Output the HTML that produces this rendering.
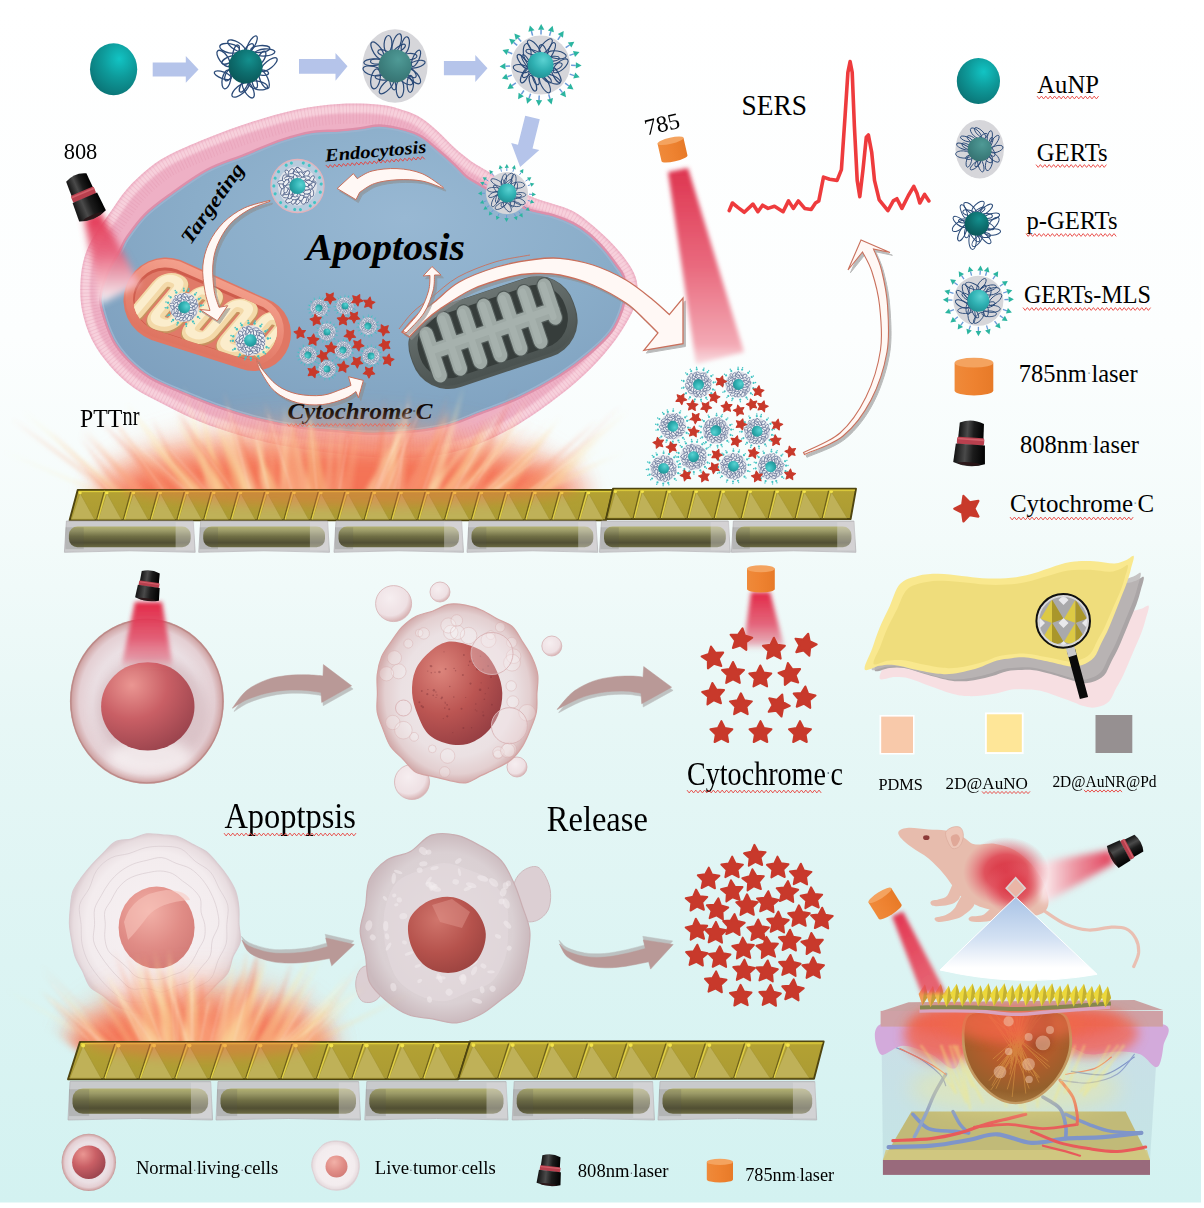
<!DOCTYPE html>
<html><head><meta charset="utf-8"><title>Scheme</title>
<style>html,body{margin:0;padding:0;background:#fff}svg{display:block}text{font-family:"Liberation Serif",serif}</style>
</head><body>
<svg width="1204" height="1208" viewBox="0 0 1204 1208">
<defs><path id="st" d="M0,-9.2 L2.7,-3.7 L8.7,-2.8 L4.4,1.4 L5.4,7.4 L0,4.6 L-5.4,7.4 L-4.4,1.4 L-8.7,-2.8 L-2.7,-3.7Z" fill="#c8392b" stroke="#c8392b" stroke-width="1.6" stroke-linejoin="round"/>

<radialGradient id="gTeal" cx="0.62" cy="0.3" r="0.8"><stop offset="0" stop-color="#12c4c4"/><stop offset="0.45" stop-color="#0e9a9a"/><stop offset="1" stop-color="#0a6e70"/></radialGradient>
<radialGradient id="gTealD" cx="0.6" cy="0.3" r="0.8"><stop offset="0" stop-color="#14908e"/><stop offset="0.5" stop-color="#0d6e6e"/><stop offset="1" stop-color="#0a5254"/></radialGradient>
<radialGradient id="gTealM" cx="0.6" cy="0.3" r="0.8"><stop offset="0" stop-color="#4f9a96"/><stop offset="0.6" stop-color="#3d807e"/><stop offset="1" stop-color="#356e6e"/></radialGradient>
<radialGradient id="gTealL" cx="0.6" cy="0.3" r="0.8"><stop offset="0" stop-color="#5ad2d2"/><stop offset="0.5" stop-color="#2fb0b2"/><stop offset="1" stop-color="#1e8a8e"/></radialGradient>

<g id="mpc"><circle r="14" fill="#dfe2ea"/><g fill="#eef0f4" stroke="#3a4e7a" stroke-width="0.5"><ellipse cx="11" cy="0.8" rx="2.6" ry="1.4" transform="rotate(49.3 11 0.8)"/><ellipse cx="10.8" cy="3.3" rx="2.8" ry="1.6" transform="rotate(36.2 10.8 3.3)"/><ellipse cx="10.4" cy="5" rx="2.8" ry="1.6" transform="rotate(71.6 10.4 5)"/><ellipse cx="7.5" cy="7.9" rx="2.8" ry="1.3" transform="rotate(86 7.5 7.9)"/><ellipse cx="4.7" cy="9.8" rx="2.8" ry="1.5" transform="rotate(72.7 4.7 9.8)"/><ellipse cx="2.1" cy="11.6" rx="2.9" ry="1.6" transform="rotate(113.3 2.1 11.6)"/><ellipse cx="-1.4" cy="10.6" rx="2.8" ry="1.3" transform="rotate(136.6 -1.4 10.6)"/><ellipse cx="-5.6" cy="9.8" rx="3" ry="1.3" transform="rotate(66.2 -5.6 9.8)"/><ellipse cx="-9.2" cy="7.1" rx="2.8" ry="1.3" transform="rotate(204.4 -9.2 7.1)"/><ellipse cx="-10.3" cy="5.1" rx="3.1" ry="1.3" transform="rotate(137.7 -10.3 5.1)"/><ellipse cx="-10.6" cy="1.7" rx="2.6" ry="1.6" transform="rotate(239.9 -10.6 1.7)"/><ellipse cx="-11.1" cy="-2.6" rx="2.9" ry="1.3" transform="rotate(190.3 -11.1 -2.6)"/><ellipse cx="-9.9" cy="-4.5" rx="3" ry="1.5" transform="rotate(261 -9.9 -4.5)"/><ellipse cx="-7.7" cy="-7.8" rx="2.9" ry="1.3" transform="rotate(260.4 -7.7 -7.8)"/><ellipse cx="-6.4" cy="-9.3" rx="2.7" ry="1.4" transform="rotate(179 -6.4 -9.3)"/><ellipse cx="-1.4" cy="-10.8" rx="2.6" ry="1.3" transform="rotate(300.6 -1.4 -10.8)"/><ellipse cx="-0.5" cy="-10.9" rx="2.7" ry="1.6" transform="rotate(267.8 -0.5 -10.9)"/><ellipse cx="4.7" cy="-10.2" rx="3" ry="1.3" transform="rotate(261.9 4.7 -10.2)"/><ellipse cx="7.1" cy="-8.4" rx="2.6" ry="1.5" transform="rotate(303.8 7.1 -8.4)"/><ellipse cx="8.1" cy="-7" rx="3" ry="1.4" transform="rotate(262.3 8.1 -7)"/><ellipse cx="11.1" cy="-2.7" rx="2.7" ry="1.4" transform="rotate(408.5 11.1 -2.7)"/><ellipse cx="8.4" cy="1.6" rx="2.8" ry="1.3" transform="rotate(-32 8.4 1.6)"/><ellipse cx="7.4" cy="4.6" rx="2.6" ry="1.5" transform="rotate(81.6 7.4 4.6)"/><ellipse cx="4" cy="7.7" rx="2.6" ry="1.4" transform="rotate(132.8 4 7.7)"/><ellipse cx="0.4" cy="8.4" rx="2.9" ry="1.3" transform="rotate(73 0.4 8.4)"/><ellipse cx="-3" cy="8" rx="2.4" ry="1.4" transform="rotate(83.7 -3 8)"/><ellipse cx="-4.9" cy="7" rx="2.9" ry="1.4" transform="rotate(62.9 -4.9 7)"/><ellipse cx="-7.8" cy="3.3" rx="2.8" ry="1.4" transform="rotate(89 -7.8 3.3)"/><ellipse cx="-8.7" cy="-0.1" rx="2.9" ry="1.2" transform="rotate(133.5 -8.7 -0.1)"/><ellipse cx="-7.8" cy="-3.5" rx="2.8" ry="1.2" transform="rotate(145.3 -7.8 -3.5)"/><ellipse cx="-5.9" cy="-6.3" rx="2.8" ry="1.2" transform="rotate(163 -5.9 -6.3)"/><ellipse cx="-3.1" cy="-8.2" rx="2.4" ry="1.2" transform="rotate(190.4 -3.1 -8.2)"/><ellipse cx="1.2" cy="-8.5" rx="2.8" ry="1.5" transform="rotate(322 1.2 -8.5)"/><ellipse cx="4.4" cy="-7.2" rx="2.4" ry="1.4" transform="rotate(324.4 4.4 -7.2)"/><ellipse cx="7.2" cy="-4.3" rx="2.7" ry="1.4" transform="rotate(284.8 7.2 -4.3)"/><ellipse cx="8.1" cy="-1.3" rx="2.7" ry="1.5" transform="rotate(307.4 8.1 -1.3)"/><ellipse cx="5.9" cy="2.2" rx="2.3" ry="1.2" transform="rotate(-22.2 5.9 2.2)"/><ellipse cx="2.9" cy="5.4" rx="2.2" ry="1.3" transform="rotate(87.2 2.9 5.4)"/><ellipse cx="-0.8" cy="6.3" rx="2.2" ry="1.2" transform="rotate(57.5 -0.8 6.3)"/><ellipse cx="-4.6" cy="4.3" rx="2.2" ry="1.2" transform="rotate(141 -4.6 4.3)"/><ellipse cx="-6.4" cy="0.2" rx="2.1" ry="1.2" transform="rotate(203.8 -6.4 0.2)"/><ellipse cx="-4.9" cy="-3.5" rx="2.3" ry="1.4" transform="rotate(218.1 -4.9 -3.5)"/><ellipse cx="-0.3" cy="-6.3" rx="2.3" ry="1.3" transform="rotate(309.9 -0.3 -6.3)"/><ellipse cx="3.9" cy="-4.8" rx="2.2" ry="1.4" transform="rotate(359.2 3.9 -4.8)"/><ellipse cx="5.7" cy="-2.7" rx="2.4" ry="1.3" transform="rotate(326.7 5.7 -2.7)"/></g><circle r="5.8" fill="url(#gTealL)"/></g><g id="mpd" fill="#43c3c3"><circle cx="16.1" cy="-1.4" r="1.15"/><circle cx="18.2" cy="-1.5" r="0.75"/><circle cx="15.4" cy="5.1" r="1.15"/><circle cx="17.4" cy="5.7" r="0.75"/><circle cx="11.8" cy="11.1" r="1.15"/><circle cx="13.3" cy="12.6" r="0.75"/><circle cx="4.9" cy="15.4" r="1.15"/><circle cx="5.6" cy="17.4" r="0.75"/><circle cx="-0.4" cy="16.2" r="1.15"/><circle cx="-0.5" cy="18.3" r="0.75"/><circle cx="-6.5" cy="14.9" r="1.15"/><circle cx="-7.3" cy="16.8" r="0.75"/><circle cx="-12.2" cy="10.7" r="1.15"/><circle cx="-13.7" cy="12.1" r="0.75"/><circle cx="-14.8" cy="6.6" r="1.15"/><circle cx="-16.7" cy="7.4" r="0.75"/><circle cx="-16.2" cy="1" r="1.15"/><circle cx="-18.3" cy="1.1" r="0.75"/><circle cx="-15" cy="-6.1" r="1.15"/><circle cx="-17" cy="-6.8" r="0.75"/><circle cx="-10.6" cy="-12.2" r="1.15"/><circle cx="-12" cy="-13.8" r="0.75"/><circle cx="-7.1" cy="-14.6" r="1.15"/><circle cx="-8" cy="-16.5" r="0.75"/><circle cx="-0" cy="-16.2" r="1.15"/><circle cx="-0" cy="-18.3" r="0.75"/><circle cx="5.7" cy="-15.2" r="1.15"/><circle cx="6.4" cy="-17.1" r="0.75"/><circle cx="11.2" cy="-11.7" r="1.15"/><circle cx="12.6" cy="-13.3" r="0.75"/><circle cx="14.5" cy="-7.2" r="1.15"/><circle cx="16.4" cy="-8.2" r="0.75"/></g><g id="mpd1" fill="#43c3c3"><circle cx="17" cy="1.2" r="1.1"/><circle cx="16.2" cy="5.1" r="1.1"/><circle cx="12.5" cy="11.6" r="1.1"/><circle cx="9.3" cy="14.2" r="1.1"/><circle cx="3.2" cy="16.7" r="1.1"/><circle cx="-1.6" cy="16.9" r="1.1"/><circle cx="-8.7" cy="14.6" r="1.1"/><circle cx="-13" cy="10.9" r="1.1"/><circle cx="-15.9" cy="6" r="1.1"/><circle cx="-17" cy="0.9" r="1.1"/><circle cx="-15.8" cy="-6.2" r="1.1"/><circle cx="-13.9" cy="-9.8" r="1.1"/><circle cx="-7.4" cy="-15.3" r="1.1"/><circle cx="-3" cy="-16.7" r="1.1"/><circle cx="3.3" cy="-16.7" r="1.1"/><circle cx="8.3" cy="-14.8" r="1.1"/><circle cx="12.1" cy="-12" r="1.1"/><circle cx="15.4" cy="-7.1" r="1.1"/></g>

<linearGradient id="gCylSide" x1="0" x2="1"><stop offset="0" stop-color="#ef8a3a"/><stop offset="0.5" stop-color="#ee8230"/><stop offset="1" stop-color="#e77a28"/></linearGradient>
<linearGradient id="gBlk" x1="0" x2="1"><stop offset="0" stop-color="#111"/><stop offset="0.35" stop-color="#4a4a4a"/><stop offset="0.6" stop-color="#1c1c1c"/><stop offset="1" stop-color="#000"/></linearGradient>


<filter id="b1" x="-20%" y="-20%" width="140%" height="140%"><feGaussianBlur stdDeviation="1"/></filter>
<filter id="b2" x="-20%" y="-20%" width="140%" height="140%"><feGaussianBlur stdDeviation="2"/></filter>
<filter id="b3" x="-20%" y="-20%" width="140%" height="140%"><feGaussianBlur stdDeviation="3.5"/></filter>
<filter id="b6" x="-30%" y="-30%" width="160%" height="160%"><feGaussianBlur stdDeviation="6"/></filter>
<filter id="b10" x="-40%" y="-40%" width="180%" height="180%"><feGaussianBlur stdDeviation="10"/></filter>
<filter id="b16" x="-50%" y="-50%" width="200%" height="200%"><feGaussianBlur stdDeviation="16"/></filter>
<linearGradient id="gGold" x1="0" y1="0" x2="0" y2="1"><stop offset="0" stop-color="#dccb3a"/><stop offset="0.1" stop-color="#b3a133"/><stop offset="1" stop-color="#ab9b33"/></linearGradient>
<linearGradient id="gRod" x1="0" y1="0" x2="0" y2="1"><stop offset="0" stop-color="#b3b272"/><stop offset="0.2" stop-color="#9b9a67"/><stop offset="0.48" stop-color="#6f6e44"/><stop offset="0.78" stop-color="#514f33"/><stop offset="1" stop-color="#6c6b41"/></linearGradient>
<linearGradient id="gBeam785" x1="0" y1="0" x2="0" y2="1"><stop offset="0" stop-color="#de3550"/><stop offset="0.5" stop-color="#e96a7e"/><stop offset="0.9" stop-color="#f3a9b4"/><stop offset="1" stop-color="#f6b9c2" stop-opacity="0.5"/></linearGradient>
<linearGradient id="gBeam808" x1="0" y1="0" x2="0" y2="1"><stop offset="0" stop-color="#e2304e"/><stop offset="0.45" stop-color="#e8607a" stop-opacity="0.9"/><stop offset="1" stop-color="#ffffff" stop-opacity="0.95"/></linearGradient>
<radialGradient id="gCellBlue" cx="0.58" cy="0.3" r="0.8"><stop offset="0" stop-color="#98b8d3"/><stop offset="0.5" stop-color="#8aadc9"/><stop offset="1" stop-color="#7b9dbc"/></radialGradient>


<linearGradient id="gMitoP" x1="0" y1="0" x2="0" y2="1"><stop offset="0" stop-color="#f3a08c"/><stop offset="0.5" stop-color="#ea8875"/><stop offset="1" stop-color="#de7461"/></linearGradient>
<linearGradient id="gCream" x1="0" y1="0" x2="0" y2="1"><stop offset="0" stop-color="#fbeccb"/><stop offset="1" stop-color="#ecd09a"/></linearGradient>
<linearGradient id="gMitoG" x1="0" y1="0" x2="0" y2="1"><stop offset="0" stop-color="#6b7472"/><stop offset="1" stop-color="#4a5250"/></linearGradient>
<linearGradient id="gArrW" x1="0" y1="0" x2="1" y2="0"><stop offset="0" stop-color="#fff" stop-opacity="0.7"/><stop offset="1" stop-color="#fff7f4"/></linearGradient>


<radialGradient id="gNuc1" cx="0.33" cy="0.26" r="0.85"><stop offset="0" stop-color="#ea9692"/><stop offset="0.45" stop-color="#c95f65"/><stop offset="1" stop-color="#94404a"/></radialGradient>
<radialGradient id="gNuc2" cx="0.32" cy="0.28" r="0.85"><stop offset="0" stop-color="#dc857c"/><stop offset="0.5" stop-color="#bb5552"/><stop offset="1" stop-color="#8f3a40"/></radialGradient>
<radialGradient id="gNuc3" cx="0.4" cy="0.3" r="0.8"><stop offset="0" stop-color="#f2b1a8"/><stop offset="0.55" stop-color="#e08c86"/><stop offset="1" stop-color="#cf7874"/></radialGradient>
<radialGradient id="gNuc4" cx="0.38" cy="0.3" r="0.8"><stop offset="0" stop-color="#d0756c"/><stop offset="0.55" stop-color="#b5524c"/><stop offset="1" stop-color="#98413e"/></radialGradient>
<radialGradient id="gCellN" cx="0.5" cy="0.5" r="0.5"><stop offset="0" stop-color="#e6dade"/><stop offset="0.7" stop-color="#ebe0e4"/><stop offset="0.88" stop-color="#e4cfd3"/><stop offset="0.96" stop-color="#d3abac"/><stop offset="1" stop-color="#c39493"/></radialGradient>
<radialGradient id="gCellA" cx="0.5" cy="0.5" r="0.5"><stop offset="0" stop-color="#f0eaeb"/><stop offset="0.7" stop-color="#ebe1e3"/><stop offset="0.9" stop-color="#e3cfd0"/><stop offset="1" stop-color="#d3adad"/></radialGradient>
<radialGradient id="gCellT" cx="0.5" cy="0.5" r="0.5"><stop offset="0" stop-color="#f7f1f3"/><stop offset="0.8" stop-color="#f3ecee"/><stop offset="0.95" stop-color="#e8dde0"/><stop offset="1" stop-color="#dccdd1"/></radialGradient>
<radialGradient id="gCellT2" cx="0.5" cy="0.5" r="0.5"><stop offset="0" stop-color="#e2dadc"/><stop offset="0.8" stop-color="#dad0d3"/><stop offset="1" stop-color="#cbbabe"/></radialGradient>
<radialGradient id="gBleb" cx="0.4" cy="0.35" r="0.65"><stop offset="0" stop-color="#f6eef0"/><stop offset="0.75" stop-color="#eee0e3"/><stop offset="1" stop-color="#d9b5b6"/></radialGradient>
<linearGradient id="gBeamS" x1="0" y1="0" x2="0" y2="1"><stop offset="0" stop-color="#e22846"/><stop offset="0.55" stop-color="#e24a64" stop-opacity="0.85"/><stop offset="0.85" stop-color="#e0506a" stop-opacity="0.5"/><stop offset="1" stop-color="#e0506a" stop-opacity="0"/></linearGradient>


<linearGradient id="gTri" x1="0" y1="0" x2="0" y2="1"><stop offset="0" stop-color="#a9c3e6"/><stop offset="0.5" stop-color="#d3e1f3"/><stop offset="0.85" stop-color="#ffffff"/><stop offset="1" stop-color="#ffffff"/></linearGradient>
<linearGradient id="gGlass" x1="0" y1="0" x2="0" y2="1"><stop offset="0" stop-color="#c9dde6"/><stop offset="1" stop-color="#c3e3e4"/></linearGradient>
<radialGradient id="gTumor" cx="0.5" cy="0.25" r="0.8"><stop offset="0" stop-color="#d8603c"/><stop offset="0.4" stop-color="#b85c2c"/><stop offset="0.8" stop-color="#94602c"/><stop offset="1" stop-color="#a87a40"/></radialGradient>
<radialGradient id="gRedGlow" cx="0.5" cy="0.5" r="0.5"><stop offset="0" stop-color="#d62a3a"/><stop offset="0.5" stop-color="#df4452" stop-opacity="0.88"/><stop offset="1" stop-color="#e86a78" stop-opacity="0"/></radialGradient>
<linearGradient id="gBeamR" x1="1" y1="0" x2="0" y2="0"><stop offset="0" stop-color="#e03a55"/><stop offset="0.45" stop-color="#ee8594" stop-opacity="0.88"/><stop offset="0.8" stop-color="#fbe4e8" stop-opacity="0.92"/><stop offset="1" stop-color="#ffffff" stop-opacity="0.8"/></linearGradient>
<linearGradient id="gBeamL" x1="0" y1="0" x2="0.4" y2="1"><stop offset="0" stop-color="#e23350"/><stop offset="1" stop-color="#e8485a" stop-opacity="0.85"/></linearGradient>
<linearGradient id="gPyr" x1="0" y1="0" x2="1" y2="0"><stop offset="0" stop-color="#e1cf4a"/><stop offset="0.5" stop-color="#d8c53c"/><stop offset="0.5" stop-color="#a8952a"/><stop offset="1" stop-color="#b9a632"/></linearGradient>


<linearGradient id="gBg" x1="0" y1="0" x2="0" y2="1">
<stop offset="0" stop-color="#ffffff"/><stop offset="0.28" stop-color="#fcfefe"/><stop offset="0.45" stop-color="#f3fbfa"/>
<stop offset="0.6" stop-color="#e7f7f6"/><stop offset="0.8" stop-color="#dcf4f3"/><stop offset="1" stop-color="#d3f2f1"/></linearGradient>
</defs>
<rect x="0" y="0" width="1201" height="1202.5" fill="url(#gBg)"/>
<path d="M339,104 C352.8,103.2 369,103.7 380,104.8 C391,105.9 398.1,108.6 405,110.8 C411.9,113 416,114.8 421.5,118.2 C427,121.7 432.4,126.5 438,131.5 C443.6,136.5 449.2,143 454.8,148 C460.4,153 465.9,157.5 471.4,161.4 C476.9,165.3 481.2,167.1 488,171.4 C494.8,175.7 504.2,182.6 512,187 C519.8,191.4 527.7,195.1 534.6,197.9 C541.5,200.7 546.8,201.7 553.2,203.9 C559.6,206.1 566.6,207.5 573.2,211.2 C579.9,214.8 586.5,220.3 593.1,225.8 C599.7,231.3 607.5,238.6 613,244.4 C618.5,250.2 622.8,255.5 626.3,260.4 C629.8,265.3 632.4,269.3 634.3,273.7 C636.2,278.1 637.3,282.3 637.5,287 C637.7,291.7 636.5,297.5 635.5,302 C634.5,306.5 634.8,307.7 631.4,314 C628,320.3 622,331.1 615.4,340 C608.8,348.9 600.8,358.4 591.5,367.7 C582.2,377 571.6,386.3 559.6,395.6 C547.6,404.9 533,415.5 519.7,423.5 C506.4,431.5 493.2,438.1 479.9,443.4 C466.6,448.6 453.3,452.6 440,455 C426.7,457.4 413.3,457.8 400,458 C386.7,458.2 373.3,457.1 360,456 C346.7,454.9 333.5,453.3 320,451.5 C306.5,449.7 292.5,447.8 279,445 C265.5,442.2 252.2,438.9 239,435 C225.8,431.1 211.7,426.4 199.5,421.5 C187.3,416.6 176.9,411.1 166,405.5 C155.1,399.9 143.3,394.6 134,388 C124.7,381.4 117,374 110,366 C103,358 96.7,349.3 92,340 C87.3,330.7 83.9,319.7 82,310 C80.1,300.3 80.1,290.8 80.5,282 C80.9,273.2 82.2,264.7 84.5,257 C86.8,249.3 89.9,243.2 94,236 C98.1,228.8 103.5,221.8 109,214 C114.5,206.2 120.2,196.8 127,189 C133.8,181.2 142.5,173.2 150,167.3 C157.5,161.4 162,158.6 172,153.5 C182,148.4 197,142.2 210,137 C223,131.8 235.5,127.1 250,122.5 C264.5,117.9 282.2,112.6 297,109.5 C311.8,106.4 325.2,104.8 339,104Z" fill="#eeb0c5"/><path d="M339.3,109.5 C352.9,108.7 368.8,109.2 379.4,110.3 C390.1,111.4 396.8,113.9 403.3,116 C409.8,118.1 413.4,119.6 418.6,122.9 C423.7,126.1 428.9,130.7 434.3,135.6 C439.8,140.5 445.5,147 451.1,152.1 C456.8,157.1 462.6,161.9 468.2,165.9 C473.9,169.9 478.2,171.7 485.1,176.1 C491.9,180.4 501.4,187.3 509.3,191.8 C517.2,196.3 525.5,200.1 532.5,203 C539.5,205.9 545.1,206.9 551.4,209.1 C557.7,211.3 564.2,212.5 570.6,216 C576.9,219.5 583.2,224.7 589.6,230 C596,235.4 603.7,242.6 609,248.2 C614.4,253.8 618.5,259 621.9,263.6 C625.2,268.2 627.5,271.9 629.2,275.8 C630.9,279.8 631.9,283.1 632,287.2 C632.2,291.4 631,296.8 630.1,300.8 C629.2,304.8 629.7,305.4 626.5,311.4 C623.3,317.4 617.5,328 611,336.7 C604.5,345.4 596.7,354.7 587.6,363.8 C578.5,372.9 568,382.1 556.2,391.3 C544.4,400.4 529.9,410.9 516.9,418.8 C503.8,426.6 490.9,433.2 477.9,438.3 C464.9,443.4 452,447.2 439,449.6 C426,452 413,452.3 399.9,452.5 C386.8,452.7 373.6,451.6 360.4,450.5 C347.2,449.4 334.1,447.9 320.7,446.1 C307.3,444.2 293.5,442.3 280.1,439.6 C266.7,436.9 253.6,433.6 240.6,429.7 C227.5,425.9 213.6,421.3 201.6,416.4 C189.6,411.5 179.2,406.1 168.5,400.6 C157.8,395.1 146.2,389.9 137.2,383.5 C128.1,377.1 120.8,370 114.1,362.4 C107.4,354.7 101.4,346.4 96.9,337.5 C92.5,328.6 89.2,318.1 87.4,308.9 C85.6,299.7 85.6,290.7 86,282.3 C86.4,273.9 87.6,265.8 89.8,258.5 C91.9,251.3 94.8,245.6 98.8,238.7 C102.7,231.8 108.1,224.8 113.5,217.2 C118.9,209.5 124.5,200.2 131.1,192.6 C137.8,185 146.2,177.3 153.4,171.6 C160.6,165.9 164.7,163.3 174.5,158.4 C184.3,153.5 199.2,147.2 212,142.1 C224.9,137 237.3,132.3 251.7,127.7 C266,123.2 283.5,117.9 298.1,114.9 C312.7,111.8 325.8,110.3 339.3,109.5Z" fill="none" stroke="#f8d3de" stroke-width="8" opacity="0.95" filter="url(#b1)"/><path d="M339.6,114 C352.9,113.2 368.6,113.7 379,114.7 C389.4,115.8 395.7,118.3 401.9,120.3 C408.1,122.3 411.3,123.6 416.2,126.7 C421.1,129.8 426,134.2 431.3,139 C436.7,143.7 442.4,150.3 448.1,155.5 C453.8,160.6 459.9,165.5 465.6,169.6 C471.4,173.6 475.8,175.5 482.7,179.9 C489.6,184.2 499,191.1 507.1,195.7 C515.1,200.2 523.7,204.2 530.8,207.2 C538,210.1 543.7,211.2 549.9,213.4 C556.2,215.5 562.3,216.6 568.4,220 C574.5,223.3 580.5,228.3 586.7,233.5 C592.9,238.7 600.5,245.9 605.8,251.3 C611,256.8 615,261.9 618.2,266.3 C621.4,270.7 623.5,274.1 625.1,277.6 C626.6,281.1 627.4,283.7 627.5,287.4 C627.6,291.1 626.6,296.1 625.7,299.8 C624.9,303.4 625.6,303.6 622.6,309.3 C619.5,315 613.7,325.5 607.4,334 C601,342.6 593.4,351.7 584.4,360.6 C575.5,369.6 565.1,378.7 553.5,387.7 C541.8,396.8 527.4,407.2 514.6,414.9 C501.7,422.7 489,429.1 476.2,434.1 C463.5,439.1 450.9,442.8 438.2,445.2 C425.5,447.5 412.8,447.9 399.9,448 C387,448.1 373.9,447.1 360.8,446 C347.7,445 334.6,443.4 321.3,441.6 C308,439.8 294.2,437.9 281,435.2 C267.7,432.5 254.8,429.2 241.8,425.4 C228.9,421.6 215.1,417 203.2,412.2 C191.4,407.4 181.1,402 170.6,396.6 C160,391.2 148.6,386 139.8,379.8 C130.9,373.6 124,366.8 117.5,359.4 C111.1,352 105.2,344.1 100.9,335.5 C96.7,327 93.6,316.9 91.8,308.1 C90.1,299.2 90.1,290.5 90.5,282.5 C90.9,274.4 92.1,266.7 94.1,259.8 C96.1,252.9 98.8,247.6 102.7,241 C106.5,234.3 111.9,227.3 117.2,219.7 C122.5,212.2 128,203 134.5,195.6 C141,188.2 149.2,180.7 156.2,175.2 C163.2,169.6 166.9,167.2 176.5,162.4 C186.1,157.6 200.9,151.4 213.7,146.3 C226.4,141.2 238.8,136.5 253,132 C267.2,127.5 284.6,122.3 299,119.3 C313.5,116.3 326.2,114.7 339.6,114Z" fill="none" stroke="#d9869f" stroke-width="20" stroke-dasharray="0.9 2.4" opacity="0.22"/><path d="M339,130.5 C347.3,129.8 355.2,128.8 362,128 C368.8,127.2 372.8,125.2 380,125.5 C387.2,125.8 398.1,128.1 405,129.9 C411.9,131.7 416,133.2 421.5,136.5 C427,139.8 432.4,145.1 438,149.8 C443.6,154.5 450.1,160.4 454.8,164.8 C459.5,169.2 462.2,173.1 466.4,176.4 C470.5,179.7 473.3,180.9 479.7,184.7 C486.1,188.5 496.7,194.8 505,199 C513.3,203.2 521.5,206.9 529.5,209.6 C537.5,212.3 545.9,212.9 553.2,215.2 C560.5,217.5 567.2,220.1 573.2,223.2 C579.2,226.3 583.8,229.4 589.1,233.8 C594.4,238.2 600.4,244.4 605,249.7 C609.6,255 613.9,261.3 617,265.7 C620.1,270.1 622.3,272.1 623.7,276.3 C625.1,280.5 625.7,285.5 625.5,291 C625.3,296.5 624.6,302.7 622.3,309.5 C619.9,316.3 616.9,324.6 611.4,332 C605.9,339.4 598.1,346.4 589.5,353.7 C580.9,361 571.2,368.4 559.6,375.7 C548,383 533,391.3 519.7,397.6 C506.4,403.9 493.2,408.5 479.9,413.5 C466.6,418.5 456.6,424.1 440,427.5 C423.4,430.9 396.7,432.9 380,433.6 C363.3,434.3 353.3,432.5 340,431.5 C326.7,430.5 313.4,429.5 300,427.5 C286.6,425.5 272.7,422.8 259.3,419.5 C245.9,416.2 232.8,412.1 219.5,407.5 C206.2,402.9 191.2,396.6 179.6,391.6 C168,386.6 158.3,382.9 149.7,377.6 C141.1,372.3 133.9,366 127.8,359.7 C121.7,353.4 117.1,348.1 112.8,339.8 C108.5,331.5 103.9,317.6 101.9,310 C99.9,302.4 100,300.3 101,294 C102,287.7 104.8,279.3 108,272 C111.2,264.7 116.8,255.8 120,250 C123.2,244.2 122.9,242.9 127,237 C131.1,231.1 137.7,221.7 144.8,214.6 C151.9,207.5 159.3,202.2 169.7,194.7 C180.1,187.2 194.6,176.5 207,169.8 C219.4,163.2 231.9,159.8 244.4,154.8 C256.9,149.8 270.5,143.7 281.8,139.9 C293.1,136.1 302.5,133.6 312,132 C321.5,130.4 330.7,131.2 339,130.5Z" fill="url(#gCellBlue)" stroke="#dd8faa" stroke-width="2.5"/><path d="M339.2,132.8 C347.5,132.1 355.5,131.1 362.3,130.3 C369.1,129.5 372.9,127.5 379.9,127.8 C386.9,128.1 397.7,130.3 404.4,132.1 C411.1,133.9 415,135.2 420.3,138.5 C425.7,141.7 431,146.9 436.5,151.6 C442,156.2 448.5,162 453.2,166.5 C458,170.9 460.7,174.8 465,178.2 C469.2,181.6 472,182.9 478.5,186.7 C485,190.5 495.6,196.9 504,201.1 C512.3,205.2 520.7,209.1 528.8,211.8 C536.9,214.5 545.3,215.2 552.5,217.4 C559.7,219.6 566.3,222.2 572.1,225.2 C578,228.3 582.4,231.2 587.6,235.6 C592.8,239.9 598.7,246 603.3,251.2 C607.9,256.5 612.1,262.7 615.1,267 C618.2,271.3 620.2,273.1 621.5,277 C622.9,281 623.4,285.6 623.2,290.9 C623,296.2 622.4,302.1 620.1,308.8 C617.9,315.4 614.9,323.4 609.6,330.6 C604.2,337.8 596.5,344.8 588,351.9 C579.5,359.1 569.9,366.5 558.4,373.8 C546.8,381 531.9,389.3 518.7,395.5 C505.5,401.8 492.3,406.4 479.1,411.3 C465.9,416.3 456.1,421.9 439.5,425.2 C423,428.6 396.5,430.6 379.9,431.3 C363.3,432 353.4,430.2 340.2,429.2 C326.9,428.2 313.7,427.2 300.3,425.2 C287,423.2 273.2,420.6 259.9,417.3 C246.5,414 233.5,410 220.3,405.3 C207,400.7 192.1,394.4 180.5,389.5 C168.9,384.5 159.4,380.9 150.9,375.6 C142.4,370.4 135.5,364.2 129.4,358.1 C123.4,351.9 119.1,346.8 114.8,338.7 C110.6,330.6 106.1,316.8 104.1,309.4 C102.2,302 102.3,300.5 103.3,294.4 C104.3,288.3 107,280.1 110.1,272.9 C113.2,265.7 118.9,256.9 122,251.1 C125.2,245.3 124.8,244.1 128.9,238.3 C132.9,232.5 139.4,223.2 146.4,216.2 C153.4,209.3 160.8,204 171,196.6 C181.3,189.2 195.7,178.4 208.1,171.8 C220.5,165.2 232.8,161.9 245.3,156.9 C257.7,152 271.3,145.9 282.5,142.1 C293.7,138.3 302.9,135.8 312.4,134.3 C321.8,132.7 330.9,133.5 339.2,132.8Z" fill="none" stroke="#9ab3cf" stroke-width="1.6" />
<ellipse cx="113.6" cy="69.3" rx="23.6" ry="26" fill="url(#gTeal)"/><path d="M152.7,62.4 L185.8,62.4 L185.8,56 L198.5,69.5 L185.8,82.8 L185.8,76.6 L152.7,76.6 Z" fill="#b5c4ea"/><g fill="none" stroke="#2a4a78" stroke-width="1.3"><ellipse cx="269.1" cy="64.6" rx="9.9" ry="3.8" transform="rotate(-38.9 269.1 64.6)"/><ellipse cx="264.1" cy="79.5" rx="9.7" ry="3.9" transform="rotate(66.7 264.1 79.5)"/><ellipse cx="258.2" cy="85.4" rx="9.5" ry="4.2" transform="rotate(11.6 258.2 85.4)"/><ellipse cx="248.1" cy="88.7" rx="10.3" ry="4.3" transform="rotate(61.4 248.1 88.7)"/><ellipse cx="240.5" cy="89.8" rx="10.5" ry="4.2" transform="rotate(140.9 240.5 89.8)"/><ellipse cx="226.4" cy="79.5" rx="9.5" ry="4.2" transform="rotate(100.9 226.4 79.5)"/><ellipse cx="222.8" cy="75.3" rx="9" ry="3.3" transform="rotate(200.1 222.8 75.3)"/><ellipse cx="223.5" cy="58.4" rx="9.6" ry="4.2" transform="rotate(233.6 223.5 58.4)"/><ellipse cx="229.7" cy="48.3" rx="10.1" ry="4.6" transform="rotate(190.9 229.7 48.3)"/><ellipse cx="236.5" cy="46" rx="9.9" ry="4" transform="rotate(210.8 236.5 46)"/><ellipse cx="251.9" cy="44.1" rx="9.3" ry="3.3" transform="rotate(299.2 251.9 44.1)"/><ellipse cx="260.3" cy="49" rx="9.6" ry="3.4" transform="rotate(354.9 260.3 49)"/><ellipse cx="264.9" cy="52.5" rx="10" ry="3.5" transform="rotate(356.1 264.9 52.5)"/><ellipse cx="261.5" cy="72.5" rx="7.1" ry="2.6" transform="rotate(7.5 261.5 72.5)"/><ellipse cx="254.5" cy="81.7" rx="6.7" ry="2.4" transform="rotate(76 254.5 81.7)"/><ellipse cx="244.1" cy="85" rx="8" ry="3" transform="rotate(119.8 244.1 85)"/><ellipse cx="229.2" cy="74.3" rx="7.3" ry="3.2" transform="rotate(119.9 229.2 74.3)"/><ellipse cx="228.6" cy="60" rx="7.4" ry="2.9" transform="rotate(153.5 228.6 60)"/><ellipse cx="236" cy="51.8" rx="7" ry="2.7" transform="rotate(286.4 236 51.8)"/><ellipse cx="248.5" cy="49.6" rx="7.2" ry="3" transform="rotate(308.3 248.5 49.6)"/><ellipse cx="261.6" cy="57.7" rx="7.2" ry="3.1" transform="rotate(297.7 261.6 57.7)"/></g><circle cx="245.6" cy="66.5" r="17" fill="url(#gTealD)"/><path d="M299,58.9 L335.5,58.9 L335.5,52.9 L347.5,66.3 L335.5,80.8 L335.5,73.8 L299,73.8 Z" fill="#b5c4ea"/><ellipse cx="395" cy="66" rx="32.6" ry="36.8" fill="#d6d6da"/><g fill="none" stroke="#2a4a78" stroke-width="1.2"><ellipse cx="416.8" cy="64.2" rx="8.6" ry="3.3" transform="rotate(-15.5 416.8 64.2)"/><ellipse cx="414" cy="76.4" rx="9" ry="4.1" transform="rotate(49.6 414 76.4)"/><ellipse cx="410.3" cy="83.9" rx="8.6" ry="3.2" transform="rotate(91.5 410.3 83.9)"/><ellipse cx="400" cy="88.6" rx="9.1" ry="3.8" transform="rotate(91 400 88.6)"/><ellipse cx="386.6" cy="86.2" rx="9.8" ry="3.9" transform="rotate(133.9 386.6 86.2)"/><ellipse cx="375.5" cy="78.9" rx="10.1" ry="4.6" transform="rotate(100.1 375.5 78.9)"/><ellipse cx="372.9" cy="70.9" rx="10.2" ry="4.5" transform="rotate(194.4 372.9 70.9)"/><ellipse cx="373.2" cy="62.2" rx="9.4" ry="3.4" transform="rotate(176.8 373.2 62.2)"/><ellipse cx="377.6" cy="51" rx="10.5" ry="4.2" transform="rotate(236.7 377.6 51)"/><ellipse cx="388" cy="44.1" rx="8.6" ry="3.9" transform="rotate(273.4 388 44.1)"/><ellipse cx="396.7" cy="43.3" rx="10" ry="3.8" transform="rotate(288.4 396.7 43.3)"/><ellipse cx="405.3" cy="45.5" rx="8.9" ry="3.8" transform="rotate(281.8 405.3 45.5)"/><ellipse cx="416" cy="58.4" rx="9" ry="3.1" transform="rotate(294.3 416 58.4)"/><ellipse cx="410.3" cy="71.9" rx="7.6" ry="3.4" transform="rotate(44.1 410.3 71.9)"/><ellipse cx="406.1" cy="80.1" rx="7.4" ry="3.3" transform="rotate(30 406.1 80.1)"/><ellipse cx="392.8" cy="82.9" rx="7.1" ry="2.5" transform="rotate(74.2 392.8 82.9)"/><ellipse cx="381.6" cy="77.6" rx="6.5" ry="2.3" transform="rotate(189.1 381.6 77.6)"/><ellipse cx="377.6" cy="61.6" rx="7.1" ry="2.6" transform="rotate(181.9 377.6 61.6)"/><ellipse cx="384.3" cy="53.2" rx="6.7" ry="2.8" transform="rotate(198.1 384.3 53.2)"/><ellipse cx="399.5" cy="48.7" rx="6.9" ry="2.4" transform="rotate(325.4 399.5 48.7)"/><ellipse cx="409" cy="56.7" rx="8" ry="3.2" transform="rotate(356 409 56.7)"/></g><circle cx="395" cy="66" r="16.5" fill="url(#gTealM)"/><path d="M443.9,61 L475.3,61 L475.3,55 L487.5,68.2 L475.3,82 L475.3,75.3 L443.9,75.3 Z" fill="#b5c4ea"/><ellipse cx="540.6" cy="65" rx="29.5" ry="29.5" fill="#d6d6da"/><line x1="571.1" y1="65.3" x2="575.8" y2="65.4" stroke="#6a9bd8" stroke-width="1.5"/><path d="M575.8,68.5 L581.6,65.4 L575.9,62.2 Z" fill="#2bb5a0"/><line x1="569.7" y1="74.1" x2="574.2" y2="75.6" stroke="#6a9bd8" stroke-width="1.5"/><path d="M573.3,78.6 L579.7,77.3 L575.2,72.5 Z" fill="#2bb5a0"/><line x1="565.1" y1="83.2" x2="568.9" y2="86" stroke="#6a9bd8" stroke-width="1.5"/><path d="M567,88.5 L573.5,89.5 L570.7,83.5 Z" fill="#2bb5a0"/><line x1="559.5" y1="88.9" x2="562.5" y2="92.6" stroke="#6a9bd8" stroke-width="1.5"/><path d="M560,94.6 L566,97.2 L564.9,90.7 Z" fill="#2bb5a0"/><line x1="548.7" y1="94.4" x2="550" y2="98.9" stroke="#6a9bd8" stroke-width="1.5"/><path d="M547,99.8 L551.6,104.5 L553,98.1 Z" fill="#2bb5a0"/><line x1="539.2" y1="95.5" x2="539" y2="100.2" stroke="#6a9bd8" stroke-width="1.5"/><path d="M535.9,100 L538.7,106 L542.2,100.3 Z" fill="#2bb5a0"/><line x1="530.6" y1="93.8" x2="529" y2="98.3" stroke="#6a9bd8" stroke-width="1.5"/><path d="M526,97.2 L527.1,103.7 L532,99.3 Z" fill="#2bb5a0"/><line x1="523.9" y1="90.5" x2="521.3" y2="94.4" stroke="#6a9bd8" stroke-width="1.5"/><path d="M518.6,92.7 L518.1,99.3 L523.9,96.2 Z" fill="#2bb5a0"/><line x1="515.9" y1="82.9" x2="512" y2="85.6" stroke="#6a9bd8" stroke-width="1.5"/><path d="M510.2,83.1 L507.4,89 L513.9,88.2 Z" fill="#2bb5a0"/><line x1="511.8" y1="75.1" x2="507.4" y2="76.7" stroke="#6a9bd8" stroke-width="1.5"/><path d="M506.3,73.7 L501.9,78.6 L508.4,79.7 Z" fill="#2bb5a0"/><line x1="510.1" y1="66.1" x2="505.4" y2="66.2" stroke="#6a9bd8" stroke-width="1.5"/><path d="M505.3,63.1 L499.6,66.4 L505.5,69.4 Z" fill="#2bb5a0"/><line x1="512.2" y1="53.8" x2="507.9" y2="52" stroke="#6a9bd8" stroke-width="1.5"/><path d="M509,49.1 L502.5,49.9 L506.7,54.9 Z" fill="#2bb5a0"/><line x1="517.2" y1="45.4" x2="513.6" y2="42.4" stroke="#6a9bd8" stroke-width="1.5"/><path d="M515.6,40 L509.2,38.7 L511.6,44.8 Z" fill="#2bb5a0"/><line x1="521.1" y1="41.5" x2="518.1" y2="37.9" stroke="#6a9bd8" stroke-width="1.5"/><path d="M520.6,35.9 L514.4,33.4 L515.7,39.9 Z" fill="#2bb5a0"/><line x1="532.6" y1="35.6" x2="531.4" y2="31" stroke="#6a9bd8" stroke-width="1.5"/><path d="M534.5,30.2 L529.9,25.4 L528.4,31.8 Z" fill="#2bb5a0"/><line x1="541" y1="34.5" x2="541.1" y2="29.8" stroke="#6a9bd8" stroke-width="1.5"/><path d="M544.3,29.8 L541.2,24 L538,29.7 Z" fill="#2bb5a0"/><line x1="549.5" y1="35.8" x2="550.9" y2="31.3" stroke="#6a9bd8" stroke-width="1.5"/><path d="M553.9,32.2 L552.6,25.8 L547.9,30.4 Z" fill="#2bb5a0"/><line x1="557.8" y1="39.8" x2="560.4" y2="35.9" stroke="#6a9bd8" stroke-width="1.5"/><path d="M563,37.7 L563.7,31.1 L557.8,34.1 Z" fill="#2bb5a0"/><line x1="565.7" y1="47.7" x2="569.6" y2="45" stroke="#6a9bd8" stroke-width="1.5"/><path d="M571.4,47.6 L574.3,41.7 L567.8,42.4 Z" fill="#2bb5a0"/><line x1="569.5" y1="55.4" x2="574" y2="53.9" stroke="#6a9bd8" stroke-width="1.5"/><path d="M575,56.9 L579.5,52.1 L573,50.9 Z" fill="#2bb5a0"/><g fill="none" stroke="#2a4a78" stroke-width="1.1"><ellipse cx="560.6" cy="65.8" rx="9.4" ry="4.1" transform="rotate(-41.4 560.6 65.8)"/><ellipse cx="556.2" cy="75" rx="8.4" ry="2.9" transform="rotate(61.4 556.2 75)"/><ellipse cx="552.1" cy="79.1" rx="9" ry="3.7" transform="rotate(24.5 552.1 79.1)"/><ellipse cx="544.9" cy="84.2" rx="9.6" ry="3.7" transform="rotate(61.8 544.9 84.2)"/><ellipse cx="532.9" cy="83.3" rx="8.2" ry="2.8" transform="rotate(71.9 532.9 83.3)"/><ellipse cx="524.9" cy="75.3" rx="8.2" ry="3" transform="rotate(115.2 524.9 75.3)"/><ellipse cx="521.4" cy="68.6" rx="8.3" ry="3.8" transform="rotate(191.3 521.4 68.6)"/><ellipse cx="522.6" cy="61.4" rx="8.2" ry="2.9" transform="rotate(234 522.6 61.4)"/><ellipse cx="527.2" cy="52.5" rx="9.1" ry="3.9" transform="rotate(265.8 527.2 52.5)"/><ellipse cx="533.6" cy="46.8" rx="8.5" ry="3.4" transform="rotate(228.6 533.6 46.8)"/><ellipse cx="545.5" cy="46.7" rx="9.8" ry="3.7" transform="rotate(309.5 545.5 46.7)"/><ellipse cx="551.5" cy="50" rx="7.9" ry="2.7" transform="rotate(291.3 551.5 50)"/><ellipse cx="556.8" cy="54.8" rx="9.5" ry="3.8" transform="rotate(368.8 556.8 54.8)"/><ellipse cx="555.5" cy="66.6" rx="7.1" ry="3.1" transform="rotate(-21.4 555.5 66.6)"/><ellipse cx="546.3" cy="78.1" rx="6.3" ry="2.5" transform="rotate(43 546.3 78.1)"/><ellipse cx="535.6" cy="78.3" rx="6.8" ry="2.6" transform="rotate(68.7 535.6 78.3)"/><ellipse cx="528" cy="72.2" rx="7.1" ry="2.7" transform="rotate(137 528 72.2)"/><ellipse cx="526.3" cy="61.2" rx="7.4" ry="2.5" transform="rotate(237.9 526.3 61.2)"/><ellipse cx="532.4" cy="52.3" rx="6.7" ry="2.3" transform="rotate(195.1 532.4 52.3)"/><ellipse cx="543.1" cy="50.6" rx="6.3" ry="2.9" transform="rotate(244.8 543.1 50.6)"/><ellipse cx="553.1" cy="58.7" rx="6.2" ry="2.4" transform="rotate(355 553.1 58.7)"/></g><circle cx="540.6" cy="65" r="13" fill="url(#gTealL)"/><g transform="translate(532.5,117.5) rotate(104)"><path d="M0,-7.5 L30,-7.5 L30,-14.5 L51,0 L30,14.5 L30,7.5 L0,7.5 Z" fill="#b5c4ea"/></g>
<path d="M729.2,210.6 L732.4,203 L737.8,207.4 L744.3,212.3 L752.9,204.1 L757.9,211.7 L762.6,205.2 L768,208.4 L774.5,206.3 L783.1,211.7 L788.5,200.9 L793.3,208.4 L798.3,200.9 L804.7,208.4 L811.2,209.5 L815.5,203 L818.8,200.9 L823.5,177.1 L829.6,179.3 L837.1,180.4 L841.4,169.6 L845.1,115.6 L847.9,72.4 L850.1,61.6 L852.2,72.4 L854.4,126.4 L857.2,180.4 L859.8,196.6 L863,169.6 L866.3,137.2 L868.4,135 L871.7,152.3 L874.5,180.4 L879.2,199.8 L887.9,210.6 L893.3,200.9 L896.9,198.7 L901.9,208.4 L908.4,195.5 L913.8,186.4 L917,193.3 L919.8,203 L924.6,194.4 L928.9,200.9" fill="none" stroke="#ee3b3d" stroke-width="3.6" stroke-linejoin="round" stroke-linecap="round"/><text x="741.5" y="115.1" font-size="30" font-weight="normal" font-style="normal" fill="#000" text-anchor="start" textLength="65.4" lengthAdjust="spacingAndGlyphs" >SERS</text>
<ellipse cx="978.4" cy="81" rx="21.6" ry="23.1" fill="url(#gTeal)"/><ellipse cx="979.7" cy="149.3" rx="24.2" ry="29.2" fill="#d6d6da"/><g fill="none" stroke="#2a4a78" stroke-width="0.9"><ellipse cx="996.2" cy="149.1" rx="7.1" ry="3.2" transform="rotate(-18.2 996.2 149.1)"/><ellipse cx="993.7" cy="156.7" rx="7.2" ry="3.1" transform="rotate(43.6 993.7 156.7)"/><ellipse cx="989" cy="163.2" rx="7.6" ry="3.2" transform="rotate(104.7 989 163.2)"/><ellipse cx="980.8" cy="165" rx="7.2" ry="2.6" transform="rotate(73.5 980.8 165)"/><ellipse cx="975.4" cy="165.2" rx="6.6" ry="2.3" transform="rotate(138.8 975.4 165.2)"/><ellipse cx="969" cy="160.8" rx="6.6" ry="2.5" transform="rotate(104.7 969 160.8)"/><ellipse cx="963.4" cy="154.5" rx="7.8" ry="3.6" transform="rotate(184.8 963.4 154.5)"/><ellipse cx="962.9" cy="146.6" rx="6.7" ry="2.3" transform="rotate(203.3 962.9 146.6)"/><ellipse cx="966.4" cy="139" rx="6.3" ry="2.2" transform="rotate(199.4 966.4 139)"/><ellipse cx="975.9" cy="133.3" rx="7" ry="3.2" transform="rotate(224 975.9 133.3)"/><ellipse cx="980.1" cy="133" rx="7.3" ry="2.8" transform="rotate(222.9 980.1 133)"/><ellipse cx="989.8" cy="137" rx="6.4" ry="2.4" transform="rotate(280.7 989.8 137)"/><ellipse cx="994.4" cy="141.5" rx="7.3" ry="2.6" transform="rotate(305.3 994.4 141.5)"/><ellipse cx="991.5" cy="151.6" rx="5.2" ry="2.4" transform="rotate(60.8 991.5 151.6)"/><ellipse cx="988" cy="159" rx="5" ry="2.3" transform="rotate(37.7 988 159)"/><ellipse cx="978.2" cy="162" rx="5.3" ry="1.8" transform="rotate(122.1 978.2 162)"/><ellipse cx="970.5" cy="157" rx="5" ry="2.1" transform="rotate(165.2 970.5 157)"/><ellipse cx="967.3" cy="146.6" rx="5.9" ry="2.3" transform="rotate(209.5 967.3 146.6)"/><ellipse cx="972.1" cy="139.6" rx="5.8" ry="2.5" transform="rotate(215.4 972.1 139.6)"/><ellipse cx="983" cy="137.3" rx="5.4" ry="2.3" transform="rotate(319.5 983 137.3)"/><ellipse cx="990.7" cy="142" rx="4.9" ry="1.7" transform="rotate(287 990.7 142)"/></g><circle cx="979.7" cy="149.3" r="12" fill="url(#gTealM)"/><g fill="none" stroke="#2a4a78" stroke-width="1"><ellipse cx="993.4" cy="223.7" rx="8" ry="3.4" transform="rotate(-50.3 993.4 223.7)"/><ellipse cx="992.6" cy="232" rx="8" ry="3.2" transform="rotate(-4.9 992.6 232)"/><ellipse cx="985.5" cy="238" rx="7.2" ry="2.8" transform="rotate(45.9 985.5 238)"/><ellipse cx="977.1" cy="240.8" rx="7" ry="3" transform="rotate(130.7 977.1 240.8)"/><ellipse cx="972.6" cy="240.9" rx="8.5" ry="3.7" transform="rotate(89.7 972.6 240.9)"/><ellipse cx="962.3" cy="233.1" rx="8.5" ry="3" transform="rotate(115.7 962.3 233.1)"/><ellipse cx="958.9" cy="226" rx="7.9" ry="3.6" transform="rotate(142.7 958.9 226)"/><ellipse cx="959.6" cy="221.9" rx="7.9" ry="3.3" transform="rotate(218 959.6 221.9)"/><ellipse cx="963.9" cy="211.4" rx="7.1" ry="2.6" transform="rotate(248.3 963.9 211.4)"/><ellipse cx="970.1" cy="208.5" rx="8.1" ry="3.4" transform="rotate(223.4 970.1 208.5)"/><ellipse cx="978" cy="207.1" rx="7.9" ry="3.4" transform="rotate(317.5 978 207.1)"/><ellipse cx="986.1" cy="209.5" rx="7.8" ry="2.9" transform="rotate(321.5 986.1 209.5)"/><ellipse cx="991.6" cy="216.6" rx="8.2" ry="3" transform="rotate(345.7 991.6 216.6)"/><ellipse cx="989.1" cy="225.8" rx="5.7" ry="2.4" transform="rotate(33.7 989.1 225.8)"/><ellipse cx="984.5" cy="234.9" rx="5.9" ry="2.5" transform="rotate(6.9 984.5 234.9)"/><ellipse cx="975.1" cy="236.4" rx="6.5" ry="2.5" transform="rotate(50.5 975.1 236.4)"/><ellipse cx="967" cy="232.2" rx="5.6" ry="2.4" transform="rotate(97.3 967 232.2)"/><ellipse cx="964.1" cy="220.9" rx="5.6" ry="2" transform="rotate(182.1 964.1 220.9)"/><ellipse cx="969" cy="212.9" rx="6.3" ry="2.8" transform="rotate(193.4 969 212.9)"/><ellipse cx="979.7" cy="210.8" rx="5.9" ry="2.3" transform="rotate(328.8 979.7 210.8)"/><ellipse cx="986.8" cy="215.9" rx="5.6" ry="2.5" transform="rotate(360.1 986.8 215.9)"/></g><circle cx="976.7" cy="223.8" r="12" fill="url(#gTealD)"/><ellipse cx="978.4" cy="300.8" rx="25" ry="25" fill="#d6d6da"/><line x1="1004.4" y1="299.6" x2="1008.6" y2="299.5" stroke="#6a9bd8" stroke-width="1.3"/><path d="M1008.8,302.3 L1013.9,299.2 L1008.5,296.6 Z" fill="#2bb5a0"/><line x1="1002.9" y1="309.4" x2="1007" y2="310.8" stroke="#6a9bd8" stroke-width="1.3"/><path d="M1006,313.5 L1011.9,312.5 L1007.9,308.1 Z" fill="#2bb5a0"/><line x1="999.8" y1="315.6" x2="1003.3" y2="318" stroke="#6a9bd8" stroke-width="1.3"/><path d="M1001.7,320.4 L1007.6,321 L1004.9,315.7 Z" fill="#2bb5a0"/><line x1="994.6" y1="321.2" x2="997.2" y2="324.5" stroke="#6a9bd8" stroke-width="1.3"/><path d="M995,326.3 L1000.5,328.6 L999.4,322.7 Z" fill="#2bb5a0"/><line x1="986.5" y1="325.5" x2="987.8" y2="329.6" stroke="#6a9bd8" stroke-width="1.3"/><path d="M985.1,330.5 L989.4,334.5 L990.5,328.7 Z" fill="#2bb5a0"/><line x1="978.4" y1="326.8" x2="978.4" y2="331.1" stroke="#6a9bd8" stroke-width="1.3"/><path d="M975.6,331.1 L978.4,336.3 L981.3,331.1 Z" fill="#2bb5a0"/><line x1="970.4" y1="325.6" x2="969.1" y2="329.6" stroke="#6a9bd8" stroke-width="1.3"/><path d="M966.4,328.7 L967.5,334.6 L971.8,330.5 Z" fill="#2bb5a0"/><line x1="963.2" y1="321.9" x2="960.7" y2="325.4" stroke="#6a9bd8" stroke-width="1.3"/><path d="M958.4,323.7 L957.7,329.6 L963.1,327.1 Z" fill="#2bb5a0"/><line x1="957.9" y1="316.8" x2="954.5" y2="319.4" stroke="#6a9bd8" stroke-width="1.3"/><path d="M952.8,317.1 L950.4,322.6 L956.3,321.6 Z" fill="#2bb5a0"/><line x1="954" y1="309.7" x2="949.9" y2="311.1" stroke="#6a9bd8" stroke-width="1.3"/><path d="M949,308.5 L945,312.9 L950.9,313.8 Z" fill="#2bb5a0"/><line x1="952.4" y1="300.1" x2="948.1" y2="300" stroke="#6a9bd8" stroke-width="1.3"/><path d="M948.2,297.1 L942.9,299.8 L948.1,302.8 Z" fill="#2bb5a0"/><line x1="953.5" y1="293.4" x2="949.4" y2="292.2" stroke="#6a9bd8" stroke-width="1.3"/><path d="M950.2,289.4 L944.4,290.7 L948.6,294.9 Z" fill="#2bb5a0"/><line x1="957.7" y1="285" x2="954.3" y2="282.4" stroke="#6a9bd8" stroke-width="1.3"/><path d="M956.1,280.1 L950.2,279.2 L952.6,284.7 Z" fill="#2bb5a0"/><line x1="964" y1="279.2" x2="961.6" y2="275.6" stroke="#6a9bd8" stroke-width="1.3"/><path d="M964,274 L958.7,271.3 L959.2,277.2 Z" fill="#2bb5a0"/><line x1="971.6" y1="275.7" x2="970.5" y2="271.6" stroke="#6a9bd8" stroke-width="1.3"/><path d="M973.3,270.8 L969.2,266.5 L967.8,272.3 Z" fill="#2bb5a0"/><line x1="980" y1="274.8" x2="980.3" y2="270.6" stroke="#6a9bd8" stroke-width="1.3"/><path d="M983.1,270.8 L980.6,265.4 L977.4,270.4 Z" fill="#2bb5a0"/><line x1="985.5" y1="275.8" x2="986.7" y2="271.7" stroke="#6a9bd8" stroke-width="1.3"/><path d="M989.4,272.5 L988.1,266.7 L983.9,270.9 Z" fill="#2bb5a0"/><line x1="992.9" y1="279.2" x2="995.3" y2="275.7" stroke="#6a9bd8" stroke-width="1.3"/><path d="M997.7,277.3 L998.2,271.3 L992.9,274.1 Z" fill="#2bb5a0"/><line x1="999.9" y1="286.2" x2="1003.5" y2="283.8" stroke="#6a9bd8" stroke-width="1.3"/><path d="M1005.1,286.2 L1007.8,280.9 L1001.9,281.5 Z" fill="#2bb5a0"/><line x1="1003.2" y1="293" x2="1007.3" y2="291.7" stroke="#6a9bd8" stroke-width="1.3"/><path d="M1008.1,294.5 L1012.3,290.2 L1006.4,289 Z" fill="#2bb5a0"/><g fill="none" stroke="#2a4a78" stroke-width="0.9"><ellipse cx="995.3" cy="299.5" rx="8" ry="3.4" transform="rotate(-40.4 995.3 299.5)"/><ellipse cx="992" cy="308.9" rx="8.3" ry="3.5" transform="rotate(-0.6 992 308.9)"/><ellipse cx="989.2" cy="313.8" rx="7.3" ry="2.9" transform="rotate(0.5 989.2 313.8)"/><ellipse cx="978.7" cy="317.8" rx="7" ry="3" transform="rotate(132.2 978.7 317.8)"/><ellipse cx="971.6" cy="315.2" rx="8.4" ry="3.7" transform="rotate(85.7 971.6 315.2)"/><ellipse cx="965.5" cy="310.5" rx="7.8" ry="3" transform="rotate(178.6 965.5 310.5)"/><ellipse cx="962.1" cy="304" rx="7.4" ry="3.1" transform="rotate(206.6 962.1 304)"/><ellipse cx="962.3" cy="296.5" rx="8.1" ry="2.9" transform="rotate(226.3 962.3 296.5)"/><ellipse cx="965.6" cy="290.9" rx="7.1" ry="2.7" transform="rotate(252 965.6 290.9)"/><ellipse cx="972.3" cy="286.1" rx="7.1" ry="2.8" transform="rotate(201.9 972.3 286.1)"/><ellipse cx="981.4" cy="284.5" rx="7.1" ry="2.8" transform="rotate(306.1 981.4 284.5)"/><ellipse cx="988.2" cy="288.5" rx="8.4" ry="2.9" transform="rotate(344.1 988.2 288.5)"/><ellipse cx="992.5" cy="291.3" rx="7.5" ry="3.3" transform="rotate(344.3 992.5 291.3)"/><ellipse cx="989.6" cy="304.7" rx="5.7" ry="2.4" transform="rotate(-19.5 989.6 304.7)"/><ellipse cx="985.9" cy="310.7" rx="6" ry="2.5" transform="rotate(86.1 985.9 310.7)"/><ellipse cx="975.3" cy="313.1" rx="5.4" ry="2" transform="rotate(58.2 975.3 313.1)"/><ellipse cx="968.4" cy="308.6" rx="5.8" ry="2.4" transform="rotate(93.2 968.4 308.6)"/><ellipse cx="967.1" cy="297" rx="6" ry="2.4" transform="rotate(213.7 967.1 297)"/><ellipse cx="971.5" cy="291.2" rx="5.6" ry="2.3" transform="rotate(265.3 971.5 291.2)"/><ellipse cx="982.3" cy="289.5" rx="5.3" ry="2" transform="rotate(308.3 982.3 289.5)"/><ellipse cx="988.4" cy="293.2" rx="6.2" ry="2.4" transform="rotate(283.2 988.4 293.2)"/></g><circle cx="978.4" cy="300.8" r="11" fill="url(#gTealL)"/><text x="1037.3" y="92.7" font-size="26" font-weight="normal" font-style="normal" fill="#000" text-anchor="start" textLength="61.6" lengthAdjust="spacingAndGlyphs" >AuNP</text><polyline points="1037,96.1 1039.2,98.9 1041.4,96.1 1043.6,98.9 1045.8,96.1 1048,98.9 1050.2,96.1 1052.4,98.9 1054.6,96.1 1056.8,98.9 1059,96.1 1061.2,98.9 1063.4,96.1 1065.6,98.9 1067.8,96.1 1070,98.9 1072.2,96.1 1074.4,98.9 1076.6,96.1 1078.8,98.9 1081,96.1 1083.2,98.9 1085.4,96.1 1087.6,98.9 1089.8,96.1 1092,98.9 1094.2,96.1 1096.4,98.9 1098.6,96.1" fill="none" stroke="#e8413c" stroke-width="0.9"/><text x="1036.8" y="161" font-size="26" font-weight="normal" font-style="normal" fill="#000" text-anchor="start" textLength="70.8" lengthAdjust="spacingAndGlyphs" >GERTs</text><polyline points="1036,164.6 1038.2,167.4 1040.4,164.6 1042.6,167.4 1044.8,164.6 1047,167.4 1049.2,164.6 1051.4,167.4 1053.6,164.6 1055.8,167.4 1058,164.6 1060.2,167.4 1062.4,164.6 1064.6,167.4 1066.8,164.6 1069,167.4 1071.2,164.6 1073.4,167.4 1075.6,164.6 1077.8,167.4 1080,164.6 1082.2,167.4 1084.4,164.6 1086.6,167.4 1088.8,164.6 1091,167.4 1093.2,164.6 1095.4,167.4 1097.6,164.6 1099.8,167.4 1102,164.6 1104.2,167.4 1106.4,164.6" fill="none" stroke="#e8413c" stroke-width="0.9"/><text x="1026.4" y="229.3" font-size="26" font-weight="normal" font-style="normal" fill="#000" text-anchor="start" textLength="91.1" lengthAdjust="spacingAndGlyphs" >p-GERTs</text><polyline points="1026,233.6 1028.2,236.4 1030.4,233.6 1032.6,236.4 1034.8,233.6 1037,236.4 1039.2,233.6 1041.4,236.4 1043.6,233.6 1045.8,236.4 1048,233.6 1050.2,236.4 1052.4,233.6 1054.6,236.4 1056.8,233.6 1059,236.4 1061.2,233.6 1063.4,236.4 1065.6,233.6 1067.8,236.4 1070,233.6 1072.2,236.4 1074.4,233.6 1076.6,236.4 1078.8,233.6 1081,236.4 1083.2,233.6 1085.4,236.4 1087.6,233.6 1089.8,236.4 1092,233.6 1094.2,236.4 1096.4,233.6 1098.6,236.4 1100.8,233.6 1103,236.4 1105.2,233.6 1107.4,236.4 1109.6,233.6 1111.8,236.4 1114,233.6 1116.2,236.4" fill="none" stroke="#e8413c" stroke-width="0.9"/><text x="1023.9" y="303.3" font-size="26" font-weight="normal" font-style="normal" fill="#000" text-anchor="start" textLength="127.1" lengthAdjust="spacingAndGlyphs" >GERTs-MLS</text><polyline points="1023,307.6 1025.2,310.4 1027.4,307.6 1029.6,310.4 1031.8,307.6 1034,310.4 1036.2,307.6 1038.4,310.4 1040.6,307.6 1042.8,310.4 1045,307.6 1047.2,310.4 1049.4,307.6 1051.6,310.4 1053.8,307.6 1056,310.4 1058.2,307.6 1060.4,310.4 1062.6,307.6 1064.8,310.4 1067,307.6 1069.2,310.4 1071.4,307.6 1073.6,310.4 1075.8,307.6 1078,310.4 1080.2,307.6 1082.4,310.4 1084.6,307.6 1086.8,310.4 1089,307.6 1091.2,310.4 1093.4,307.6 1095.6,310.4 1097.8,307.6 1100,310.4 1102.2,307.6 1104.4,310.4 1106.6,307.6 1108.8,310.4 1111,307.6 1113.2,310.4 1115.4,307.6 1117.6,310.4 1119.8,307.6 1122,310.4 1124.2,307.6 1126.4,310.4 1128.6,307.6 1130.8,310.4 1133,307.6 1135.2,310.4 1137.4,307.6 1139.6,310.4 1141.8,307.6 1144,310.4 1146.2,307.6 1148.4,310.4 1150.6,307.6" fill="none" stroke="#e8413c" stroke-width="0.9"/><g transform="rotate(0 974 376.6)"><path d="M954.6,362.7 L954.6,390.6 A19.3,4.9 0 0 0 993.3,390.6 L993.3,362.7 Z" fill="url(#gCylSide)"/><ellipse cx="974" cy="362.7" rx="19.3" ry="4.9" fill="#f4a35f"/></g><text x="1018.8" y="382.3" font-size="25" font-weight="normal" font-style="normal" fill="#000" text-anchor="start" textLength="118.8" lengthAdjust="spacingAndGlyphs" >785nm<tspan fill="#8aa" font-size="14" dy="-4">·</tspan><tspan dy="4">laser</tspan></text><g transform="translate(970.5,443) rotate(4)"><path d="M-12.1,-19.8 Q0,-25.3 12.1,-19.8 L12.7,-3.7 L-12.7,-3.7 Z" fill="url(#gBlk)"/><rect x="-13.7" y="-5.5" width="27.3" height="7.4" rx="1.8" fill="#b8404e"/><rect x="-13.4" y="-4.4" width="26.7" height="1.6" fill="#d86873" opacity="0.8"/><path d="M-14.6,1.4 L14.6,1.4 L15.9,20.2 Q0,26.2 -15.9,20.2 Z" fill="url(#gBlk)"/><ellipse cx="0" cy="20.9" rx="11.4" ry="1.6" fill="#2a1416" opacity="0.9"/></g><text x="1020" y="452.9" font-size="25" font-weight="normal" font-style="normal" fill="#000" text-anchor="start" textLength="119" lengthAdjust="spacingAndGlyphs" >808nm<tspan fill="#8aa" font-size="14" dy="-4">·</tspan><tspan dy="4">laser</tspan></text><use href="#st" transform="translate(967.6,508.7) rotate(-18) scale(1.450)"/><text x="1010" y="512" font-size="26" font-weight="normal" font-style="normal" fill="#000" text-anchor="start" textLength="144.2" lengthAdjust="spacingAndGlyphs" >Cytochrome<tspan fill="#8aa" font-size="14" dy="-4">·</tspan><tspan dy="4">C</tspan></text><polyline points="1010,517.1 1012.2,519.9 1014.4,517.1 1016.6,519.9 1018.8,517.1 1021,519.9 1023.2,517.1 1025.4,519.9 1027.6,517.1 1029.8,519.9 1032,517.1 1034.2,519.9 1036.4,517.1 1038.6,519.9 1040.8,517.1 1043,519.9 1045.2,517.1 1047.4,519.9 1049.6,517.1 1051.8,519.9 1054,517.1 1056.2,519.9 1058.4,517.1 1060.6,519.9 1062.8,517.1 1065,519.9 1067.2,517.1 1069.4,519.9 1071.6,517.1 1073.8,519.9 1076,517.1 1078.2,519.9 1080.4,517.1 1082.6,519.9 1084.8,517.1 1087,519.9 1089.2,517.1 1091.4,519.9 1093.6,517.1 1095.8,519.9 1098,517.1 1100.2,519.9 1102.4,517.1 1104.6,519.9 1106.8,517.1 1109,519.9 1111.2,517.1 1113.4,519.9 1115.6,517.1 1117.8,519.9 1120,517.1 1122.2,519.9 1124.4,517.1 1126.6,519.9 1128.8,517.1 1131,519.9 1133.2,517.1" fill="none" stroke="#e8413c" stroke-width="0.9"/>
<g transform="translate(207,316) rotate(20)"><path d="M-44,-43.5 L50,-36.5 A37,37 0 0 1 50,38 L-44,41.5 A42.5,42.5 0 0 1 -44,-43.5 Z" fill="#e07764"/><path d="M-44,-42 L50,-35 A35.5,35.5 0 0 1 50,35 L-44,38 A41,40 0 0 1 -44,-42 Z" fill="url(#gMitoP)"/><path d="M-44,-33.5 L50,-27.5 A28,28 0 0 1 50,27.5 L-44,31 A33,32.2 0 0 1 -44,-33.5 Z" fill="#cf5c4c"/><path d="M-44,-30.5 L50,-24.5 A26,26 0 0 1 50,27 L-44,30.5 A31,30.5 0 0 1 -44,-30.5 Z" fill="#e07a68"/><clipPath id="cpMP"><path d="M-44,-33.5 L50,-27.5 A28,28 0 0 1 50,27.5 L-44,31 A33,32.2 0 0 1 -44,-33.5 Z"/></clipPath><g clip-path="url(#cpMP)"><g transform="skewX(-20)" fill="none" stroke-linecap="round" stroke-linejoin="round"><path d="M-60,23 L-60,-13 Q-60,-22 -50.8,-22 Q-41.5,-22 -41.5,-13 L-41.5,14 Q-41.5,23 -32.2,23 Q-23,23 -23,14 L-23,-13 Q-23,-22 -13.8,-22 Q-4.5,-22 -4.5,-13 L-4.5,14 Q-4.5,23 4.8,23 Q14,23 14,14 L14,-13 Q14,-22 23.2,-22 Q32.5,-22 32.5,-13 L32.5,14 Q32.5,23 41.8,23 Q51,23 51,14 L51,-13 Q51,-22 60.2,-22 Q69.5,-22 69.5,-13 L69.5,14" stroke="#c7925f" stroke-width="16.5" transform="translate(1,1.6)"/><path d="M-60,23 L-60,-13 Q-60,-22 -50.8,-22 Q-41.5,-22 -41.5,-13 L-41.5,14 Q-41.5,23 -32.2,23 Q-23,23 -23,14 L-23,-13 Q-23,-22 -13.8,-22 Q-4.5,-22 -4.5,-13 L-4.5,14 Q-4.5,23 4.8,23 Q14,23 14,14 L14,-13 Q14,-22 23.2,-22 Q32.5,-22 32.5,-13 L32.5,14 Q32.5,23 41.8,23 Q51,23 51,14 L51,-13 Q51,-22 60.2,-22 Q69.5,-22 69.5,-13 L69.5,14" stroke="#f3d9a8" stroke-width="15"/><path d="M-60,23 L-60,-13 Q-60,-22 -50.8,-22 Q-41.5,-22 -41.5,-13 L-41.5,14 Q-41.5,23 -32.2,23 Q-23,23 -23,14 L-23,-13 Q-23,-22 -13.8,-22 Q-4.5,-22 -4.5,-13 L-4.5,14 Q-4.5,23 4.8,23 Q14,23 14,14 L14,-13 Q14,-22 23.2,-22 Q32.5,-22 32.5,-13 L32.5,14 Q32.5,23 41.8,23 Q51,23 51,14 L51,-13 Q51,-22 60.2,-22 Q69.5,-22 69.5,-13 L69.5,14" stroke="#fbedcc" stroke-width="8" transform="translate(-1.5,-1.2)"/></g></g></g><g transform="translate(493,332.5) rotate(-18.5)"><rect x="-86" y="-41.5" width="172" height="83" rx="38" fill="#4f5755"/><rect x="-85" y="-41" width="170" height="79" rx="37" fill="url(#gMitoG)"/><rect x="-77" y="-33" width="154" height="64" rx="30" fill="#363d3b"/><g fill="none" stroke-linecap="round" stroke-linejoin="round" transform="translate(0,-1) scale(1.1,1.22)"><path d="M-58,-15 L-58,20 M-38.7,-22 L-38.7,20 M-19.4,-22 L-19.4,20 M-0.1,-22 L-0.1,20 M19.2,-22 L19.2,20 M38.5,-22 L38.5,20 M57.8,-22 L57.8,5 M-58,0 L58,-1" stroke="#505957" stroke-width="14.5"/><path d="M-58,-15 L-58,20 M-38.7,-22 L-38.7,20 M-19.4,-22 L-19.4,20 M-0.1,-22 L-0.1,20 M19.2,-22 L19.2,20 M38.5,-22 L38.5,20 M57.8,-22 L57.8,5 M-58,0 L58,-1" stroke="#9ea9a5" stroke-width="12.5"/><path d="M-58,-15 L-58,20 M-38.7,-22 L-38.7,20 M-19.4,-22 L-19.4,20 M-0.1,-22 L-0.1,20 M19.2,-22 L19.2,20 M38.5,-22 L38.5,20 M57.8,-22 L57.8,5 M-58,0 L58,-1" stroke="#aab5b1" stroke-width="6" transform="translate(-1.2,-1)" opacity="0.7"/></g></g><circle cx="297.5" cy="186" r="26.5" fill="#dfe5ee" fill-opacity="0.5" stroke="#e3b3bb" stroke-width="1.3"/><use href="#mpc" transform="translate(297.5,186) scale(1.393) rotate(40)"/><use href="#mpd1" transform="translate(297.5,186) scale(1.393) rotate(40)"/><use href="#mpc" transform="translate(184.2,307.3) scale(1.036) rotate(40)"/><use href="#mpd" transform="translate(184.2,307.3) scale(1.036) rotate(40)"/><use href="#mpc" transform="translate(250.4,340.5) scale(1.086) rotate(310)"/><use href="#mpd" transform="translate(250.4,340.5) scale(1.086) rotate(310)"/><path d="M402,332 C404.3,329.3 410.6,321 416,316 C421.4,311 427.2,307.7 434.4,302 C441.6,296.3 448.9,287.8 459.3,282 C469.7,276.2 484.2,270.8 496.7,267 C509.1,263.2 523.5,260.9 534,259.5 C544.5,258.1 550.2,257.4 560,258.3 C569.8,259.2 582,261.4 593,265 C604,268.6 616,274.2 626,280 C636,285.8 645.8,294.2 653,300 C660.2,305.8 666.6,312.2 669.3,314.6 L683,298 L683,343.7 L643.9,350.3 L658,332.9  C655.8,330.8 650.3,325 645,320 C639.7,315 634.7,308.8 626,303 C617.3,297.2 604,289.7 593,285 C582,280.3 569.8,276.9 560,275 C550.2,273.1 542.5,273.2 534,273.5 C525.5,273.8 519.6,274.3 509.2,277 C498.8,279.7 483.4,284.1 471.8,289.5 C460.2,294.9 447.4,304 439.4,309.4 C431.4,314.8 429,317.4 424,322 C419,326.6 411.9,334.3 409.5,336.8Z" fill="#8e8e8e" stroke="#8e8e8e" stroke-width="1" opacity="0.6" transform="translate(2.4,2.8)"/><path d="M402,332 C404.3,329.3 410.6,321 416,316 C421.4,311 427.2,307.7 434.4,302 C441.6,296.3 448.9,287.8 459.3,282 C469.7,276.2 484.2,270.8 496.7,267 C509.1,263.2 523.5,260.9 534,259.5 C544.5,258.1 550.2,257.4 560,258.3 C569.8,259.2 582,261.4 593,265 C604,268.6 616,274.2 626,280 C636,285.8 645.8,294.2 653,300 C660.2,305.8 666.6,312.2 669.3,314.6 L683,298 L683,343.7 L643.9,350.3 L658,332.9  C655.8,330.8 650.3,325 645,320 C639.7,315 634.7,308.8 626,303 C617.3,297.2 604,289.7 593,285 C582,280.3 569.8,276.9 560,275 C550.2,273.1 542.5,273.2 534,273.5 C525.5,273.8 519.6,274.3 509.2,277 C498.8,279.7 483.4,284.1 471.8,289.5 C460.2,294.9 447.4,304 439.4,309.4 C431.4,314.8 429,317.4 424,322 C419,326.6 411.9,334.3 409.5,336.8Z" fill="#fff8f5" stroke="#c9705c" stroke-width="1.3" stroke-linejoin="miter"/><path d="M399,329 C401.3,326.2 407.5,317.3 413,312 C418.5,306.7 424.5,302.8 432,297 C439.5,291.2 447.5,282.8 458,277 C468.5,271.2 483,265.7 495,262 C507,258.3 524.2,256.2 530,255" fill="none" stroke="#c9705c" stroke-width="0.9"/><path d="M403,331 C405.8,327.7 415.8,317.7 420,311 C424.2,304.3 426.8,296.9 428.5,291 C430.2,285.1 429.8,278.1 430,275.5 L423.2,276 L432,266.5 L441,275 L434.5,275  C434.2,277.7 434.8,284.7 433,291 C431.2,297.3 428.5,306 424,313 C419.5,320 409,329.7 406,333Z" fill="#8e8e8e" stroke="#8e8e8e" stroke-width="1" opacity="0.6" transform="translate(2.4,2.8)"/><path d="M403,331 C405.8,327.7 415.8,317.7 420,311 C424.2,304.3 426.8,296.9 428.5,291 C430.2,285.1 429.8,278.1 430,275.5 L423.2,276 L432,266.5 L441,275 L434.5,275  C434.2,277.7 434.8,284.7 433,291 C431.2,297.3 428.5,306 424,313 C419.5,320 409,329.7 406,333Z" fill="#fff8f5" stroke="#c9705c" stroke-width="1" stroke-linejoin="miter"/><path d="M443.2,187.3 C439.7,185 429.7,176.7 422,173.6 C414.3,170.5 405.3,169 397,168.6 C388.7,168.2 378.7,169.3 372.1,171 C365.5,172.7 359.7,177.3 357.2,178.6 L353.4,173.6 L337.2,188.5 L356,199.7 L359.7,192.3  C362.2,190.8 368.4,185.6 374.6,183.5 C380.8,181.4 389.1,180.2 397,179.8 C404.9,179.4 414.3,179.6 422,181 C429.7,182.4 439.7,187.1 443.2,188.3Z" fill="#8e8e8e" stroke="#8e8e8e" stroke-width="1" opacity="0.6" transform="translate(2.4,2.8)"/><path d="M443.2,187.3 C439.7,185 429.7,176.7 422,173.6 C414.3,170.5 405.3,169 397,168.6 C388.7,168.2 378.7,169.3 372.1,171 C365.5,172.7 359.7,177.3 357.2,178.6 L353.4,173.6 L337.2,188.5 L356,199.7 L359.7,192.3  C362.2,190.8 368.4,185.6 374.6,183.5 C380.8,181.4 389.1,180.2 397,179.8 C404.9,179.4 414.3,179.6 422,181 C429.7,182.4 439.7,187.1 443.2,188.3Z" fill="#fff8f5" stroke="#c9705c" stroke-width="1" stroke-linejoin="miter"/><path d="M270,200.3 C265.7,201.6 251.9,204.3 244.2,208 C236.4,211.7 229.4,216.7 223.5,222.5 C217.6,228.3 212.4,235.8 209,243 C205.6,250.2 203.5,258 202.8,266 C202.1,274 203.7,283.4 204.9,290.8 C206.1,298.2 209.2,307.2 210,310.5 L199.7,309.4 L217.3,320.8 L227.7,305.7 L219,307.3  C218.2,304.6 215.2,297.7 214.2,290.8 C213.2,283.9 212.3,273.6 212.8,266 C213.3,258.4 214.5,252.1 217.3,245.2 C220.1,238.3 224.5,230.4 229.7,224.5 C234.9,218.6 241.7,213.9 248.4,210 C255.1,206.1 266.4,202.8 270,201.3Z" fill="#8e8e8e" stroke="#8e8e8e" stroke-width="1" opacity="0.6" transform="translate(2.4,2.8)"/><path d="M270,200.3 C265.7,201.6 251.9,204.3 244.2,208 C236.4,211.7 229.4,216.7 223.5,222.5 C217.6,228.3 212.4,235.8 209,243 C205.6,250.2 203.5,258 202.8,266 C202.1,274 203.7,283.4 204.9,290.8 C206.1,298.2 209.2,307.2 210,310.5 L199.7,309.4 L217.3,320.8 L227.7,305.7 L219,307.3  C218.2,304.6 215.2,297.7 214.2,290.8 C213.2,283.9 212.3,273.6 212.8,266 C213.3,258.4 214.5,252.1 217.3,245.2 C220.1,238.3 224.5,230.4 229.7,224.5 C234.9,218.6 241.7,213.9 248.4,210 C255.1,206.1 266.4,202.8 270,201.3Z" fill="#fff8f5" stroke="#c9705c" stroke-width="1" stroke-linejoin="miter"/><path d="M256.6,359 C257.5,360.7 258.5,364.6 262,369 C265.5,373.4 271.5,381.2 277.4,385.4 C283.3,389.6 289.9,392.4 297.4,394 C304.9,395.6 314.8,396.1 322.3,395.3 C329.8,394.5 337.4,390.6 342.2,389 C347,387.4 349.5,386 351,385.4 L348.5,376.7 L363.4,380.4 L358.4,397.8 L356,391.6  C354.1,392.8 350.3,396.4 344.7,398.6 C339.1,400.8 330.2,403.9 322.3,404.6 C314.4,405.3 305.3,405 297.4,402.8 C289.5,400.6 281.1,396.7 275,391.6 C268.9,386.5 264.1,377.3 261,372 C257.9,366.7 257.3,362 256.6,360Z" fill="#8e8e8e" stroke="#8e8e8e" stroke-width="1" opacity="0.6" transform="translate(2.4,2.8)"/><path d="M256.6,359 C257.5,360.7 258.5,364.6 262,369 C265.5,373.4 271.5,381.2 277.4,385.4 C283.3,389.6 289.9,392.4 297.4,394 C304.9,395.6 314.8,396.1 322.3,395.3 C329.8,394.5 337.4,390.6 342.2,389 C347,387.4 349.5,386 351,385.4 L348.5,376.7 L363.4,380.4 L358.4,397.8 L356,391.6  C354.1,392.8 350.3,396.4 344.7,398.6 C339.1,400.8 330.2,403.9 322.3,404.6 C314.4,405.3 305.3,405 297.4,402.8 C289.5,400.6 281.1,396.7 275,391.6 C268.9,386.5 264.1,377.3 261,372 C257.9,366.7 257.3,362 256.6,360Z" fill="#fff8f5" stroke="#c9705c" stroke-width="1" stroke-linejoin="miter"/><use href="#mpc" transform="translate(319,308) scale(0.607) rotate(200)"/><use href="#mpd" transform="translate(319,308) scale(0.607) rotate(200)"/><use href="#mpc" transform="translate(345,306) scale(0.607) rotate(0)"/><use href="#mpd" transform="translate(345,306) scale(0.607) rotate(0)"/><use href="#mpc" transform="translate(327,332) scale(0.607) rotate(0)"/><use href="#mpd" transform="translate(327,332) scale(0.607) rotate(0)"/><use href="#mpc" transform="translate(368,326) scale(0.607) rotate(200)"/><use href="#mpd" transform="translate(368,326) scale(0.607) rotate(200)"/><use href="#mpc" transform="translate(308,355) scale(0.607) rotate(200)"/><use href="#mpd" transform="translate(308,355) scale(0.607) rotate(200)"/><use href="#mpc" transform="translate(343,350) scale(0.607) rotate(200)"/><use href="#mpd" transform="translate(343,350) scale(0.607) rotate(200)"/><use href="#mpc" transform="translate(371,356) scale(0.607) rotate(95)"/><use href="#mpd" transform="translate(371,356) scale(0.607) rotate(95)"/><use href="#mpc" transform="translate(327,369) scale(0.607) rotate(260)"/><use href="#mpd" transform="translate(327,369) scale(0.607) rotate(260)"/><use href="#st" transform="translate(330,298) rotate(33.3) scale(0.660)"/><use href="#st" transform="translate(357,300) rotate(26.9) scale(0.660)"/><use href="#st" transform="translate(369,303) rotate(10) scale(0.660)"/><use href="#st" transform="translate(316,320) rotate(62.4) scale(0.660)"/><use href="#st" transform="translate(343,320) rotate(0.5) scale(0.660)"/><use href="#st" transform="translate(354,317) rotate(36.2) scale(0.660)"/><use href="#st" transform="translate(300,333) rotate(64.7) scale(0.660)"/><use href="#st" transform="translate(313,340) rotate(5.8) scale(0.660)"/><use href="#st" transform="translate(350,335) rotate(39.9) scale(0.660)"/><use href="#st" transform="translate(384,330) rotate(44.4) scale(0.660)"/><use href="#st" transform="translate(331,348) rotate(2.9) scale(0.660)"/><use href="#st" transform="translate(358,345) rotate(27.3) scale(0.660)"/><use href="#st" transform="translate(323,356) rotate(50.7) scale(0.660)"/><use href="#st" transform="translate(357,362) rotate(32.5) scale(0.660)"/><use href="#st" transform="translate(385,345) rotate(52.2) scale(0.660)"/><use href="#st" transform="translate(388,360) rotate(11.3) scale(0.660)"/><use href="#st" transform="translate(313,372) rotate(17.1) scale(0.660)"/><use href="#st" transform="translate(343,367) rotate(8) scale(0.660)"/><use href="#st" transform="translate(369,372) rotate(36.5) scale(0.660)"/><g font-weight="bold" font-style="italic"><text transform="translate(325.5,161.5) rotate(-5)" font-size="18" textLength="101.5" lengthAdjust="spacingAndGlyphs">Endocytosis</text><g transform="translate(326,166.5) rotate(-5)"><polyline points="0,-1.4 2.2,1.4 4.4,-1.4 6.6,1.4 8.8,-1.4 11,1.4 13.2,-1.4 15.4,1.4 17.6,-1.4 19.8,1.4 22,-1.4 24.2,1.4 26.4,-1.4 28.6,1.4 30.8,-1.4 33,1.4 35.2,-1.4 37.4,1.4 39.6,-1.4 41.8,1.4 44,-1.4 46.2,1.4 48.4,-1.4 50.6,1.4 52.8,-1.4 55,1.4 57.2,-1.4 59.4,1.4 61.6,-1.4 63.8,1.4 66,-1.4 68.2,1.4 70.4,-1.4 72.6,1.4 74.8,-1.4 77,1.4 79.2,-1.4 81.4,1.4 83.6,-1.4 85.8,1.4 88,-1.4 90.2,1.4 92.4,-1.4 94.6,1.4 96.8,-1.4 99,1.4" fill="none" stroke="#e8413c" stroke-width="0.9"/></g><text x="306" y="260" font-size="37" textLength="159" lengthAdjust="spacingAndGlyphs">Apoptosis</text><text transform="translate(190.5,245.5) rotate(-54.5)" font-size="20" textLength="94" lengthAdjust="spacingAndGlyphs">Targeting</text><text x="287.5" y="419" font-size="23" textLength="145" lengthAdjust="spacingAndGlyphs">Cytochrome<tspan font-size="12" fill="#567" dy="-4">·</tspan><tspan dy="4">C</tspan></text></g><polyline points="287,423.6 289.2,426.4 291.4,423.6 293.6,426.4 295.8,423.6 298,426.4 300.2,423.6 302.4,426.4 304.6,423.6 306.8,426.4 309,423.6 311.2,426.4 313.4,423.6 315.6,426.4 317.8,423.6 320,426.4 322.2,423.6 324.4,426.4 326.6,423.6 328.8,426.4 331,423.6 333.2,426.4 335.4,423.6 337.6,426.4 339.8,423.6 342,426.4 344.2,423.6 346.4,426.4 348.6,423.6 350.8,426.4 353,423.6 355.2,426.4 357.4,423.6 359.6,426.4 361.8,423.6 364,426.4 366.2,423.6 368.4,426.4 370.6,423.6 372.8,426.4 375,423.6 377.2,426.4 379.4,423.6 381.6,426.4 383.8,423.6 386,426.4 388.2,423.6 390.4,426.4 392.6,423.6 394.8,426.4 397,423.6 399.2,426.4 401.4,423.6 403.6,426.4 405.8,423.6 408,426.4 410.2,423.6" fill="none" stroke="#e8413c" stroke-width="0.9"/><ellipse cx="507" cy="193" rx="21" ry="21" fill="#d6d6da"/><line x1="529" y1="194.2" x2="532.1" y2="194.4" stroke="#6a9bd8" stroke-width="1"/><path d="M532,196.5 L536,194.6 L532.2,192.3 Z" fill="#2bb5a0"/><line x1="527.7" y1="200.3" x2="530.7" y2="201.4" stroke="#6a9bd8" stroke-width="1"/><path d="M530,203.4 L534.3,202.7 L531.4,199.4 Z" fill="#2bb5a0"/><line x1="524.3" y1="206.6" x2="526.8" y2="208.5" stroke="#6a9bd8" stroke-width="1"/><path d="M525.5,210.2 L529.8,210.9 L528.1,206.9 Z" fill="#2bb5a0"/><line x1="518.9" y1="211.5" x2="520.6" y2="214.1" stroke="#6a9bd8" stroke-width="1"/><path d="M518.8,215.3 L522.7,217.4 L522.4,213 Z" fill="#2bb5a0"/><line x1="514.5" y1="213.7" x2="515.6" y2="216.6" stroke="#6a9bd8" stroke-width="1"/><path d="M513.6,217.4 L516.9,220.3 L517.5,215.9 Z" fill="#2bb5a0"/><line x1="506.6" y1="215" x2="506.5" y2="218.1" stroke="#6a9bd8" stroke-width="1"/><path d="M504.4,218.1 L506.5,222 L508.6,218.2 Z" fill="#2bb5a0"/><line x1="499" y1="213.5" x2="497.9" y2="216.4" stroke="#6a9bd8" stroke-width="1"/><path d="M495.9,215.7 L496.5,220 L499.8,217.2 Z" fill="#2bb5a0"/><line x1="493.2" y1="210.1" x2="491.2" y2="212.6" stroke="#6a9bd8" stroke-width="1"/><path d="M489.5,211.2 L488.8,215.5 L492.8,213.9 Z" fill="#2bb5a0"/><line x1="489.1" y1="205.7" x2="486.5" y2="207.6" stroke="#6a9bd8" stroke-width="1"/><path d="M485.3,205.9 L483.4,209.8 L487.7,209.3 Z" fill="#2bb5a0"/><line x1="486.4" y1="200.8" x2="483.5" y2="201.9" stroke="#6a9bd8" stroke-width="1"/><path d="M482.7,199.9 L479.9,203.2 L484.2,203.8 Z" fill="#2bb5a0"/><line x1="485" y1="193.3" x2="481.9" y2="193.3" stroke="#6a9bd8" stroke-width="1"/><path d="M481.8,191.2 L478,193.4 L481.9,195.4 Z" fill="#2bb5a0"/><line x1="486.6" y1="184.8" x2="483.7" y2="183.6" stroke="#6a9bd8" stroke-width="1"/><path d="M484.5,181.7 L480.1,182.2 L482.9,185.5 Z" fill="#2bb5a0"/><line x1="488.5" y1="181.1" x2="485.9" y2="179.4" stroke="#6a9bd8" stroke-width="1"/><path d="M487,177.6 L482.6,177.3 L484.7,181.1 Z" fill="#2bb5a0"/><line x1="493.6" y1="175.5" x2="491.7" y2="173" stroke="#6a9bd8" stroke-width="1"/><path d="M493.4,171.8 L489.4,170 L490,174.3 Z" fill="#2bb5a0"/><line x1="501.5" y1="171.7" x2="500.7" y2="168.6" stroke="#6a9bd8" stroke-width="1"/><path d="M502.8,168.1 L499.8,164.9 L498.7,169.2 Z" fill="#2bb5a0"/><line x1="506.8" y1="171" x2="506.8" y2="167.9" stroke="#6a9bd8" stroke-width="1"/><path d="M508.9,167.8 L506.8,164 L504.7,167.9 Z" fill="#2bb5a0"/><line x1="512.9" y1="171.8" x2="513.8" y2="168.8" stroke="#6a9bd8" stroke-width="1"/><path d="M515.8,169.4 L514.8,165.1 L511.8,168.2 Z" fill="#2bb5a0"/><line x1="519.5" y1="174.9" x2="521.3" y2="172.3" stroke="#6a9bd8" stroke-width="1"/><path d="M523,173.5 L523.4,169.1 L519.5,171.1 Z" fill="#2bb5a0"/><line x1="525.5" y1="181.1" x2="528.2" y2="179.4" stroke="#6a9bd8" stroke-width="1"/><path d="M529.3,181.2 L531.4,177.3 L527,177.6 Z" fill="#2bb5a0"/><line x1="527.8" y1="185.7" x2="530.7" y2="184.7" stroke="#6a9bd8" stroke-width="1"/><path d="M531.4,186.7 L534.4,183.4 L530,182.7 Z" fill="#2bb5a0"/><g fill="none" stroke="#2a4a78" stroke-width="0.8"><ellipse cx="520.2" cy="194.9" rx="5.6" ry="2.4" transform="rotate(-2.3 520.2 194.9)"/><ellipse cx="518.9" cy="201.2" rx="6.5" ry="2.9" transform="rotate(19.8 518.9 201.2)"/><ellipse cx="514.8" cy="204.1" rx="6.1" ry="2.3" transform="rotate(9.8 514.8 204.1)"/><ellipse cx="507.4" cy="206.8" rx="5.9" ry="2.7" transform="rotate(55.3 507.4 206.8)"/><ellipse cx="500.6" cy="205.7" rx="6.2" ry="2.5" transform="rotate(149.7 500.6 205.7)"/><ellipse cx="495.1" cy="200.9" rx="6.5" ry="2.5" transform="rotate(116.6 495.1 200.9)"/><ellipse cx="493.7" cy="194.4" rx="5.6" ry="2" transform="rotate(152.7 493.7 194.4)"/><ellipse cx="494.1" cy="189.8" rx="6.8" ry="2.4" transform="rotate(180.8 494.1 189.8)"/><ellipse cx="497" cy="182.7" rx="6.8" ry="2.6" transform="rotate(208.4 497 182.7)"/><ellipse cx="504" cy="179.8" rx="6.1" ry="2.2" transform="rotate(282.8 504 179.8)"/><ellipse cx="508.6" cy="179" rx="6.8" ry="2.9" transform="rotate(305.5 508.6 179)"/><ellipse cx="513.6" cy="180.4" rx="6.2" ry="2.4" transform="rotate(276.2 513.6 180.4)"/><ellipse cx="517.8" cy="185.2" rx="6.8" ry="3.1" transform="rotate(356.7 517.8 185.2)"/><ellipse cx="516.8" cy="196.5" rx="4.8" ry="1.9" transform="rotate(-13.1 516.8 196.5)"/><ellipse cx="512.7" cy="202" rx="5.1" ry="2.1" transform="rotate(94.5 512.7 202)"/><ellipse cx="504.2" cy="203.4" rx="4.3" ry="1.9" transform="rotate(128.9 504.2 203.4)"/><ellipse cx="498.1" cy="198.1" rx="5" ry="2" transform="rotate(108.1 498.1 198.1)"/><ellipse cx="497" cy="189.4" rx="5.2" ry="1.8" transform="rotate(234.7 497 189.4)"/><ellipse cx="502.6" cy="183.5" rx="4.3" ry="1.6" transform="rotate(268.4 502.6 183.5)"/><ellipse cx="508.4" cy="183.2" rx="4.9" ry="1.9" transform="rotate(316.5 508.4 183.2)"/><ellipse cx="515.9" cy="186.8" rx="4.3" ry="1.6" transform="rotate(275.6 515.9 186.8)"/></g><circle cx="507" cy="193" r="9.5" fill="url(#gTealL)"/><mask id="mG5" maskUnits="userSpaceOnUse" x="0" y="292" width="1204" height="218"><path d="M-20,265 L1224,265 L1224,504 L84,504 L42,474 L-20,456 Z" fill="#fff" filter="url(#b3)"/></mask><g mask="url(#mG5)"><ellipse cx="335" cy="496" rx="235" ry="72" fill="#f8a584" opacity="0.62" filter="url(#b16)"/><ellipse cx="342" cy="492" rx="248.6" ry="59.4" fill="#f6906f" opacity="0.5" filter="url(#b10)"/><ellipse cx="342" cy="492" rx="222" ry="40.5" fill="#f3694c" opacity="0.85" filter="url(#b10)"/><g filter="url(#b2)"><path d="M366.9,492 L410.3,401.7 L386,492 Z" fill="#fbb48c" opacity="0.4"/><path d="M105.6,492 L11.2,418.8 L116.3,492 Z" fill="#f9a57c" opacity="0.3"/><path d="M260,492 L258.8,415.6 L268.4,492 Z" fill="#fcf0b8" opacity="0.4"/><path d="M187.6,492 L126.4,404.1 L202.1,492 Z" fill="#fde9a6" opacity="0.4"/><path d="M157.2,492 L116.1,434.1 L162.9,492 Z" fill="#f78c66" opacity="0.3"/><path d="M439.8,492 L493.1,440.1 L447.8,492 Z" fill="#fde9a6" opacity="0.4"/><path d="M328.8,492 L349.6,428.2 L349.3,492 Z" fill="#f57a5a" opacity="0.4"/><path d="M227.3,492 L200.9,430.3 L235.8,492 Z" fill="#fbdc98" opacity="0.4"/><path d="M456.7,492 L522.6,416.1 L470.1,492 Z" fill="#fbdc98" opacity="0.3"/><path d="M458.4,492 L510.6,425.6 L469.4,492 Z" fill="#f9a57c" opacity="0.3"/><path d="M207.3,492 L183.8,384.9 L217.7,492 Z" fill="#fcf0b8" opacity="0.4"/><path d="M447,492 L494.9,409.5 L453.2,492 Z" fill="#fde9a6" opacity="0.4"/><path d="M371.6,492 L405.3,435 L382,492 Z" fill="#f57a5a" opacity="0.4"/><path d="M243.7,492 L220.8,413 L260.2,492 Z" fill="#fcf0b8" opacity="0.4"/><path d="M441.7,492 L483.7,422.4 L452.6,492 Z" fill="#f78c66" opacity="0.4"/><path d="M244.7,492 L223.8,391 L255.9,492 Z" fill="#fbb48c" opacity="0.4"/><path d="M132.7,492 L84.4,427.8 L145.6,492 Z" fill="#fbc49c" opacity="0.3"/><path d="M537,492 L596.1,441.5 L550.1,492 Z" fill="#fbdc98" opacity="0.3"/><path d="M108.6,492 L48.5,429.8 L115.8,492 Z" fill="#f78c66" opacity="0.3"/><path d="M118.1,492 L79.5,436.7 L127.7,492 Z" fill="#f78c66" opacity="0.3"/><path d="M530.3,492 L600.5,448.4 L543,492 Z" fill="#fde9a6" opacity="0.3"/><path d="M286.5,492 L264,400.6 L298,492 Z" fill="#fbb48c" opacity="0.4"/><path d="M473.6,492 L550.7,437.5 L484.3,492 Z" fill="#f57a5a" opacity="0.3"/><path d="M216.6,492 L173.2,395.6 L224.4,492 Z" fill="#fbb48c" opacity="0.4"/><path d="M523,492 L607,436.1 L531.1,492 Z" fill="#fbdc98" opacity="0.3"/><path d="M323.9,492 L332.4,414.8 L332.7,492 Z" fill="#fbc49c" opacity="0.4"/><path d="M403,492 L452.3,403.8 L414,492 Z" fill="#fbc49c" opacity="0.4"/><path d="M464.8,492 L532,390.9 L477.9,492 Z" fill="#fbc49c" opacity="0.3"/><path d="M381.5,492 L407.8,435.8 L395.3,492 Z" fill="#fcf0b8" opacity="0.4"/><path d="M213.2,492 L175.2,417.7 L227.5,492 Z" fill="#fbdc98" opacity="0.4"/><path d="M380.2,492 L424.3,400.6 L391.6,492 Z" fill="#f57a5a" opacity="0.4"/><path d="M529.6,492 L625.2,451.7 L539.1,492 Z" fill="#fbdc98" opacity="0.3"/><path d="M511.1,492 L597.3,420.6 L522.9,492 Z" fill="#f78c66" opacity="0.3"/><path d="M364.1,492 L409,417.3 L383.3,492 Z" fill="#fcf0b8" opacity="0.4"/><path d="M441,492 L501.5,409.1 L447.6,492 Z" fill="#fbdc98" opacity="0.4"/><path d="M372.2,492 L385.1,397.6 L381.7,492 Z" fill="#f57a5a" opacity="0.4"/><path d="M533,492 L620.7,405.3 L538.9,492 Z" fill="#f57a5a" opacity="0.3"/><path d="M179.4,492 L119.2,431.9 L189.5,492 Z" fill="#fbb48c" opacity="0.3"/><path d="M184.4,492 L151.5,417.7 L194.3,492 Z" fill="#f57a5a" opacity="0.3"/><path d="M477.7,492 L554.7,425.8 L492.9,492 Z" fill="#fbc49c" opacity="0.3"/><path d="M134.9,492 L80.4,430.2 L145.8,492 Z" fill="#f78c66" opacity="0.3"/><path d="M279.2,492 L284.9,405.1 L291.5,492 Z" fill="#fcf0b8" opacity="0.4"/><path d="M264.6,492 L253,426.5 L273.6,492 Z" fill="#fcf0b8" opacity="0.4"/><path d="M93.4,492 L3.5,451.4 L103.4,492 Z" fill="#fcf0b8" opacity="0.3"/><path d="M482.2,492 L552.2,427.3 L497.4,492 Z" fill="#fbdc98" opacity="0.3"/><path d="M526.2,492 L627.7,411 L539.2,492 Z" fill="#fbdc98" opacity="0.3"/><path d="M425.9,492 L456.5,422.4 L432.6,492 Z" fill="#fbc49c" opacity="0.4"/><path d="M313,492 L308.7,416.7 L322.6,492 Z" fill="#f57a5a" opacity="0.4"/><path d="M202.4,492 L161.9,440 L213.1,492 Z" fill="#fbb48c" opacity="0.4"/><path d="M215.7,492 L197.3,393.4 L225.1,492 Z" fill="#fde9a6" opacity="0.4"/><path d="M411.5,492 L448.3,410.3 L429.5,492 Z" fill="#fbb48c" opacity="0.4"/><path d="M488.3,492 L545.8,452.2 L495.1,492 Z" fill="#fcf0b8" opacity="0.3"/><path d="M241.9,492 L213.4,413.9 L254.5,492 Z" fill="#fcf0b8" opacity="0.4"/><path d="M455.3,492 L488.1,433.6 L467.2,492 Z" fill="#f9a57c" opacity="0.3"/><path d="M488.4,492 L542.3,444.1 L501.4,492 Z" fill="#fcf0b8" opacity="0.3"/><path d="M397.5,492 L457.6,415.1 L414.5,492 Z" fill="#f57a5a" opacity="0.4"/><path d="M267.6,492 L270.5,425.1 L278.7,492 Z" fill="#f9a57c" opacity="0.4"/><path d="M226.9,492 L175.4,411.4 L240.5,492 Z" fill="#f57a5a" opacity="0.4"/><path d="M499.8,492 L560.4,415.8 L510.3,492 Z" fill="#fbdc98" opacity="0.3"/><path d="M334.3,492 L341.5,411.9 L342.7,492 Z" fill="#fbc49c" opacity="0.4"/><path d="M461.2,492 L533.7,420.1 L467.5,492 Z" fill="#f9a57c" opacity="0.3"/><path d="M538.3,492 L608.4,457.1 L550.2,492 Z" fill="#fcf0b8" opacity="0.3"/><path d="M458.4,492 L514.9,390.3 L474.6,492 Z" fill="#f57a5a" opacity="0.3"/><path d="M161.2,492 L113.1,421 L168.6,492 Z" fill="#f9a57c" opacity="0.3"/><path d="M340.6,492 L363.1,403.1 L352,492 Z" fill="#f9a57c" opacity="0.4"/><path d="M424.2,492 L471.9,437.6 L435.5,492 Z" fill="#fcf0b8" opacity="0.4"/><path d="M306.5,492 L309,408.3 L327.1,492 Z" fill="#fbdc98" opacity="0.4"/><path d="M158.1,492 L111.8,416.3 L173,492 Z" fill="#fbb48c" opacity="0.3"/><path d="M189,492 L144.7,437.3 L204.2,492 Z" fill="#fde9a6" opacity="0.4"/><path d="M454.1,492 L521.2,429.3 L464.3,492 Z" fill="#fde9a6" opacity="0.3"/><path d="M386.7,492 L400,400.6 L394.9,492 Z" fill="#fcf0b8" opacity="0.4"/><path d="M290.4,492 L289.6,415.9 L311.1,492 Z" fill="#fcf0b8" opacity="0.4"/><path d="M108,492 L58.8,442.1 L114.3,492 Z" fill="#f78c66" opacity="0.3"/><path d="M427.1,492 L463.7,387.1 L439,492 Z" fill="#fcf0b8" opacity="0.4"/><path d="M371.6,492 L389.2,423.6 L383,492 Z" fill="#fbc49c" opacity="0.4"/><path d="M448.9,492 L504.4,403.5 L458.8,492 Z" fill="#fcf0b8" opacity="0.3"/><path d="M284,492 L295.1,411.7 L299.4,492 Z" fill="#f78c66" opacity="0.4"/><path d="M269.8,492 L251.8,437.7 L279.8,492 Z" fill="#fbdc98" opacity="0.4"/><path d="M388.3,492 L412.8,414 L398.9,492 Z" fill="#f57a5a" opacity="0.4"/><path d="M235.1,492 L217.8,427.3 L249.9,492 Z" fill="#fbdc98" opacity="0.4"/><path d="M483,492 L548.9,418.7 L489.8,492 Z" fill="#fbc49c" opacity="0.3"/><path d="M392.8,492 L409.6,388.5 L403.9,492 Z" fill="#fbc49c" opacity="0.4"/><path d="M512.5,492 L603.7,429.9 L522,492 Z" fill="#f9a57c" opacity="0.3"/><path d="M444.7,492 L488.7,414.4 L453.4,492 Z" fill="#f9a57c" opacity="0.4"/><path d="M184.4,492 L132.5,440 L191.3,492 Z" fill="#fcf0b8" opacity="0.3"/><path d="M255.5,492 L232.4,416 L266.2,492 Z" fill="#f57a5a" opacity="0.4"/><path d="M163.3,492 L99.5,420.4 L178.8,492 Z" fill="#f57a5a" opacity="0.3"/><path d="M416.8,492 L450.3,411.7 L428.6,492 Z" fill="#f78c66" opacity="0.4"/><path d="M113.2,492 L22.6,410.7 L122.9,492 Z" fill="#fde9a6" opacity="0.3"/><path d="M414.5,492 L447.9,394.5 L422.1,492 Z" fill="#f78c66" opacity="0.4"/></g><g stroke="#fff" stroke-width="0.9" opacity="0.33" filter="url(#b1)"><line x1="376.4" y1="492" x2="405.2" y2="415.3"/><line x1="194.9" y1="492" x2="136.7" y2="417.3"/><line x1="339" y1="492" x2="348" y2="437.7"/><line x1="463.9" y1="492" x2="503.6" y2="435.5"/><line x1="376.8" y1="492" x2="401" y2="443.5"/><line x1="250.3" y1="492" x2="227.7" y2="406.2"/><line x1="112.2" y1="492" x2="58.1" y2="439.2"/><line x1="292.2" y1="492" x2="268.3" y2="414.3"/><line x1="527" y1="492" x2="595" y2="444.5"/><line x1="471.3" y1="492" x2="522.9" y2="406.1"/><line x1="385.9" y1="492" x2="418.5" y2="414.3"/><line x1="373.7" y1="492" x2="403.7" y2="428.5"/><line x1="536" y1="492" x2="608" y2="418.3"/><line x1="485.3" y1="492" x2="544.2" y2="435.7"/><line x1="269.1" y1="492" x2="255.4" y2="436.4"/><line x1="532.7" y1="492" x2="613.4" y2="423.2"/><line x1="207.7" y1="492" x2="168.8" y2="447.8"/><line x1="491.7" y1="492" x2="537.7" y2="458.2"/><line x1="494.9" y1="492" x2="535.2" y2="451.3"/><line x1="233.7" y1="492" x2="184.1" y2="423.5"/><line x1="464.4" y1="492" x2="523.3" y2="430.9"/><line x1="164.9" y1="492" x2="120.9" y2="431.7"/><line x1="316.8" y1="492" x2="310.2" y2="420.9"/><line x1="459.2" y1="492" x2="511.9" y2="438.7"/><line x1="111.2" y1="492" x2="66.6" y2="449.6"/><line x1="453.8" y1="492" x2="496.8" y2="416.8"/><line x1="393.6" y1="492" x2="409.9" y2="425.7"/><line x1="398.4" y1="492" x2="407.9" y2="404.1"/><line x1="187.9" y1="492" x2="140.8" y2="447.8"/><line x1="422.7" y1="492" x2="446.1" y2="423.7"/></g></g><g stroke-linejoin="round"><path d="M69.6,520.3 L77.7,490 L613,490 L606,520.3 Z" fill="url(#gGold)" stroke="#4f4510" stroke-width="1.9"/><path d="M80.1,493 L71.4,519.3 L94.5,519.3 Z" fill="#bfb158" stroke="#a39330" stroke-width="0.6"/><circle cx="80.1" cy="492.7" r="1.6" fill="#f2e24a"/><path d="M106.9,493 L98.2,519.3 L121.3,519.3 Z" fill="#bfb158" stroke="#a39330" stroke-width="0.6"/><line x1="104.5" y1="490" x2="96.4" y2="520.3" stroke="#6e611a" stroke-width="1.2"/><line x1="106" y1="491.5" x2="97.9" y2="519.3" stroke="#e6d648" stroke-width="1.2" opacity="0.95"/><circle cx="106.9" cy="492.7" r="1.6" fill="#f2e24a"/><path d="M133.6,493 L124.9,519.3 L148,519.3 Z" fill="#bfb158" stroke="#a39330" stroke-width="0.6"/><line x1="131.2" y1="490" x2="123.1" y2="520.3" stroke="#6e611a" stroke-width="1.2"/><line x1="132.7" y1="491.5" x2="124.6" y2="519.3" stroke="#e6d648" stroke-width="1.2" opacity="0.95"/><circle cx="133.6" cy="492.7" r="1.6" fill="#f2e24a"/><path d="M160.4,493 L151.7,519.3 L174.8,519.3 Z" fill="#bfb158" stroke="#a39330" stroke-width="0.6"/><line x1="158" y1="490" x2="149.9" y2="520.3" stroke="#6e611a" stroke-width="1.2"/><line x1="159.5" y1="491.5" x2="151.4" y2="519.3" stroke="#e6d648" stroke-width="1.2" opacity="0.95"/><circle cx="160.4" cy="492.7" r="1.6" fill="#f2e24a"/><path d="M187.2,493 L178.5,519.3 L201.6,519.3 Z" fill="#bfb158" stroke="#a39330" stroke-width="0.6"/><line x1="184.8" y1="490" x2="176.7" y2="520.3" stroke="#6e611a" stroke-width="1.2"/><line x1="186.3" y1="491.5" x2="178.2" y2="519.3" stroke="#e6d648" stroke-width="1.2" opacity="0.95"/><circle cx="187.2" cy="492.7" r="1.6" fill="#f2e24a"/><path d="M213.9,493 L205.2,519.3 L228.3,519.3 Z" fill="#bfb158" stroke="#a39330" stroke-width="0.6"/><line x1="211.5" y1="490" x2="203.4" y2="520.3" stroke="#6e611a" stroke-width="1.2"/><line x1="213" y1="491.5" x2="204.9" y2="519.3" stroke="#e6d648" stroke-width="1.2" opacity="0.95"/><circle cx="213.9" cy="492.7" r="1.6" fill="#f2e24a"/><path d="M240.7,493 L232,519.3 L255.1,519.3 Z" fill="#bfb158" stroke="#a39330" stroke-width="0.6"/><line x1="238.3" y1="490" x2="230.2" y2="520.3" stroke="#6e611a" stroke-width="1.2"/><line x1="239.8" y1="491.5" x2="231.7" y2="519.3" stroke="#e6d648" stroke-width="1.2" opacity="0.95"/><circle cx="240.7" cy="492.7" r="1.6" fill="#f2e24a"/><path d="M267.5,493 L258.8,519.3 L281.8,519.3 Z" fill="#bfb158" stroke="#a39330" stroke-width="0.6"/><line x1="265.1" y1="490" x2="257" y2="520.3" stroke="#6e611a" stroke-width="1.2"/><line x1="266.6" y1="491.5" x2="258.5" y2="519.3" stroke="#e6d648" stroke-width="1.2" opacity="0.95"/><circle cx="267.5" cy="492.7" r="1.6" fill="#f2e24a"/><path d="M294.2,493 L285.5,519.3 L308.6,519.3 Z" fill="#bfb158" stroke="#a39330" stroke-width="0.6"/><line x1="291.8" y1="490" x2="283.7" y2="520.3" stroke="#6e611a" stroke-width="1.2"/><line x1="293.3" y1="491.5" x2="285.2" y2="519.3" stroke="#e6d648" stroke-width="1.2" opacity="0.95"/><circle cx="294.2" cy="492.7" r="1.6" fill="#f2e24a"/><path d="M321,493 L312.3,519.3 L335.4,519.3 Z" fill="#bfb158" stroke="#a39330" stroke-width="0.6"/><line x1="318.6" y1="490" x2="310.5" y2="520.3" stroke="#6e611a" stroke-width="1.2"/><line x1="320.1" y1="491.5" x2="312" y2="519.3" stroke="#e6d648" stroke-width="1.2" opacity="0.95"/><circle cx="321" cy="492.7" r="1.6" fill="#f2e24a"/><path d="M347.8,493 L339.1,519.3 L362.1,519.3 Z" fill="#bfb158" stroke="#a39330" stroke-width="0.6"/><line x1="345.3" y1="490" x2="337.2" y2="520.3" stroke="#6e611a" stroke-width="1.2"/><line x1="346.8" y1="491.5" x2="338.8" y2="519.3" stroke="#e6d648" stroke-width="1.2" opacity="0.95"/><circle cx="347.8" cy="492.7" r="1.6" fill="#f2e24a"/><path d="M374.5,493 L365.8,519.3 L388.9,519.3 Z" fill="#bfb158" stroke="#a39330" stroke-width="0.6"/><line x1="372.1" y1="490" x2="364" y2="520.3" stroke="#6e611a" stroke-width="1.2"/><line x1="373.6" y1="491.5" x2="365.5" y2="519.3" stroke="#e6d648" stroke-width="1.2" opacity="0.95"/><circle cx="374.5" cy="492.7" r="1.6" fill="#f2e24a"/><path d="M401.3,493 L392.6,519.3 L415.7,519.3 Z" fill="#bfb158" stroke="#a39330" stroke-width="0.6"/><line x1="398.9" y1="490" x2="390.8" y2="520.3" stroke="#6e611a" stroke-width="1.2"/><line x1="400.4" y1="491.5" x2="392.3" y2="519.3" stroke="#e6d648" stroke-width="1.2" opacity="0.95"/><circle cx="401.3" cy="492.7" r="1.6" fill="#f2e24a"/><path d="M428.1,493 L419.3,519.3 L442.4,519.3 Z" fill="#bfb158" stroke="#a39330" stroke-width="0.6"/><line x1="425.6" y1="490" x2="417.5" y2="520.3" stroke="#6e611a" stroke-width="1.2"/><line x1="427.1" y1="491.5" x2="419" y2="519.3" stroke="#e6d648" stroke-width="1.2" opacity="0.95"/><circle cx="428.1" cy="492.7" r="1.6" fill="#f2e24a"/><path d="M454.8,493 L446.1,519.3 L469.2,519.3 Z" fill="#bfb158" stroke="#a39330" stroke-width="0.6"/><line x1="452.4" y1="490" x2="444.3" y2="520.3" stroke="#6e611a" stroke-width="1.2"/><line x1="453.9" y1="491.5" x2="445.8" y2="519.3" stroke="#e6d648" stroke-width="1.2" opacity="0.95"/><circle cx="454.8" cy="492.7" r="1.6" fill="#f2e24a"/><path d="M481.6,493 L472.9,519.3 L496,519.3 Z" fill="#bfb158" stroke="#a39330" stroke-width="0.6"/><line x1="479.2" y1="490" x2="471.1" y2="520.3" stroke="#6e611a" stroke-width="1.2"/><line x1="480.7" y1="491.5" x2="472.6" y2="519.3" stroke="#e6d648" stroke-width="1.2" opacity="0.95"/><circle cx="481.6" cy="492.7" r="1.6" fill="#f2e24a"/><path d="M508.3,493 L499.6,519.3 L522.7,519.3 Z" fill="#bfb158" stroke="#a39330" stroke-width="0.6"/><line x1="505.9" y1="490" x2="497.8" y2="520.3" stroke="#6e611a" stroke-width="1.2"/><line x1="507.4" y1="491.5" x2="499.3" y2="519.3" stroke="#e6d648" stroke-width="1.2" opacity="0.95"/><circle cx="508.3" cy="492.7" r="1.6" fill="#f2e24a"/><path d="M535.1,493 L526.4,519.3 L549.5,519.3 Z" fill="#bfb158" stroke="#a39330" stroke-width="0.6"/><line x1="532.7" y1="490" x2="524.6" y2="520.3" stroke="#6e611a" stroke-width="1.2"/><line x1="534.2" y1="491.5" x2="526.1" y2="519.3" stroke="#e6d648" stroke-width="1.2" opacity="0.95"/><circle cx="535.1" cy="492.7" r="1.6" fill="#f2e24a"/><path d="M561.9,493 L553.2,519.3 L576.3,519.3 Z" fill="#bfb158" stroke="#a39330" stroke-width="0.6"/><line x1="559.5" y1="490" x2="551.4" y2="520.3" stroke="#6e611a" stroke-width="1.2"/><line x1="561" y1="491.5" x2="552.9" y2="519.3" stroke="#e6d648" stroke-width="1.2" opacity="0.95"/><circle cx="561.9" cy="492.7" r="1.6" fill="#f2e24a"/><path d="M588.6,493 L579.9,519.3 L603,519.3 Z" fill="#bfb158" stroke="#a39330" stroke-width="0.6"/><line x1="586.2" y1="490" x2="578.1" y2="520.3" stroke="#6e611a" stroke-width="1.2"/><line x1="587.7" y1="491.5" x2="579.6" y2="519.3" stroke="#e6d648" stroke-width="1.2" opacity="0.95"/><circle cx="588.6" cy="492.7" r="1.6" fill="#f2e24a"/><line x1="78.7" y1="491.3" x2="612" y2="491.3" stroke="#e3d23d" stroke-width="1.3" opacity="0.9"/></g><g stroke-linejoin="round"><path d="M606,519 L613,488.8 L856,488.8 L850.6,519 Z" fill="url(#gGold)" stroke="#4f4510" stroke-width="1.9"/><path d="M615.4,491.8 L607.8,518 L631.1,518 Z" fill="#bfb158" stroke="#a39330" stroke-width="0.6"/><circle cx="615.4" cy="491.5" r="1.6" fill="#f2e24a"/><path d="M642.4,491.8 L634.8,518 L658.1,518 Z" fill="#bfb158" stroke="#a39330" stroke-width="0.6"/><line x1="640" y1="488.8" x2="633" y2="519" stroke="#6e611a" stroke-width="1.2"/><line x1="641.5" y1="490.3" x2="634.5" y2="518" stroke="#e6d648" stroke-width="1.2" opacity="0.95"/><circle cx="642.4" cy="491.5" r="1.6" fill="#f2e24a"/><path d="M669.4,491.8 L661.8,518 L685.1,518 Z" fill="#bfb158" stroke="#a39330" stroke-width="0.6"/><line x1="667" y1="488.8" x2="660" y2="519" stroke="#6e611a" stroke-width="1.2"/><line x1="668.5" y1="490.3" x2="661.5" y2="518" stroke="#e6d648" stroke-width="1.2" opacity="0.95"/><circle cx="669.4" cy="491.5" r="1.6" fill="#f2e24a"/><path d="M696.4,491.8 L688.8,518 L712.1,518 Z" fill="#bfb158" stroke="#a39330" stroke-width="0.6"/><line x1="694" y1="488.8" x2="687" y2="519" stroke="#6e611a" stroke-width="1.2"/><line x1="695.5" y1="490.3" x2="688.5" y2="518" stroke="#e6d648" stroke-width="1.2" opacity="0.95"/><circle cx="696.4" cy="491.5" r="1.6" fill="#f2e24a"/><path d="M723.4,491.8 L715.8,518 L739.1,518 Z" fill="#bfb158" stroke="#a39330" stroke-width="0.6"/><line x1="721" y1="488.8" x2="714" y2="519" stroke="#6e611a" stroke-width="1.2"/><line x1="722.5" y1="490.3" x2="715.5" y2="518" stroke="#e6d648" stroke-width="1.2" opacity="0.95"/><circle cx="723.4" cy="491.5" r="1.6" fill="#f2e24a"/><path d="M750.4,491.8 L742.8,518 L766.1,518 Z" fill="#bfb158" stroke="#a39330" stroke-width="0.6"/><line x1="748" y1="488.8" x2="741" y2="519" stroke="#6e611a" stroke-width="1.2"/><line x1="749.5" y1="490.3" x2="742.5" y2="518" stroke="#e6d648" stroke-width="1.2" opacity="0.95"/><circle cx="750.4" cy="491.5" r="1.6" fill="#f2e24a"/><path d="M777.4,491.8 L769.8,518 L793.1,518 Z" fill="#bfb158" stroke="#a39330" stroke-width="0.6"/><line x1="775" y1="488.8" x2="768" y2="519" stroke="#6e611a" stroke-width="1.2"/><line x1="776.5" y1="490.3" x2="769.5" y2="518" stroke="#e6d648" stroke-width="1.2" opacity="0.95"/><circle cx="777.4" cy="491.5" r="1.6" fill="#f2e24a"/><path d="M804.4,491.8 L796.8,518 L820.1,518 Z" fill="#bfb158" stroke="#a39330" stroke-width="0.6"/><line x1="802" y1="488.8" x2="795" y2="519" stroke="#6e611a" stroke-width="1.2"/><line x1="803.5" y1="490.3" x2="796.5" y2="518" stroke="#e6d648" stroke-width="1.2" opacity="0.95"/><circle cx="804.4" cy="491.5" r="1.6" fill="#f2e24a"/><path d="M831.4,491.8 L823.8,518 L847.1,518 Z" fill="#bfb158" stroke="#a39330" stroke-width="0.6"/><line x1="829" y1="488.8" x2="822" y2="519" stroke="#6e611a" stroke-width="1.2"/><line x1="830.5" y1="490.3" x2="823.5" y2="518" stroke="#e6d648" stroke-width="1.2" opacity="0.95"/><circle cx="831.4" cy="491.5" r="1.6" fill="#f2e24a"/><line x1="614" y1="490.1" x2="855" y2="490.1" stroke="#e3d23d" stroke-width="1.3" opacity="0.9"/></g><clipPath id="cpT489"><rect x="120" y="489.5" width="460" height="26"/></clipPath><g clip-path="url(#cpT489)"><ellipse cx="350" cy="487.5" rx="230" ry="18.2" fill="#f2664a" opacity="0.38" filter="url(#b6)"/></g><path d="M66.4,521 L193.2,521 L195.2,552.3 Q129.8,549.3 64.4,552.3 Z" fill="#c7c5c8" fill-opacity="0.9" stroke="#b1afb3" stroke-width="0.7"/><rect x="68.9" y="526.6" width="121.8" height="20.7" rx="8.5" fill="url(#gRod)"/><rect x="175.6" y="522" width="18.6" height="28.3" fill="#dddbde" fill-opacity="0.42"/><rect x="65.4" y="527.3" width="18.3" height="21.9" fill="#55534f" fill-opacity="0.18"/><path d="M200.7,521 L327.5,521 L329.5,552.3 Q264.1,549.3 198.7,552.3 Z" fill="#c7c5c8" fill-opacity="0.9" stroke="#b1afb3" stroke-width="0.7"/><rect x="203.2" y="526.6" width="121.8" height="20.7" rx="8.5" fill="url(#gRod)"/><rect x="309.9" y="522" width="18.6" height="28.3" fill="#dddbde" fill-opacity="0.42"/><rect x="199.7" y="527.3" width="18.3" height="21.9" fill="#55534f" fill-opacity="0.18"/><path d="M336,521 L461.5,521 L463.5,552.3 Q398.8,549.3 334,552.3 Z" fill="#c7c5c8" fill-opacity="0.9" stroke="#b1afb3" stroke-width="0.7"/><rect x="338.5" y="526.6" width="120.5" height="20.7" rx="8.5" fill="url(#gRod)"/><rect x="444.1" y="522" width="18.4" height="28.3" fill="#dddbde" fill-opacity="0.42"/><rect x="335" y="527.3" width="18.1" height="21.9" fill="#55534f" fill-opacity="0.18"/><path d="M469,521 L595.8,521 L597.8,552.3 Q532.4,549.3 467,552.3 Z" fill="#c7c5c8" fill-opacity="0.9" stroke="#b1afb3" stroke-width="0.7"/><rect x="471.5" y="526.6" width="121.8" height="20.7" rx="8.5" fill="url(#gRod)"/><rect x="578.2" y="522" width="18.6" height="28.3" fill="#dddbde" fill-opacity="0.42"/><rect x="468" y="527.3" width="18.3" height="21.9" fill="#55534f" fill-opacity="0.18"/><path d="M601.5,521 L728.3,521 L730.3,552.3 Q664.9,549.3 599.5,552.3 Z" fill="#c7c5c8" fill-opacity="0.9" stroke="#b1afb3" stroke-width="0.7"/><rect x="604" y="526.6" width="121.8" height="20.7" rx="8.5" fill="url(#gRod)"/><rect x="710.7" y="522" width="18.6" height="28.3" fill="#dddbde" fill-opacity="0.42"/><rect x="600.5" y="527.3" width="18.3" height="21.9" fill="#55534f" fill-opacity="0.18"/><path d="M733.4,521 L853.9,521 L855.9,552.3 Q793.6,549.3 731.4,552.3 Z" fill="#c7c5c8" fill-opacity="0.9" stroke="#b1afb3" stroke-width="0.7"/><rect x="735.9" y="526.6" width="115.5" height="20.7" rx="8.5" fill="url(#gRod)"/><rect x="837.2" y="522" width="17.7" height="28.3" fill="#dddbde" fill-opacity="0.42"/><rect x="732.4" y="527.3" width="17.4" height="21.9" fill="#55534f" fill-opacity="0.18"/><text x="63.7" y="158.6" font-size="24" font-weight="normal" font-style="normal" fill="#000" text-anchor="start" textLength="33.6" lengthAdjust="spacingAndGlyphs" >808</text><path d="M84,218 L100,211 L140,284 L100,304 Z" fill="url(#gBeam808)" filter="url(#b3)"/><g transform="translate(84.3,196.5) rotate(-23)"><path d="M-11,-20.6 Q0,-26.4 11,-20.6 L11.6,-3.8 L-11.6,-3.8 Z" fill="url(#gBlk)"/><rect x="-12.5" y="-5.8" width="24.9" height="7.7" rx="1.9" fill="#b8404e"/><rect x="-12.2" y="-4.6" width="24.4" height="1.7" fill="#d86873" opacity="0.8"/><path d="M-13.3,1.4 L13.3,1.4 L14.5,21.1 Q0,27.4 -14.5,21.1 Z" fill="url(#gBlk)"/><ellipse cx="0" cy="21.8" rx="10.4" ry="1.7" fill="#2a1416" opacity="0.9"/></g><text transform="translate(646.5,135.5) rotate(-13)" font-size="23" textLength="35.5" lengthAdjust="spacingAndGlyphs">785</text><path d="M668,172 L688,168 L744,352 L696,364 Z" fill="url(#gBeam785)" filter="url(#b2)"/><g transform="rotate(-13 672.5 149.5)"><path d="M659.2,140.6 L659.2,158.4 A13.3,3.1 0 0 0 685.8,158.4 L685.8,140.6 Z" fill="url(#gCylSide)"/><ellipse cx="672.5" cy="140.6" rx="13.3" ry="3.1" fill="#f4a35f"/></g><text x="80" y="427.4" font-size="24.5" font-weight="normal" font-style="normal" fill="#000" text-anchor="start" textLength="42.3" lengthAdjust="spacingAndGlyphs" >PTT</text><text x="122.6" y="425.3" font-size="28" font-weight="normal" font-style="normal" fill="#000" text-anchor="start" textLength="16.9" lengthAdjust="spacingAndGlyphs" >nr</text><use href="#mpc" transform="translate(698.5,384.5) scale(0.943) rotate(150)"/><use href="#mpd" transform="translate(698.5,384.5) scale(0.943) rotate(150)"/><use href="#mpc" transform="translate(738.4,384.5) scale(0.943) rotate(40)"/><use href="#mpd" transform="translate(738.4,384.5) scale(0.943) rotate(40)"/><use href="#mpc" transform="translate(672.8,426.3) scale(0.943) rotate(95)"/><use href="#mpd" transform="translate(672.8,426.3) scale(0.943) rotate(95)"/><use href="#mpc" transform="translate(715.9,430.6) scale(0.943) rotate(200)"/><use href="#mpd" transform="translate(715.9,430.6) scale(0.943) rotate(200)"/><use href="#mpc" transform="translate(757.1,431.3) scale(0.943) rotate(40)"/><use href="#mpd" transform="translate(757.1,431.3) scale(0.943) rotate(40)"/><use href="#mpc" transform="translate(663.6,468.4) scale(0.943) rotate(0)"/><use href="#mpd" transform="translate(663.6,468.4) scale(0.943) rotate(0)"/><use href="#mpc" transform="translate(693.5,456.7) scale(0.943) rotate(310)"/><use href="#mpd" transform="translate(693.5,456.7) scale(0.943) rotate(310)"/><use href="#mpc" transform="translate(733.4,466.2) scale(0.943) rotate(0)"/><use href="#mpd" transform="translate(733.4,466.2) scale(0.943) rotate(0)"/><use href="#mpc" transform="translate(770.8,466.7) scale(0.943) rotate(200)"/><use href="#mpd" transform="translate(770.8,466.7) scale(0.943) rotate(200)"/><use href="#st" transform="translate(720.9,381.5) rotate(17) scale(0.630)"/><use href="#st" transform="translate(758.3,391.4) rotate(7.4) scale(0.630)"/><use href="#st" transform="translate(681.1,398.9) rotate(28.5) scale(0.630)"/><use href="#st" transform="translate(714.2,397.4) rotate(11.2) scale(0.630)"/><use href="#st" transform="translate(692.3,405.6) rotate(4.8) scale(0.630)"/><use href="#st" transform="translate(706,406.9) rotate(28.9) scale(0.630)"/><use href="#st" transform="translate(726.7,406.9) rotate(66.1) scale(0.630)"/><use href="#st" transform="translate(739.1,410.6) rotate(57.6) scale(0.630)"/><use href="#st" transform="translate(752.1,404.4) rotate(55.1) scale(0.630)"/><use href="#st" transform="translate(762.5,406.4) rotate(16) scale(0.630)"/><use href="#st" transform="translate(695.5,418.1) rotate(38.6) scale(0.630)"/><use href="#st" transform="translate(740.9,424.3) rotate(19.9) scale(0.630)"/><use href="#st" transform="translate(777,424.8) rotate(12.4) scale(0.630)"/><use href="#st" transform="translate(693.5,431.8) rotate(7.6) scale(0.630)"/><use href="#st" transform="translate(735.9,441.3) rotate(15.4) scale(0.630)"/><use href="#st" transform="translate(775.7,440.5) rotate(66.8) scale(0.630)"/><use href="#st" transform="translate(658.6,443) rotate(59.7) scale(0.630)"/><use href="#st" transform="translate(671.8,447.3) rotate(58.1) scale(0.630)"/><use href="#st" transform="translate(790.7,451.7) rotate(57.6) scale(0.630)"/><use href="#st" transform="translate(753.3,453) rotate(13.9) scale(0.630)"/><use href="#st" transform="translate(716.7,454.7) rotate(22.3) scale(0.630)"/><use href="#st" transform="translate(714.2,467.9) rotate(45.1) scale(0.630)"/><use href="#st" transform="translate(686,475.4) rotate(52.7) scale(0.630)"/><use href="#st" transform="translate(704.2,476.7) rotate(61.5) scale(0.630)"/><use href="#st" transform="translate(757.1,476.7) rotate(63.4) scale(0.630)"/><use href="#st" transform="translate(789.9,474.7) rotate(6.2) scale(0.630)"/><path d="M803.5,452.5 C809.6,449.2 829.6,442.2 840,433 C850.4,423.8 859.2,410.8 866,397 C872.8,383.2 878.2,365.3 880.5,350 C882.8,334.7 880.9,318 879.5,305 C878.1,292 874.8,280.8 872,272 C869.2,263.2 864.1,255.3 862.5,252 L848,270 L861,240 L890,252.5 L873.5,249  C874.8,252.5 879.2,260.7 881.5,270 C883.8,279.3 886.6,291.3 887.5,305 C888.4,318.7 889.8,336.2 887,352 C884.2,367.8 878.3,386 871,400 C863.7,414 854.1,426.9 843,436 C831.9,445.1 810.9,451.4 804.5,454.5Z" fill="#8e8e8e" stroke="#8e8e8e" stroke-width="1" opacity="0.6" transform="translate(2.4,2.8)"/><path d="M803.5,452.5 C809.6,449.2 829.6,442.2 840,433 C850.4,423.8 859.2,410.8 866,397 C872.8,383.2 878.2,365.3 880.5,350 C882.8,334.7 880.9,318 879.5,305 C878.1,292 874.8,280.8 872,272 C869.2,263.2 864.1,255.3 862.5,252 L848,270 L861,240 L890,252.5 L873.5,249  C874.8,252.5 879.2,260.7 881.5,270 C883.8,279.3 886.6,291.3 887.5,305 C888.4,318.7 889.8,336.2 887,352 C884.2,367.8 878.3,386 871,400 C863.7,414 854.1,426.9 843,436 C831.9,445.1 810.9,451.4 804.5,454.5Z" fill="#fff8f5" stroke="#c9705c" stroke-width="1.1" stroke-linejoin="miter"/>
<ellipse cx="146.9" cy="701.2" rx="77" ry="82.6" fill="url(#gCellN)"/><ellipse cx="152" cy="712" rx="56" ry="54" fill="#c9a6ab" opacity="0.5" filter="url(#b6)"/><ellipse cx="150" cy="757" rx="42" ry="18" fill="#ffffff" opacity="0.6" filter="url(#b6)"/><ellipse cx="146.9" cy="701.2" rx="76" ry="81.6" fill="none" stroke="#b98582" stroke-width="1.3" opacity="0.8"/><ellipse cx="147.8" cy="706.4" rx="46.7" ry="44.2" fill="url(#gNuc1)"/><path d="M135,602 L162,602 L173,668 L121,668 Z" fill="url(#gBeamS)" filter="url(#b2)"/><g transform="translate(148.9,585.5) rotate(8)"><path d="M-9.1,-13.3 Q0,-17.1 9.1,-13.3 L9.6,-2.5 L-9.6,-2.5 Z" fill="url(#gBlk)"/><rect x="-10.3" y="-3.7" width="20.6" height="5" rx="1.2" fill="#b8404e"/><rect x="-10.1" y="-2.9" width="20.2" height="1.1" fill="#d86873" opacity="0.8"/><path d="M-11,0.9 L11,0.9 L12,13.6 Q0,17.7 -12,13.6 Z" fill="url(#gBlk)"/><ellipse cx="0" cy="14.1" rx="8.6" ry="1.1" fill="#2a1416" opacity="0.9"/></g><circle cx="393.6" cy="603.6" r="18" fill="url(#gBleb)" stroke="#d6b0b2" stroke-width="0.8"/><circle cx="440" cy="592" r="10" fill="url(#gBleb)" stroke="#d6b0b2" stroke-width="0.8"/><circle cx="551.8" cy="646" r="10" fill="url(#gBleb)" stroke="#d6b0b2" stroke-width="0.8"/><circle cx="517" cy="767" r="10" fill="url(#gBleb)" stroke="#d6b0b2" stroke-width="0.8"/><circle cx="412" cy="782" r="17.5" fill="url(#gBleb)" stroke="#d6b0b2" stroke-width="0.8"/><path d="M536.9,693.4 C536.7,699.6 537.5,705.9 536.4,711.8 C535.3,717.8 532.8,723.5 530.5,729.1 C528.3,734.8 526,740.6 522.9,745.6 C519.7,750.7 515.9,755.7 511.5,759.5 C507.2,763.3 501.6,765.6 496.6,768.3 C491.6,770.9 486.6,773 481.4,775.4 C476.3,777.8 471.1,782 465.6,782.8 C460.1,783.6 454.2,781.3 448.6,780.3 C443.1,779.2 437.8,777.8 432.3,776.4 C426.8,775 420.4,774.7 415.5,771.9 C410.6,769 407.1,763.3 402.9,759 C398.7,754.7 393.7,751.2 390.4,746.2 C387.1,741.3 385.3,735 383.1,729.3 C380.9,723.6 378.2,717.9 377.2,711.9 C376.3,705.9 377.4,699.6 377.4,693.4 C377.4,687.2 376.5,681 377.2,674.9 C377.9,668.8 379.3,662.4 381.6,656.8 C384,651.2 388,646.4 391.4,641.4 C394.8,636.4 398,631.1 402.1,626.9 C406.3,622.7 411.1,618.8 416.2,616.2 C421.2,613.6 427.1,613.1 432.5,611.2 C437.9,609.2 442.9,605.4 448.4,604.3 C453.9,603.3 459.9,604.1 465.5,605.1 C471.1,606.1 476.6,607.9 481.8,610.2 C487,612.4 491.5,615.9 496.6,618.6 C501.6,621.4 507.9,622.7 512.2,626.5 C516.5,630.3 519.2,636.4 522.4,641.5 C525.7,646.6 529.3,651.5 531.8,657.1 C534.4,662.6 536.9,668.6 537.7,674.7 C538.6,680.7 537.2,687.2 536.9,693.4Z" fill="url(#gCellA)" stroke="#d3a3a2" stroke-width="1.2"/><path d="M502.3,693 C502.5,700.4 500.9,708.7 498.1,715.4 C495.3,722.2 490.7,728.8 485.6,733.6 C480.4,738.3 473.7,742.4 467.3,744 C460.8,745.7 453.4,745.1 446.8,743.4 C440.3,741.7 433.1,738.7 428.2,733.9 C423.4,729.1 420.3,721.3 417.6,714.5 C414.9,707.7 412.5,700.4 412.1,693 C411.7,685.6 412.6,677 415.4,670.3 C418.1,663.6 423.5,657.5 428.7,652.8 C433.9,648.1 440.4,643.5 446.7,642.1 C453.1,640.7 460.4,642.6 466.8,644.4 C473.2,646.3 480,648.7 485,653.2 C490,657.7 494,664.6 496.9,671.2 C499.8,677.8 502.1,685.6 502.3,693Z" fill="url(#gNuc2)"/><g fill="#6e2830" opacity="0.35"><circle cx="427.3" cy="694.2" r="1.1"/><circle cx="447.3" cy="716.3" r="1.1"/><circle cx="433.2" cy="695.4" r="0.8"/><circle cx="449.2" cy="709.3" r="1"/><circle cx="483" cy="669.6" r="1"/><circle cx="443.3" cy="718.6" r="0.6"/><circle cx="454.1" cy="668.4" r="0.7"/><circle cx="480.1" cy="689.8" r="1.3"/><circle cx="431.4" cy="666.2" r="1"/><circle cx="471.6" cy="727.7" r="0.7"/><circle cx="445" cy="702" r="0.5"/><circle cx="453.8" cy="697" r="0.8"/><circle cx="480.4" cy="656.2" r="0.8"/><circle cx="475.3" cy="709.8" r="0.6"/><circle cx="463.4" cy="728.1" r="1"/><circle cx="484.3" cy="699.2" r="0.8"/><circle cx="445.3" cy="703" r="0.8"/><circle cx="483.4" cy="715.6" r="1"/><circle cx="439.4" cy="672" r="1.3"/><circle cx="444.8" cy="708.1" r="0.8"/><circle cx="470.5" cy="683.6" r="1.1"/><circle cx="491" cy="677.1" r="0.9"/><circle cx="421.6" cy="706.1" r="1.1"/><circle cx="462.9" cy="675" r="1"/><circle cx="455.6" cy="670.8" r="0.7"/><circle cx="473.3" cy="664.2" r="0.8"/><circle cx="436.9" cy="695" r="0.7"/><circle cx="476.8" cy="710.9" r="0.6"/><circle cx="488.1" cy="666.1" r="1"/><circle cx="483" cy="711.9" r="0.6"/><circle cx="447.1" cy="704.8" r="0.9"/><circle cx="475.8" cy="704" r="0.7"/><circle cx="419.4" cy="702.3" r="1"/><circle cx="463.9" cy="655" r="0.9"/><circle cx="465.7" cy="697.5" r="0.6"/><circle cx="433.9" cy="690.3" r="1.2"/><circle cx="461.5" cy="708.7" r="1"/><circle cx="449.8" cy="686.5" r="0.8"/><circle cx="423" cy="707.2" r="1.1"/><circle cx="477.4" cy="669.2" r="1.3"/><circle cx="436" cy="697.5" r="0.6"/><circle cx="472.8" cy="661" r="1"/><circle cx="488.4" cy="688.1" r="0.7"/><circle cx="444" cy="651.8" r="0.6"/><circle cx="481.1" cy="682.8" r="0.6"/><circle cx="421.8" cy="691" r="0.9"/><circle cx="452.8" cy="732.6" r="0.6"/><circle cx="445.6" cy="668.9" r="1"/><circle cx="435.9" cy="692" r="0.7"/><circle cx="468.5" cy="665.2" r="0.7"/><circle cx="427.8" cy="671.1" r="0.6"/><circle cx="442" cy="697.6" r="1.1"/><circle cx="491.9" cy="704.7" r="0.9"/><circle cx="427.9" cy="689.6" r="0.7"/><circle cx="441.3" cy="698.6" r="0.8"/><circle cx="431.3" cy="672.8" r="0.8"/><circle cx="430.7" cy="666.1" r="1.1"/><circle cx="485.2" cy="693.7" r="0.6"/><circle cx="469.8" cy="661.5" r="0.9"/><circle cx="435" cy="672.3" r="0.7"/></g><g fill="#fff" fill-opacity="0.22" stroke="#d4a9a9" stroke-opacity="0.55" stroke-width="0.7"><circle cx="414.1" cy="736.8" r="4.4"/><circle cx="513.6" cy="656.2" r="7.3"/><circle cx="398.6" cy="671.3" r="7.5"/><circle cx="394.4" cy="657.8" r="7.1"/><circle cx="490.6" cy="635.1" r="4.4"/><circle cx="497.8" cy="754.5" r="4.4"/><circle cx="419.2" cy="633" r="3.8"/><circle cx="468.6" cy="635.6" r="8.3"/><circle cx="488.5" cy="640" r="7.5"/><circle cx="450.8" cy="632.4" r="7.2"/><circle cx="509.3" cy="749.6" r="7.3"/><circle cx="511.2" cy="685.9" r="5.2"/><circle cx="408.3" cy="643.6" r="4.5"/><circle cx="511.8" cy="642.5" r="5.2"/><circle cx="498.4" cy="752.4" r="5.7"/><circle cx="423.7" cy="633.4" r="5.7"/><circle cx="512.9" cy="701.8" r="6"/><circle cx="448.4" cy="625.5" r="7.6"/><circle cx="386.5" cy="673.8" r="7.1"/><circle cx="432.3" cy="748.9" r="3.9"/><circle cx="527.1" cy="712.8" r="8.3"/><circle cx="457.5" cy="632.4" r="7.1"/><circle cx="507.7" cy="750.6" r="7.1"/><circle cx="456.8" cy="620.5" r="5.8"/><circle cx="500.2" cy="627.2" r="4.8"/><circle cx="392.8" cy="722.5" r="7.2"/><circle cx="403.4" cy="730.2" r="8.8"/><circle cx="447.6" cy="756" r="7.3"/><circle cx="444.7" cy="772" r="5.3"/><circle cx="512" cy="662.7" r="8.4"/></g><circle cx="492" cy="653.5" r="21" fill="#f3e6e8" fill-opacity="0.35" stroke="#d9b3b5" stroke-width="0.9"/><circle cx="403.5" cy="708" r="8" fill="#f3e6e8" fill-opacity="0.35" stroke="#d9b3b5" stroke-width="0.9"/><circle cx="509.4" cy="725.7" r="18" fill="#f3e6e8" fill-opacity="0.35" stroke="#d9b3b5" stroke-width="0.9"/><path d="M239,924.6 C239.2,930.2 241.3,936.2 240.3,941.6 C239.2,947 235,951.6 232.9,956.8 C230.8,962 230.6,968.1 227.8,972.7 C225.1,977.3 220.2,980.6 216.5,984.5 C212.7,988.4 209.2,992.3 205.4,996.1 C201.5,999.9 198,1005.1 193.3,1007.5 C188.7,1009.9 182.6,1009.3 177.5,1010.6 C172.3,1011.9 167.4,1014.7 162.3,1015.4 C157.1,1016 151.6,1015.3 146.4,1014.7 C141.2,1014 135.9,1013.1 130.9,1011.6 C125.8,1010.1 120.7,1008.3 116.1,1005.7 C111.5,1003.1 107.7,999.1 103.4,995.9 C99,992.7 93.5,990.6 90,986.5 C86.6,982.4 85.2,976.4 82.8,971.4 C80.3,966.5 77.1,962 75.3,956.9 C73.5,951.9 72.8,946.3 71.8,940.9 C70.9,935.5 69.7,930.1 69.5,924.6 C69.2,919.1 69.8,913.6 70.4,908 C71,902.5 71.1,896.4 73,891.3 C74.9,886.1 78.6,881.6 81.8,877.2 C85,872.7 88.5,868.6 92,864.6 C95.6,860.6 99.3,856.9 103.2,853.1 C107.1,849.3 110.6,844.1 115.3,841.7 C120,839.4 126.1,840.4 131.3,839.1 C136.5,837.8 141.2,834.6 146.4,833.9 C151.5,833.2 156.9,834.4 162.2,834.9 C167.4,835.4 172.9,835.3 177.9,836.8 C182.9,838.4 187.5,841.6 192.2,844.1 C197,846.5 202.1,848.4 206.4,851.7 C210.6,854.9 214.1,859.4 217.6,863.6 C221.2,867.7 224.6,872 227.6,876.6 C230.6,881.2 233.8,886.1 235.6,891.3 C237.5,896.5 238.3,902.3 238.8,907.9 C239.4,913.4 238.7,919 239,924.6Z" fill="url(#gCellT)" stroke="#d9cbd0" stroke-width="1.2"/><path d="M226.8,924.6 C226.5,931 227.6,937.6 226.2,943.5 C224.7,949.5 220.6,954.5 218.1,960.3 C215.5,966.1 214.9,973.7 211.1,978.3 C207.3,983 200.5,984.8 195.4,988.2 C190.4,991.6 186,995.9 180.7,998.8 C175.3,1001.7 169.4,1005.1 163.5,1005.7 C157.7,1006.3 151.5,1003.1 145.5,1002.4 C139.4,1001.6 132.7,1003.2 127.1,1001.2 C121.4,999.3 116.2,994.8 111.5,990.8 C106.8,986.8 102.6,982 98.7,977.2 C94.8,972.3 90.9,967.3 88.1,961.7 C85.3,956.1 83.1,949.8 82,943.6 C80.8,937.5 81.5,931 81.1,924.6 C80.7,918.2 78.2,911 79.6,904.9 C81,898.9 86.4,894 89.3,888.2 C92.1,882.4 93.1,875.3 96.8,870.2 C100.4,865.1 105.7,860.5 111.1,857.8 C116.5,855 123.3,855.2 129,853.5 C134.8,851.8 139.9,848.9 145.6,847.7 C151.2,846.5 157.3,846.1 163.2,846.3 C169.1,846.5 175.9,846.4 181.2,848.9 C186.5,851.4 190.4,857.5 195.3,861.3 C200.1,865.1 206.2,867.2 210.2,871.7 C214.2,876.2 216.2,882.7 219.1,888.3 C222.1,893.9 226.5,899.2 227.8,905.3 C229.1,911.3 227.1,918.2 226.8,924.6Z" fill="none" stroke="#d6c9ce" stroke-width="0.9" opacity="0.7"/><path d="M218.7,924.6 C218,929.9 213.8,934.6 212.4,939.8 C210.9,945 212.1,951.1 210.2,955.8 C208.2,960.6 203.9,964.1 200.6,968.3 C197.4,972.5 194.9,977.9 190.8,980.8 C186.7,983.8 180.9,983.9 176.1,985.9 C171.3,987.8 166.9,991.9 162,992.3 C157.2,992.7 152.1,988.9 147,988.3 C141.9,987.7 136.1,990.4 131.4,988.8 C126.8,987.1 123.1,982.1 119.3,978.5 C115.6,975 112.3,971.2 109.1,967.3 C105.9,963.3 102.7,959.3 100.1,954.9 C97.5,950.4 94.4,945.6 93.5,940.6 C92.6,935.5 94.4,929.9 94.6,924.6 C94.8,919.3 93.5,913.9 94.6,908.9 C95.8,904 99.1,899.6 101.5,895.1 C104,890.7 106.4,886.2 109.5,882.3 C112.6,878.4 116.1,874.7 120,871.7 C123.9,868.7 128.3,866.1 132.8,864.2 C137.3,862.3 142.1,861.4 147,860.3 C151.8,859.2 157.1,857.1 161.9,857.6 C166.8,858.1 171.4,861.5 176.1,863.3 C180.9,865.2 186.2,866 190.5,868.7 C194.9,871.4 198.8,875.4 202.2,879.4 C205.6,883.5 208.5,888.2 210.9,893 C213.3,897.8 215.4,903 216.7,908.2 C217.9,913.5 219.4,919.3 218.7,924.6Z" fill="none" stroke="#d6c9ce" stroke-width="0.9" opacity="0.7"/><path d="M204.8,924.6 C205.3,928.9 205.4,933.8 204.4,937.9 C203.3,942.1 200.4,945.8 198.4,949.6 C196.4,953.5 194.8,957.5 192.4,961 C189.9,964.5 187.1,968.2 183.7,970.6 C180.3,973 175.9,973.7 172.1,975.2 C168.2,976.6 164.4,978.5 160.4,979.2 C156.5,979.9 152.2,979.6 148.2,979.2 C144.1,978.7 139.6,978.5 136.1,976.5 C132.5,974.6 130,970.2 126.9,967.4 C123.9,964.5 121,962.2 117.9,959.5 C114.8,956.7 110.4,954.3 108.3,950.7 C106.1,947.1 105.3,942.1 104.8,937.8 C104.3,933.4 105.3,929 105.3,924.6 C105.3,920.2 103.8,915.5 104.8,911.4 C105.8,907.4 109.1,903.9 111.2,900.2 C113.3,896.5 114.8,892.5 117.3,889.2 C119.8,885.9 122.8,882.7 126,880.4 C129.3,878 133.2,876.5 137,875.2 C140.7,873.9 144.6,873.3 148.4,872.5 C152.3,871.8 156.4,870.8 160.3,871 C164.3,871.1 168.6,871.9 172.2,873.5 C175.9,875.2 179,878.3 182.3,880.8 C185.6,883.3 189.2,885.4 192.2,888.3 C195.2,891.3 198.8,894.6 200.3,898.5 C201.8,902.5 200.4,907.8 201.1,912.1 C201.9,916.5 204.2,920.3 204.8,924.6Z" fill="none" stroke="#d6c9ce" stroke-width="0.9" opacity="0.7"/><ellipse cx="156.6" cy="927.6" rx="38" ry="41" fill="url(#gNuc3)"/><path d="M124,922 Q132,894 166,890 Q186,890 190,900 Q160,902 148,916 Q136,932 128,940 Z" fill="#f7c7be" opacity="0.55"/><path d="M550.6,893.7 C550.9,898.9 550.2,905.6 548.1,910 C545.9,914.4 541.6,918.3 537.8,920.1 C533.9,921.9 528.5,922.7 524.9,920.8 C521.3,918.9 518.1,913.3 516,908.8 C513.9,904.3 512.2,898.7 512.3,893.7 C512.3,888.7 513.9,882.8 516.1,878.7 C518.3,874.6 521.9,871.1 525.5,869.2 C529.1,867.2 534.3,865.5 537.8,867.1 C541.3,868.7 544.5,874.3 546.6,878.8 C548.8,883.2 550.4,888.5 550.6,893.7Z" fill="#dccfd3" stroke="#cdb9bd" stroke-width="1"/><path d="M382.1,984 C382.2,987.9 381.8,992.9 380.1,995.9 C378.3,999 374.6,1001.4 371.5,1002.2 C368.4,1002.9 364,1002.7 361.5,1000.7 C359,998.6 357.2,993.7 356.3,989.9 C355.5,986.2 355.5,981.8 356.4,978.1 C357.3,974.4 359.2,969.9 361.7,967.8 C364.3,965.8 368.6,965 371.5,965.8 C374.4,966.7 377.6,969.8 379.4,972.8 C381.2,975.8 382,980.1 382.1,984Z" fill="#dccfd3" stroke="#cdb9bd" stroke-width="1"/><path d="M529.8,931 C530.7,939.4 529,948.4 527.4,957.1 C525.7,965.8 524.5,975.9 520,983.1 C515.5,990.3 507.1,995 500.4,1000.3 C493.7,1005.5 487.3,1011 480.1,1014.8 C472.8,1018.5 464.6,1022.2 456.7,1022.9 C448.7,1023.6 440.5,1020.3 432.5,1018.9 C424.5,1017.5 416.1,1017.7 408.5,1014.8 C401,1011.9 393.7,1006.9 387.2,1001.5 C380.7,996.1 373.2,990 369.6,982.3 C366,974.7 367,964.3 365.5,955.8 C363.9,947.2 360.2,939.3 360.2,931 C360.2,922.7 363.9,914.8 365.5,906.2 C367.1,897.7 365.9,887.3 369.5,879.6 C373,871.9 380,864.7 386.8,860 C393.6,855.3 402.9,855.7 410.4,851.5 C417.8,847.4 423.6,837.8 431.4,835.1 C439.2,832.4 449,833.5 457.2,835.3 C465.4,837.1 473.3,841.7 480.6,845.9 C488,850.1 495.8,854.4 501.3,860.6 C506.9,866.8 510.4,875.5 513.9,883.1 C517.4,890.8 519.8,898.5 522.4,906.5 C525.1,914.4 529,922.6 529.8,931Z" fill="url(#gCellT2)" stroke="#c9aeb2" stroke-width="1.2"/><path d="M508.2,931 C508,940.1 508,949.5 505.3,958 C502.6,966.4 498,976 491.8,981.7 C485.5,987.4 475.8,989 467.9,992.2 C459.9,995.5 452.2,1000.7 444,1001.2 C435.8,1001.7 426.6,998.9 418.9,995.4 C411.2,991.8 403.1,986.6 397.9,980 C392.7,973.4 390,964 387.6,955.8 C385.3,947.6 384,939.4 383.6,931 C383.3,922.6 383.4,913.6 385.7,905.3 C388,897.1 391.7,887.4 397.4,881.5 C403.2,875.6 412.5,873.1 420.2,870 C428,867 436,863.1 444,863 C452,862.9 460.1,866.6 468,869.6 C475.8,872.5 484.7,875.2 491.1,880.9 C497.5,886.6 503.4,895.2 506.3,903.6 C509.1,911.9 508.3,921.9 508.2,931Z" fill="#e6dcdf" opacity="0.5"/><g fill="#f4eef0" fill-opacity="0.5"><ellipse cx="509.2" cy="948.2" rx="2.6" ry="2.4" transform="rotate(120.9 509.2 948.2)"/><ellipse cx="459.5" cy="872.2" rx="4" ry="1.5" transform="rotate(77.8 459.5 872.2)"/><ellipse cx="393.4" cy="987.2" rx="4.2" ry="3" transform="rotate(78.1 393.4 987.2)"/><ellipse cx="477" cy="1000.9" rx="5.3" ry="2.3" transform="rotate(17.2 477 1000.9)"/><ellipse cx="385.7" cy="926.1" rx="5.1" ry="2.7" transform="rotate(91.2 385.7 926.1)"/><ellipse cx="396.3" cy="904.8" rx="2.2" ry="1.6" transform="rotate(169.5 396.3 904.8)"/><ellipse cx="471.2" cy="885.1" rx="5.6" ry="2.5" transform="rotate(18.5 471.2 885.1)"/><ellipse cx="482.7" cy="878.5" rx="5.7" ry="2.9" transform="rotate(16.9 482.7 878.5)"/><ellipse cx="393.7" cy="878.4" rx="5.6" ry="2.2" transform="rotate(95.2 393.7 878.4)"/><ellipse cx="430.6" cy="884.7" rx="5.4" ry="3.1" transform="rotate(9 430.6 884.7)"/><ellipse cx="399.3" cy="899.9" rx="2.7" ry="2.7" transform="rotate(174.5 399.3 899.9)"/><ellipse cx="403.3" cy="916.1" rx="4" ry="3.1" transform="rotate(171.9 403.3 916.1)"/><ellipse cx="435.5" cy="888.8" rx="5.9" ry="2.7" transform="rotate(15.1 435.5 888.8)"/><ellipse cx="473.7" cy="963.3" rx="4.7" ry="1.8" transform="rotate(145.3 473.7 963.3)"/><ellipse cx="491" cy="971.8" rx="3.8" ry="1.6" transform="rotate(0.5 491 971.8)"/><ellipse cx="508.5" cy="883.4" rx="2.5" ry="3" transform="rotate(178.1 508.5 883.4)"/><ellipse cx="505.6" cy="885.7" rx="3.4" ry="2.9" transform="rotate(89.7 505.6 885.7)"/><ellipse cx="506.3" cy="903.5" rx="5.4" ry="3.2" transform="rotate(69.4 506.3 903.5)"/><ellipse cx="434.4" cy="886.8" rx="2.8" ry="3.4" transform="rotate(72.8 434.4 886.8)"/><ellipse cx="419.7" cy="870.2" rx="3" ry="2.7" transform="rotate(164.2 419.7 870.2)"/><ellipse cx="419.7" cy="980.9" rx="2.7" ry="1.9" transform="rotate(148.9 419.7 980.9)"/><ellipse cx="423.2" cy="851" rx="4.7" ry="3.4" transform="rotate(39.9 423.2 851)"/><ellipse cx="462.4" cy="977.9" rx="3.5" ry="3.5" transform="rotate(40.5 462.4 977.9)"/><ellipse cx="404.5" cy="942.4" rx="2.1" ry="2.6" transform="rotate(110.4 404.5 942.4)"/><ellipse cx="368.8" cy="925.5" rx="5.4" ry="3.4" transform="rotate(104.2 368.8 925.5)"/><ellipse cx="440.6" cy="977.8" rx="5.1" ry="1.8" transform="rotate(1.1 440.6 977.8)"/><ellipse cx="430.6" cy="886.6" rx="4.5" ry="1.9" transform="rotate(76.5 430.6 886.6)"/><ellipse cx="498" cy="936.3" rx="3.3" ry="2" transform="rotate(24.1 498 936.3)"/><ellipse cx="385" cy="898.4" rx="2.8" ry="1.6" transform="rotate(48.3 385 898.4)"/><ellipse cx="428.7" cy="880.5" rx="4.6" ry="1.6" transform="rotate(126.6 428.7 880.5)"/><ellipse cx="474.2" cy="970.8" rx="4.9" ry="2.5" transform="rotate(115.3 474.2 970.8)"/><ellipse cx="429.5" cy="999.5" rx="3.2" ry="2.5" transform="rotate(79.9 429.5 999.5)"/><ellipse cx="503.2" cy="892.3" rx="4.2" ry="3.2" transform="rotate(109.8 503.2 892.3)"/><ellipse cx="434.5" cy="868.1" rx="4.3" ry="1.9" transform="rotate(167.5 434.5 868.1)"/><ellipse cx="398.2" cy="872" rx="4.4" ry="1.5" transform="rotate(19.5 398.2 872)"/><ellipse cx="493.6" cy="882.5" rx="5.6" ry="3.3" transform="rotate(41.6 493.6 882.5)"/><ellipse cx="507.4" cy="924.7" rx="4.9" ry="2.5" transform="rotate(46.1 507.4 924.7)"/><ellipse cx="387.1" cy="936.4" rx="3.2" ry="2.2" transform="rotate(79.7 387.1 936.4)"/><ellipse cx="439.6" cy="978.2" rx="5.2" ry="2.2" transform="rotate(65.7 439.6 978.2)"/><ellipse cx="458.3" cy="861" rx="3.8" ry="2.1" transform="rotate(143.3 458.3 861)"/><ellipse cx="449.1" cy="992.2" rx="3.5" ry="3.5" transform="rotate(43.2 449.1 992.2)"/><ellipse cx="394.3" cy="895.4" rx="2.2" ry="1.9" transform="rotate(159.5 394.3 895.4)"/><ellipse cx="455.7" cy="881.9" rx="2.7" ry="3.4" transform="rotate(106 455.7 881.9)"/><ellipse cx="428.5" cy="852.2" rx="3" ry="2.5" transform="rotate(164.5 428.5 852.2)"/><ellipse cx="463.4" cy="979.3" rx="5.5" ry="3.2" transform="rotate(92.8 463.4 979.3)"/><ellipse cx="492.6" cy="988.7" rx="3.2" ry="3" transform="rotate(45.9 492.6 988.7)"/><ellipse cx="482.1" cy="989.8" rx="3.6" ry="2.3" transform="rotate(79.1 482.1 989.8)"/><ellipse cx="388.5" cy="946.7" rx="4.6" ry="1.7" transform="rotate(121.6 388.5 946.7)"/><ellipse cx="372.8" cy="937.4" rx="3.1" ry="2.8" transform="rotate(37 372.8 937.4)"/><ellipse cx="423.4" cy="863.8" rx="4.2" ry="2.5" transform="rotate(171.1 423.4 863.8)"/><ellipse cx="417.8" cy="965.9" rx="3.3" ry="1.6" transform="rotate(160.4 417.8 965.9)"/><ellipse cx="467.8" cy="888.5" rx="4.5" ry="1.9" transform="rotate(153.9 467.8 888.5)"/><ellipse cx="409" cy="953.5" rx="4.5" ry="1.7" transform="rotate(161 409 953.5)"/><ellipse cx="501.5" cy="901.4" rx="3" ry="3" transform="rotate(7.1 501.5 901.4)"/><ellipse cx="483.4" cy="966" rx="2.3" ry="3.2" transform="rotate(120.3 483.4 966)"/></g><path d="M485.8,934 C486.1,942.4 482.5,953.5 477.1,959.9 C471.7,966.3 461.8,971.2 453.6,972.5 C445.4,973.8 435,972 428,967.8 C421,963.6 414.9,955.2 411.7,947.2 C408.6,939.2 406.4,927.5 409.2,919.9 C412,912.2 421.1,904.9 428.5,901.1 C435.8,897.3 445.5,895.8 453.3,897.2 C461.1,898.6 469.9,903.5 475.3,909.7 C480.7,915.8 485.5,925.6 485.8,934Z" fill="url(#gNuc4)"/><path d="M432,905 L452,899 L470,912 L462,928 L440,922 Z" fill="#e39a90" opacity="0.45"/><mask id="mG15" maskUnits="userSpaceOnUse" x="0" y="858.2" width="1204" height="204.8"><path d="M-20,833 L1224,833 L1224,1057 L86,1057 L44,1027 L-20,1009 Z" fill="#fff" filter="url(#b3)"/></mask><g mask="url(#mG15)"><ellipse cx="200" cy="1049" rx="128" ry="67.2" fill="#f8a584" opacity="0.62" filter="url(#b16)"/><ellipse cx="200" cy="1045" rx="136.6" ry="55.4" fill="#f6906f" opacity="0.5" filter="url(#b10)"/><ellipse cx="200" cy="1045" rx="122" ry="37.8" fill="#f3694c" opacity="0.85" filter="url(#b10)"/><g filter="url(#b2)"><path d="M301.1,1045 L363.6,959.5 L307.6,1045 Z" fill="#f9a57c" opacity="0.3"/><path d="M98.4,1045 L60.2,988.3 L109.8,1045 Z" fill="#fde9a6" opacity="0.3"/><path d="M161.3,1045 L153.3,978 L171.5,1045 Z" fill="#fde9a6" opacity="0.4"/><path d="M277.1,1045 L338.2,995.3 L291.7,1045 Z" fill="#fde9a6" opacity="0.3"/><path d="M212.2,1045 L241.4,974.2 L225.8,1045 Z" fill="#f57a5a" opacity="0.4"/><path d="M210.9,1045 L244,968.8 L223.8,1045 Z" fill="#f9a57c" opacity="0.4"/><path d="M194.9,1045 L210.1,994.5 L204.8,1045 Z" fill="#fcf0b8" opacity="0.4"/><path d="M274,1045 L310.9,963.9 L281.4,1045 Z" fill="#f9a57c" opacity="0.3"/><path d="M169.4,1045 L145.6,965.8 L188.6,1045 Z" fill="#fcf0b8" opacity="0.4"/><path d="M139.5,1045 L106,970.9 L146.7,1045 Z" fill="#fde9a6" opacity="0.4"/><path d="M268.8,1045 L324.2,952.3 L278.2,1045 Z" fill="#fde9a6" opacity="0.3"/><path d="M254.6,1045 L300.8,987.4 L262.6,1045 Z" fill="#f57a5a" opacity="0.4"/><path d="M166.5,1045 L169.1,949.1 L183,1045 Z" fill="#fde9a6" opacity="0.4"/><path d="M181.8,1045 L172.3,985 L200.5,1045 Z" fill="#f57a5a" opacity="0.4"/><path d="M96.4,1045 L6.9,990 L106.5,1045 Z" fill="#fcf0b8" opacity="0.3"/><path d="M182.9,1045 L192.1,963.7 L198.7,1045 Z" fill="#fcf0b8" opacity="0.4"/><path d="M268,1045 L310.3,991.9 L283.5,1045 Z" fill="#fbdc98" opacity="0.3"/><path d="M151.9,1045 L143.4,953.1 L169.3,1045 Z" fill="#f9a57c" opacity="0.4"/><path d="M281.5,1045 L363.5,987.6 L295.7,1045 Z" fill="#fbdc98" opacity="0.3"/><path d="M138.6,1045 L130.9,972.8 L155.2,1045 Z" fill="#fbc49c" opacity="0.4"/><path d="M194.7,1045 L183.5,981.5 L205.8,1045 Z" fill="#f78c66" opacity="0.4"/><path d="M223.4,1045 L258.2,950.5 L242.8,1045 Z" fill="#f57a5a" opacity="0.4"/><path d="M161.6,1045 L159.1,984 L169.7,1045 Z" fill="#fcf0b8" opacity="0.4"/><path d="M222.6,1045 L247.7,968.3 L231.4,1045 Z" fill="#fbb48c" opacity="0.4"/><path d="M87.8,1045 L42.1,991.5 L98.2,1045 Z" fill="#f78c66" opacity="0.3"/><path d="M213.2,1045 L233.7,960.4 L225.5,1045 Z" fill="#fcf0b8" opacity="0.4"/><path d="M226.2,1045 L266.6,950.1 L242.2,1045 Z" fill="#fbc49c" opacity="0.4"/><path d="M182.7,1045 L191.4,969 L203.5,1045 Z" fill="#fbdc98" opacity="0.4"/><path d="M117.5,1045 L41,965 L123.7,1045 Z" fill="#fbb48c" opacity="0.3"/><path d="M260.3,1045 L293,958.8 L268.7,1045 Z" fill="#f57a5a" opacity="0.4"/><path d="M204.8,1045 L225.1,985.6 L214.7,1045 Z" fill="#f9a57c" opacity="0.4"/><path d="M168.4,1045 L141,963.1 L177.7,1045 Z" fill="#f78c66" opacity="0.4"/><path d="M195,1045 L201.7,974.7 L209.6,1045 Z" fill="#f57a5a" opacity="0.4"/><path d="M101,1045 L39.4,990.6 L113.1,1045 Z" fill="#fde9a6" opacity="0.3"/><path d="M187.3,1045 L180.7,965.7 L195.5,1045 Z" fill="#f9a57c" opacity="0.4"/><path d="M220.1,1045 L236.7,990.8 L233.2,1045 Z" fill="#fbdc98" opacity="0.4"/><path d="M170.2,1045 L174.3,973.2 L185.6,1045 Z" fill="#f78c66" opacity="0.4"/><path d="M233.7,1045 L260,949.6 L244.6,1045 Z" fill="#f57a5a" opacity="0.4"/><path d="M197.2,1045 L200.1,985 L215.5,1045 Z" fill="#f9a57c" opacity="0.4"/><path d="M236.5,1045 L275.7,980.4 L253.5,1045 Z" fill="#fde9a6" opacity="0.4"/><path d="M293.4,1045 L350.8,978.3 L301.4,1045 Z" fill="#fde9a6" opacity="0.3"/><path d="M147.3,1045 L113.7,950.8 L155.5,1045 Z" fill="#f78c66" opacity="0.4"/><path d="M299.2,1045 L369.3,982.2 L305.3,1045 Z" fill="#fde9a6" opacity="0.3"/><path d="M170,1045 L160.8,966 L187.8,1045 Z" fill="#f57a5a" opacity="0.4"/><path d="M225.4,1045 L265.9,961.7 L244.2,1045 Z" fill="#fde9a6" opacity="0.4"/><path d="M157,1045 L125,950.9 L168.4,1045 Z" fill="#f9a57c" opacity="0.4"/><path d="M255.2,1045 L312.6,952.1 L269.5,1045 Z" fill="#fde9a6" opacity="0.4"/><path d="M127.3,1045 L90.7,981.4 L135.5,1045 Z" fill="#fbdc98" opacity="0.3"/><path d="M274.4,1045 L354.7,973.1 L285,1045 Z" fill="#fcf0b8" opacity="0.3"/><path d="M225.8,1045 L247.1,948.4 L243.3,1045 Z" fill="#fbc49c" opacity="0.4"/><path d="M220.5,1045 L249.5,992.9 L237.4,1045 Z" fill="#fbdc98" opacity="0.4"/><path d="M272.3,1045 L318,980.2 L284.5,1045 Z" fill="#fbc49c" opacity="0.3"/><path d="M165.5,1045 L154.4,949.5 L177.4,1045 Z" fill="#fbdc98" opacity="0.4"/><path d="M282.4,1045 L359.8,983.7 L292,1045 Z" fill="#fde9a6" opacity="0.3"/><path d="M183.9,1045 L164.5,969 L192.1,1045 Z" fill="#fcf0b8" opacity="0.4"/><path d="M202.3,1045 L211.8,987 L217.4,1045 Z" fill="#f9a57c" opacity="0.4"/><path d="M295.2,1045 L349.3,968.6 L302.7,1045 Z" fill="#fcf0b8" opacity="0.3"/><path d="M97.4,1045 L50.1,996 L107.8,1045 Z" fill="#f57a5a" opacity="0.3"/><path d="M134.2,1045 L98.5,992.8 L147.2,1045 Z" fill="#f78c66" opacity="0.4"/><path d="M301.8,1045 L410.5,993.1 L314,1045 Z" fill="#fbdc98" opacity="0.3"/><path d="M98.2,1045 L43.2,973.1 L106.8,1045 Z" fill="#fbb48c" opacity="0.3"/><path d="M146.3,1045 L136.4,953.9 L162.3,1045 Z" fill="#fbdc98" opacity="0.4"/><path d="M301.5,1045 L354.5,1002.4 L308.7,1045 Z" fill="#fbdc98" opacity="0.3"/><path d="M144.9,1045 L107.3,977.6 L162.9,1045 Z" fill="#fcf0b8" opacity="0.4"/></g><g stroke="#fff" stroke-width="0.9" opacity="0.33" filter="url(#b1)"><line x1="304.4" y1="1045" x2="354.7" y2="972.3"/><line x1="284.4" y1="1045" x2="330.1" y2="1002.8"/><line x1="199.9" y1="1045" x2="208.5" y2="1002.1"/><line x1="143.1" y1="1045" x2="111.6" y2="982"/><line x1="174.8" y1="1045" x2="170" y2="963.5"/><line x1="190.8" y1="1045" x2="191.9" y2="975.9"/><line x1="288.6" y1="1045" x2="352.2" y2="996.2"/><line x1="233.1" y1="1045" x2="254.4" y2="964.7"/><line x1="93" y1="1045" x2="49.7" y2="999.5"/><line x1="193.1" y1="1045" x2="191.7" y2="980.4"/><line x1="209.8" y1="1045" x2="222.8" y2="994.5"/><line x1="107" y1="1045" x2="49.5" y2="998.8"/><line x1="177.9" y1="1045" x2="174.8" y2="984"/><line x1="245" y1="1045" x2="271.1" y2="990.1"/><line x1="302.2" y1="1045" x2="359.2" y2="991.6"/><line x1="162.7" y1="1045" x2="130.6" y2="965.1"/><line x1="279.7" y1="1045" x2="343.4" y2="983.9"/><line x1="278.4" y1="1045" x2="312" y2="989.9"/><line x1="188" y1="1045" x2="168" y2="980.4"/><line x1="102.6" y1="1045" x2="58" y2="1003.3"/><line x1="102.5" y1="1045" x2="52.1" y2="983.9"/><line x1="153.9" y1="1045" x2="114.3" y2="987.7"/></g></g><g stroke-linejoin="round"><path d="M68,1079.2 L79.9,1042 L469.9,1042 L458.2,1079.2 Z" fill="url(#gGold)" stroke="#4f4510" stroke-width="1.9"/><path d="M83.1,1045.7 L69.8,1078.2 L101,1078.2 Z" fill="#bfb158" stroke="#a39330" stroke-width="0.6"/><circle cx="83.1" cy="1045.4" r="2" fill="#f2e24a"/><path d="M118.5,1045.7 L105.3,1078.2 L136.4,1078.2 Z" fill="#bfb158" stroke="#a39330" stroke-width="0.6"/><line x1="115.4" y1="1042" x2="103.5" y2="1079.2" stroke="#6e611a" stroke-width="1.2"/><line x1="116.9" y1="1043.5" x2="105" y2="1078.2" stroke="#e6d648" stroke-width="1.2" opacity="0.95"/><circle cx="118.5" cy="1045.4" r="2" fill="#f2e24a"/><path d="M154,1045.7 L140.7,1078.2 L171.9,1078.2 Z" fill="#bfb158" stroke="#a39330" stroke-width="0.6"/><line x1="150.8" y1="1042" x2="138.9" y2="1079.2" stroke="#6e611a" stroke-width="1.2"/><line x1="152.3" y1="1043.5" x2="140.4" y2="1078.2" stroke="#e6d648" stroke-width="1.2" opacity="0.95"/><circle cx="154" cy="1045.4" r="2" fill="#f2e24a"/><path d="M189.5,1045.7 L176.2,1078.2 L207.3,1078.2 Z" fill="#bfb158" stroke="#a39330" stroke-width="0.6"/><line x1="186.3" y1="1042" x2="174.4" y2="1079.2" stroke="#6e611a" stroke-width="1.2"/><line x1="187.8" y1="1043.5" x2="175.9" y2="1078.2" stroke="#e6d648" stroke-width="1.2" opacity="0.95"/><circle cx="189.5" cy="1045.4" r="2" fill="#f2e24a"/><path d="M224.9,1045.7 L211.6,1078.2 L242.8,1078.2 Z" fill="#bfb158" stroke="#a39330" stroke-width="0.6"/><line x1="221.7" y1="1042" x2="209.8" y2="1079.2" stroke="#6e611a" stroke-width="1.2"/><line x1="223.2" y1="1043.5" x2="211.3" y2="1078.2" stroke="#e6d648" stroke-width="1.2" opacity="0.95"/><circle cx="224.9" cy="1045.4" r="2" fill="#f2e24a"/><path d="M260.4,1045.7 L247.1,1078.2 L278.2,1078.2 Z" fill="#bfb158" stroke="#a39330" stroke-width="0.6"/><line x1="257.2" y1="1042" x2="245.3" y2="1079.2" stroke="#6e611a" stroke-width="1.2"/><line x1="258.7" y1="1043.5" x2="246.8" y2="1078.2" stroke="#e6d648" stroke-width="1.2" opacity="0.95"/><circle cx="260.4" cy="1045.4" r="2" fill="#f2e24a"/><path d="M295.8,1045.7 L282.5,1078.2 L313.7,1078.2 Z" fill="#bfb158" stroke="#a39330" stroke-width="0.6"/><line x1="292.6" y1="1042" x2="280.7" y2="1079.2" stroke="#6e611a" stroke-width="1.2"/><line x1="294.1" y1="1043.5" x2="282.2" y2="1078.2" stroke="#e6d648" stroke-width="1.2" opacity="0.95"/><circle cx="295.8" cy="1045.4" r="2" fill="#f2e24a"/><path d="M331.3,1045.7 L318,1078.2 L349.2,1078.2 Z" fill="#bfb158" stroke="#a39330" stroke-width="0.6"/><line x1="328.1" y1="1042" x2="316.2" y2="1079.2" stroke="#6e611a" stroke-width="1.2"/><line x1="329.6" y1="1043.5" x2="317.7" y2="1078.2" stroke="#e6d648" stroke-width="1.2" opacity="0.95"/><circle cx="331.3" cy="1045.4" r="2" fill="#f2e24a"/><path d="M366.7,1045.7 L353.4,1078.2 L384.6,1078.2 Z" fill="#bfb158" stroke="#a39330" stroke-width="0.6"/><line x1="363.5" y1="1042" x2="351.6" y2="1079.2" stroke="#6e611a" stroke-width="1.2"/><line x1="365" y1="1043.5" x2="353.1" y2="1078.2" stroke="#e6d648" stroke-width="1.2" opacity="0.95"/><circle cx="366.7" cy="1045.4" r="2" fill="#f2e24a"/><path d="M402.2,1045.7 L388.9,1078.2 L420.1,1078.2 Z" fill="#bfb158" stroke="#a39330" stroke-width="0.6"/><line x1="399" y1="1042" x2="387.1" y2="1079.2" stroke="#6e611a" stroke-width="1.2"/><line x1="400.5" y1="1043.5" x2="388.6" y2="1078.2" stroke="#e6d648" stroke-width="1.2" opacity="0.95"/><circle cx="402.2" cy="1045.4" r="2" fill="#f2e24a"/><path d="M437.6,1045.7 L424.3,1078.2 L455.5,1078.2 Z" fill="#bfb158" stroke="#a39330" stroke-width="0.6"/><line x1="434.4" y1="1042" x2="422.5" y2="1079.2" stroke="#6e611a" stroke-width="1.2"/><line x1="435.9" y1="1043.5" x2="424" y2="1078.2" stroke="#e6d648" stroke-width="1.2" opacity="0.95"/><circle cx="437.6" cy="1045.4" r="2" fill="#f2e24a"/><line x1="80.9" y1="1043.3" x2="468.9" y2="1043.3" stroke="#e3d23d" stroke-width="1.3" opacity="0.9"/></g><g stroke-linejoin="round"><path d="M458.2,1078.8 L469.9,1041.5 L823.7,1041.5 L814,1078.8 Z" fill="url(#gGold)" stroke="#4f4510" stroke-width="1.9"/><path d="M473.4,1045.2 L460,1077.8 L494.8,1077.8 Z" fill="#bfb158" stroke="#a39330" stroke-width="0.6"/><circle cx="473.4" cy="1044.9" r="2" fill="#f2e24a"/><path d="M512.7,1045.2 L499.3,1077.8 L534.1,1077.8 Z" fill="#bfb158" stroke="#a39330" stroke-width="0.6"/><line x1="509.2" y1="1041.5" x2="497.5" y2="1078.8" stroke="#6e611a" stroke-width="1.2"/><line x1="510.7" y1="1043" x2="499" y2="1077.8" stroke="#e6d648" stroke-width="1.2" opacity="0.95"/><circle cx="512.7" cy="1044.9" r="2" fill="#f2e24a"/><path d="M552.1,1045.2 L538.6,1077.8 L573.4,1077.8 Z" fill="#bfb158" stroke="#a39330" stroke-width="0.6"/><line x1="548.5" y1="1041.5" x2="536.8" y2="1078.8" stroke="#6e611a" stroke-width="1.2"/><line x1="550" y1="1043" x2="538.3" y2="1077.8" stroke="#e6d648" stroke-width="1.2" opacity="0.95"/><circle cx="552.1" cy="1044.9" r="2" fill="#f2e24a"/><path d="M591.4,1045.2 L577.9,1077.8 L612.7,1077.8 Z" fill="#bfb158" stroke="#a39330" stroke-width="0.6"/><line x1="587.8" y1="1041.5" x2="576.1" y2="1078.8" stroke="#6e611a" stroke-width="1.2"/><line x1="589.3" y1="1043" x2="577.6" y2="1077.8" stroke="#e6d648" stroke-width="1.2" opacity="0.95"/><circle cx="591.4" cy="1044.9" r="2" fill="#f2e24a"/><path d="M630.7,1045.2 L617.2,1077.8 L652,1077.8 Z" fill="#bfb158" stroke="#a39330" stroke-width="0.6"/><line x1="627.1" y1="1041.5" x2="615.4" y2="1078.8" stroke="#6e611a" stroke-width="1.2"/><line x1="628.6" y1="1043" x2="616.9" y2="1077.8" stroke="#e6d648" stroke-width="1.2" opacity="0.95"/><circle cx="630.7" cy="1044.9" r="2" fill="#f2e24a"/><path d="M670,1045.2 L656.6,1077.8 L691.3,1077.8 Z" fill="#bfb158" stroke="#a39330" stroke-width="0.6"/><line x1="666.5" y1="1041.5" x2="654.8" y2="1078.8" stroke="#6e611a" stroke-width="1.2"/><line x1="668" y1="1043" x2="656.3" y2="1077.8" stroke="#e6d648" stroke-width="1.2" opacity="0.95"/><circle cx="670" cy="1044.9" r="2" fill="#f2e24a"/><path d="M709.3,1045.2 L695.9,1077.8 L730.6,1077.8 Z" fill="#bfb158" stroke="#a39330" stroke-width="0.6"/><line x1="705.8" y1="1041.5" x2="694.1" y2="1078.8" stroke="#6e611a" stroke-width="1.2"/><line x1="707.3" y1="1043" x2="695.6" y2="1077.8" stroke="#e6d648" stroke-width="1.2" opacity="0.95"/><circle cx="709.3" cy="1044.9" r="2" fill="#f2e24a"/><path d="M748.6,1045.2 L735.2,1077.8 L769.9,1077.8 Z" fill="#bfb158" stroke="#a39330" stroke-width="0.6"/><line x1="745.1" y1="1041.5" x2="733.4" y2="1078.8" stroke="#6e611a" stroke-width="1.2"/><line x1="746.6" y1="1043" x2="734.9" y2="1077.8" stroke="#e6d648" stroke-width="1.2" opacity="0.95"/><circle cx="748.6" cy="1044.9" r="2" fill="#f2e24a"/><path d="M787.9,1045.2 L774.5,1077.8 L809.2,1077.8 Z" fill="#bfb158" stroke="#a39330" stroke-width="0.6"/><line x1="784.4" y1="1041.5" x2="772.7" y2="1078.8" stroke="#6e611a" stroke-width="1.2"/><line x1="785.9" y1="1043" x2="774.2" y2="1077.8" stroke="#e6d648" stroke-width="1.2" opacity="0.95"/><circle cx="787.9" cy="1044.9" r="2" fill="#f2e24a"/><line x1="470.9" y1="1042.8" x2="822.7" y2="1042.8" stroke="#e3d23d" stroke-width="1.3" opacity="0.9"/></g><path d="M70,1081.5 L210.6,1081.5 L212.6,1120 Q140.3,1117 68,1120 Z" fill="#c7c5c8" fill-opacity="0.9" stroke="#b1afb3" stroke-width="0.7"/><rect x="72.5" y="1088.4" width="135.6" height="25.4" rx="10.4" fill="url(#gRod)"/><rect x="190.9" y="1082.5" width="20.7" height="35.5" fill="#dddbde" fill-opacity="0.42"/><rect x="69" y="1089.2" width="20.2" height="26.9" fill="#55534f" fill-opacity="0.18"/><path d="M218,1081.5 L358.5,1081.5 L360.5,1120 Q288.2,1117 216,1120 Z" fill="#c7c5c8" fill-opacity="0.9" stroke="#b1afb3" stroke-width="0.7"/><rect x="220.5" y="1088.4" width="135.5" height="25.4" rx="10.4" fill="url(#gRod)"/><rect x="338.8" y="1082.5" width="20.7" height="35.5" fill="#dddbde" fill-opacity="0.42"/><rect x="217" y="1089.2" width="20.2" height="26.9" fill="#55534f" fill-opacity="0.18"/><path d="M366.8,1081.5 L506,1081.5 L508,1120 Q436.4,1117 364.8,1120 Z" fill="#c7c5c8" fill-opacity="0.9" stroke="#b1afb3" stroke-width="0.7"/><rect x="369.3" y="1088.4" width="134.2" height="25.4" rx="10.4" fill="url(#gRod)"/><rect x="486.5" y="1082.5" width="20.5" height="35.5" fill="#dddbde" fill-opacity="0.42"/><rect x="365.8" y="1089.2" width="20" height="26.9" fill="#55534f" fill-opacity="0.18"/><path d="M514.2,1081.5 L652.5,1081.5 L654.5,1120 Q583.4,1117 512.2,1120 Z" fill="#c7c5c8" fill-opacity="0.9" stroke="#b1afb3" stroke-width="0.7"/><rect x="516.7" y="1088.4" width="133.3" height="25.4" rx="10.4" fill="url(#gRod)"/><rect x="633.2" y="1082.5" width="20.3" height="35.5" fill="#dddbde" fill-opacity="0.42"/><rect x="513.2" y="1089.2" width="19.9" height="26.9" fill="#55534f" fill-opacity="0.18"/><path d="M660,1081.5 L814.7,1081.5 L816.7,1120 Q737.4,1117 658,1120 Z" fill="#c7c5c8" fill-opacity="0.9" stroke="#b1afb3" stroke-width="0.7"/><rect x="662.5" y="1088.4" width="149.7" height="25.4" rx="10.4" fill="url(#gRod)"/><rect x="792.9" y="1082.5" width="22.8" height="35.5" fill="#dddbde" fill-opacity="0.42"/><rect x="659" y="1089.2" width="22.2" height="26.9" fill="#55534f" fill-opacity="0.18"/><clipPath id="cpT1042"><rect x="85" y="1042" width="235" height="26"/></clipPath><g clip-path="url(#cpT1042)"><ellipse cx="202.5" cy="1040" rx="117.5" ry="18.2" fill="#f2664a" opacity="0.38" filter="url(#b6)"/></g><g transform="translate(1.5,3.2)" opacity="0.8"><path d="M232.6,707.8 C234.9,704.9 240.9,695.1 246.6,690.5 C252.2,685.9 259.9,682.4 266.5,679.9 C273.1,677.4 279.8,676.5 286.4,675.6 C293,674.8 300.3,674.8 306.4,674.8 C312.5,674.8 320.2,675.7 323,675.9 L323.4,664.6 L351.6,685.8 L321.7,702.5 L321,692.5  C318.6,692.2 312.2,690.9 306.4,690.5 C300.6,690.1 293,689.8 286.4,690.2 C279.8,690.7 273.1,691.6 266.5,693.2 C259.9,694.8 252.2,697.3 246.6,699.8 C240.9,702.3 234.9,706.9 232.6,708.3Z" fill="#b4b4b4" stroke="#b4b4b4" stroke-width="0.5" stroke-linejoin="miter"/></g><path d="M232.6,707.8 C234.9,704.9 240.9,695.1 246.6,690.5 C252.2,685.9 259.9,682.4 266.5,679.9 C273.1,677.4 279.8,676.5 286.4,675.6 C293,674.8 300.3,674.8 306.4,674.8 C312.5,674.8 320.2,675.7 323,675.9 L323.4,664.6 L351.6,685.8 L321.7,702.5 L321,692.5  C318.6,692.2 312.2,690.9 306.4,690.5 C300.6,690.1 293,689.8 286.4,690.2 C279.8,690.7 273.1,691.6 266.5,693.2 C259.9,694.8 252.2,697.3 246.6,699.8 C240.9,702.3 234.9,706.9 232.6,708.3Z" fill="#b99997" stroke="#b99997" stroke-width="0.5" stroke-linejoin="miter"/><g transform="translate(1.5,3.2)" opacity="0.8"><path d="M557.3,709.1 C559.9,706.2 567.2,696.4 573.2,691.8 C579.2,687.1 586.6,683.7 593.2,681.2 C599.9,678.7 606.5,677.8 613.1,676.9 C619.7,676 628,676 633,676.1 C638,676.2 641.3,677 643,677.2 L643.7,666.6 L671.6,687.2 L641.7,703.8 L641,693.2  C638.6,692.9 632.2,691.4 626.4,691.2 C620.6,691 613,691 606.4,691.8 C599.8,692.6 592.5,694 586.5,695.8 C580.5,697.6 575.5,700.2 570.6,702.5 C565.7,704.8 559.5,708.4 557.3,709.6Z" fill="#b4b4b4" stroke="#b4b4b4" stroke-width="0.5" stroke-linejoin="miter"/></g><path d="M557.3,709.1 C559.9,706.2 567.2,696.4 573.2,691.8 C579.2,687.1 586.6,683.7 593.2,681.2 C599.9,678.7 606.5,677.8 613.1,676.9 C619.7,676 628,676 633,676.1 C638,676.2 641.3,677 643,677.2 L643.7,666.6 L671.6,687.2 L641.7,703.8 L641,693.2  C638.6,692.9 632.2,691.4 626.4,691.2 C620.6,691 613,691 606.4,691.8 C599.8,692.6 592.5,694 586.5,695.8 C580.5,697.6 575.5,700.2 570.6,702.5 C565.7,704.8 559.5,708.4 557.3,709.6Z" fill="#b99997" stroke="#b99997" stroke-width="0.5" stroke-linejoin="miter"/><g transform="translate(-0.5,-3.6)" opacity="0.8"><path d="M242,939.9 C243.3,941 245.3,944.4 250,946.5 C254.7,948.6 263.3,951.4 269.9,952.5 C276.5,953.6 283.2,953.4 289.8,953.2 C296.4,953 303.4,952.3 309.7,951.2 C316,950.1 324.7,947.3 327.7,946.5 L325.7,937.9 L354.3,944.5 L331.7,965.8 L329.7,958.5  C326.4,959 316.3,961 309.7,961.8 C303.1,962.6 296.4,963.2 289.8,963.1 C283.2,963 276.5,962.8 269.9,961.1 C263.3,959.5 254.7,956.7 250,953.2 C245.3,949.8 243.3,942.5 242,940.4Z" fill="#b4b4b4" stroke="#b4b4b4" stroke-width="0.5" stroke-linejoin="miter"/></g><path d="M242,939.9 C243.3,941 245.3,944.4 250,946.5 C254.7,948.6 263.3,951.4 269.9,952.5 C276.5,953.6 283.2,953.4 289.8,953.2 C296.4,953 303.4,952.3 309.7,951.2 C316,950.1 324.7,947.3 327.7,946.5 L325.7,937.9 L354.3,944.5 L331.7,965.8 L329.7,958.5  C326.4,959 316.3,961 309.7,961.8 C303.1,962.6 296.4,963.2 289.8,963.1 C283.2,963 276.5,962.8 269.9,961.1 C263.3,959.5 254.7,956.7 250,953.2 C245.3,949.8 243.3,942.5 242,940.4Z" fill="#b99997" stroke="#b99997" stroke-width="0.5" stroke-linejoin="miter"/><g transform="translate(-0.5,-3.6)" opacity="0.8"><path d="M559.6,943.9 C560.9,945.1 563.4,949.1 567.6,951.2 C571.8,953.3 578.7,955.5 584.9,956.5 C591.1,957.5 598.2,957.6 604.8,957.1 C611.4,956.6 618,955.2 624.7,953.8 C631.5,952.4 641.9,949.4 645.3,948.5 L643.3,939.9 L673.2,944.5 L650.6,969.1 L648.7,961.8  C644.7,962.6 632,965.4 624.7,966.4 C617.4,967.4 611.4,968 604.8,967.8 C598.2,967.6 591.1,966.9 584.9,965.1 C578.7,963.3 571.8,960.6 567.6,957.1 C563.4,953.6 560.9,946.5 559.6,944.4Z" fill="#b4b4b4" stroke="#b4b4b4" stroke-width="0.5" stroke-linejoin="miter"/></g><path d="M559.6,943.9 C560.9,945.1 563.4,949.1 567.6,951.2 C571.8,953.3 578.7,955.5 584.9,956.5 C591.1,957.5 598.2,957.6 604.8,957.1 C611.4,956.6 618,955.2 624.7,953.8 C631.5,952.4 641.9,949.4 645.3,948.5 L643.3,939.9 L673.2,944.5 L650.6,969.1 L648.7,961.8  C644.7,962.6 632,965.4 624.7,966.4 C617.4,967.4 611.4,968 604.8,967.8 C598.2,967.6 591.1,966.9 584.9,965.1 C578.7,963.3 571.8,960.6 567.6,957.1 C563.4,953.6 560.9,946.5 559.6,944.4Z" fill="#b99997" stroke="#b99997" stroke-width="0.5" stroke-linejoin="miter"/><path d="M751,592 L770,592 L785,650 L743,650 Z" fill="url(#gBeamS)" filter="url(#b2)"/><g transform="rotate(0 760.9 579)"><path d="M747,568.8 L747,589.1 A13.9,3.5 0 0 0 774.8,589.1 L774.8,568.8 Z" fill="url(#gCylSide)"/><ellipse cx="760.9" cy="568.8" rx="13.9" ry="3.5" fill="#f4a35f"/></g><use href="#st" transform="translate(740.9,639.7) rotate(8) scale(1.260)"/><use href="#st" transform="translate(773.9,649.3) rotate(0) scale(1.260)"/><use href="#st" transform="translate(805.2,644.9) rotate(15) scale(1.260)"/><use href="#st" transform="translate(713,658) rotate(-10) scale(1.260)"/><use href="#st" transform="translate(733,673.6) rotate(0) scale(1.260)"/><use href="#st" transform="translate(760.3,677.1) rotate(0) scale(1.260)"/><use href="#st" transform="translate(789.9,674.5) rotate(-10) scale(1.260)"/><use href="#st" transform="translate(713.4,694.5) rotate(-5) scale(1.260)"/><use href="#st" transform="translate(740.9,704.9) rotate(0) scale(1.260)"/><use href="#st" transform="translate(778.3,705.4) rotate(20) scale(1.260)"/><use href="#st" transform="translate(804.3,698) rotate(5) scale(1.260)"/><use href="#st" transform="translate(721.4,732.7) rotate(0) scale(1.260)"/><use href="#st" transform="translate(760.5,732.7) rotate(0) scale(1.260)"/><use href="#st" transform="translate(800,732.7) rotate(0) scale(1.260)"/><use href="#st" transform="translate(755,856.2) rotate(-3.1) scale(1.240)"/><use href="#st" transform="translate(732.1,868) rotate(0.5) scale(1.240)"/><use href="#st" transform="translate(777.8,868) rotate(-1.6) scale(1.240)"/><use href="#st" transform="translate(800.6,875.1) rotate(1.2) scale(1.240)"/><use href="#st" transform="translate(708.5,879) rotate(1.5) scale(1.240)"/><use href="#st" transform="translate(753.4,880.6) rotate(-5.2) scale(1.240)"/><use href="#st" transform="translate(732.1,891.6) rotate(-5.8) scale(1.240)"/><use href="#st" transform="translate(787.2,892.4) rotate(4) scale(1.240)"/><use href="#st" transform="translate(811.6,898.7) rotate(-2.9) scale(1.240)"/><use href="#st" transform="translate(696.7,901) rotate(-3.2) scale(1.240)"/><use href="#st" transform="translate(717.2,909.7) rotate(5.9) scale(1.240)"/><use href="#st" transform="translate(747.1,905.7) rotate(-0.4) scale(1.240)"/><use href="#st" transform="translate(767.5,902.6) rotate(4) scale(1.240)"/><use href="#st" transform="translate(799,916.7) rotate(-0.3) scale(1.240)"/><use href="#st" transform="translate(821.8,919.1) rotate(1.7) scale(1.240)"/><use href="#st" transform="translate(696.7,930.1) rotate(-4.2) scale(1.240)"/><use href="#st" transform="translate(715.6,933.3) rotate(1.6) scale(1.240)"/><use href="#st" transform="translate(733.7,925.4) rotate(4.4) scale(1.240)"/><use href="#st" transform="translate(758.1,930.9) rotate(0.3) scale(1.240)"/><use href="#st" transform="translate(777.8,923) rotate(2.9) scale(1.240)"/><use href="#st" transform="translate(789.6,941.1) rotate(2.1) scale(1.240)"/><use href="#st" transform="translate(812.4,944.3) rotate(-5.2) scale(1.240)"/><use href="#st" transform="translate(696.7,956.1) rotate(3.1) scale(1.240)"/><use href="#st" transform="translate(719.6,957.7) rotate(1.1) scale(1.240)"/><use href="#st" transform="translate(743.2,949) rotate(-2.4) scale(1.240)"/><use href="#st" transform="translate(767.5,948.2) rotate(-5.6) scale(1.240)"/><use href="#st" transform="translate(789.6,966.3) rotate(4.4) scale(1.240)"/><use href="#st" transform="translate(813.2,968.7) rotate(-0.3) scale(1.240)"/><use href="#st" transform="translate(743.9,971) rotate(2.6) scale(1.240)"/><use href="#st" transform="translate(766.8,971.8) rotate(4.5) scale(1.240)"/><use href="#st" transform="translate(715.6,982.8) rotate(2.6) scale(1.240)"/><use href="#st" transform="translate(792.7,990.7) rotate(5.1) scale(1.240)"/><use href="#st" transform="translate(740.8,996.2) rotate(-1.3) scale(1.240)"/><use href="#st" transform="translate(769.9,996.2) rotate(3.6) scale(1.240)"/><text x="224.4" y="828" font-size="36" font-weight="normal" font-style="normal" fill="#000" text-anchor="start" textLength="131.6" lengthAdjust="spacingAndGlyphs" >Apoptpsis</text><polyline points="224,833.1 226.2,835.9 228.4,833.1 230.6,835.9 232.8,833.1 235,835.9 237.2,833.1 239.4,835.9 241.6,833.1 243.8,835.9 246,833.1 248.2,835.9 250.4,833.1 252.6,835.9 254.8,833.1 257,835.9 259.2,833.1 261.4,835.9 263.6,833.1 265.8,835.9 268,833.1 270.2,835.9 272.4,833.1 274.6,835.9 276.8,833.1 279,835.9 281.2,833.1 283.4,835.9 285.6,833.1 287.8,835.9 290,833.1 292.2,835.9 294.4,833.1 296.6,835.9 298.8,833.1 301,835.9 303.2,833.1 305.4,835.9 307.6,833.1 309.8,835.9 312,833.1 314.2,835.9 316.4,833.1 318.6,835.9 320.8,833.1 323,835.9 325.2,833.1 327.4,835.9 329.6,833.1 331.8,835.9 334,833.1 336.2,835.9 338.4,833.1 340.6,835.9 342.8,833.1 345,835.9 347.2,833.1 349.4,835.9 351.6,833.1 353.8,835.9 356,833.1" fill="none" stroke="#e8413c" stroke-width="0.9"/><text x="546.8" y="830.8" font-size="36" font-weight="normal" font-style="normal" fill="#000" text-anchor="start" textLength="101" lengthAdjust="spacingAndGlyphs" >Release</text><text x="687" y="785" font-size="33" font-weight="normal" font-style="normal" fill="#000" text-anchor="start" textLength="156" lengthAdjust="spacingAndGlyphs" >Cytochrome<tspan font-size="16" fill="#678" dy="-6">·</tspan><tspan dy="6">c</tspan></text><polyline points="687,790.1 689.2,792.9 691.4,790.1 693.6,792.9 695.8,790.1 698,792.9 700.2,790.1 702.4,792.9 704.6,790.1 706.8,792.9 709,790.1 711.2,792.9 713.4,790.1 715.6,792.9 717.8,790.1 720,792.9 722.2,790.1 724.4,792.9 726.6,790.1 728.8,792.9 731,790.1 733.2,792.9 735.4,790.1 737.6,792.9 739.8,790.1 742,792.9 744.2,790.1 746.4,792.9 748.6,790.1 750.8,792.9 753,790.1 755.2,792.9 757.4,790.1 759.6,792.9 761.8,790.1 764,792.9 766.2,790.1 768.4,792.9 770.6,790.1 772.8,792.9 775,790.1 777.2,792.9 779.4,790.1 781.6,792.9 783.8,790.1 786,792.9 788.2,790.1 790.4,792.9 792.6,790.1 794.8,792.9 797,790.1 799.2,792.9 801.4,790.1 803.6,792.9 805.8,790.1 808,792.9 810.2,790.1 812.4,792.9 814.6,790.1 816.8,792.9 819,790.1 821.2,792.9" fill="none" stroke="#e8413c" stroke-width="0.9"/><ellipse cx="88.8" cy="1162.3" rx="27.2" ry="28.6" fill="url(#gCellN)"/><circle cx="88.8" cy="1162.3" r="16.7" fill="url(#gNuc1)"/><text x="135.9" y="1173.8" font-size="19.5" font-weight="normal" font-style="normal" fill="#000" text-anchor="start" textLength="142.3" lengthAdjust="spacingAndGlyphs" >Normal<tspan fill="#556" font-size="12">·</tspan>living<tspan fill="#556" font-size="12">·</tspan>cells</text><path d="M359.3,1165.8 C359.3,1168.6 358.9,1171.5 358,1174.2 C357.2,1176.8 355.9,1179.5 354.3,1181.8 C352.6,1184 350.5,1186.3 348.1,1187.7 C345.8,1189 342.8,1189.5 340.1,1189.9 C337.4,1190.2 334.6,1190.3 331.9,1189.8 C329.3,1189.4 326.6,1188.4 324.2,1187.1 C321.8,1185.8 319,1184.3 317.3,1182.1 C315.6,1180 314.9,1176.9 313.9,1174.2 C313,1171.4 311.8,1168.6 311.7,1165.8 C311.5,1163 312.2,1159.8 313.2,1157.2 C314.3,1154.5 316.2,1152.3 318,1150.1 C319.8,1147.9 321.7,1145.6 324,1144.1 C326.3,1142.6 329.2,1141.7 331.8,1141.3 C334.5,1140.8 337.4,1140.9 340.1,1141.3 C342.9,1141.7 346.1,1142 348.4,1143.5 C350.7,1145 352.3,1147.8 353.9,1150.1 C355.5,1152.5 357,1154.9 357.9,1157.5 C358.8,1160.1 359.3,1163 359.3,1165.8Z" fill="url(#gCellT)" stroke="#ddd0d4" stroke-width="1"/><circle cx="336.5" cy="1166.5" r="11" fill="url(#gNuc3)"/><text x="374.8" y="1173.8" font-size="19.5" font-weight="normal" font-style="normal" fill="#000" text-anchor="start" textLength="121" lengthAdjust="spacingAndGlyphs" >Live<tspan fill="#556" font-size="12">·</tspan>tumor<tspan fill="#556" font-size="12">·</tspan>cells</text><g transform="translate(550,1170) rotate(6)"><path d="M-9.1,-13.8 Q0,-17.6 9.1,-13.8 L9.6,-2.6 L-9.6,-2.6 Z" fill="url(#gBlk)"/><rect x="-10.3" y="-3.8" width="20.6" height="5.1" rx="1.3" fill="#b8404e"/><rect x="-10.1" y="-3" width="20.2" height="1.1" fill="#d86873" opacity="0.8"/><path d="M-11,1 L11,1 L12,14.1 Q0,18.2 -12,14.1 Z" fill="url(#gBlk)"/><ellipse cx="0" cy="14.6" rx="8.6" ry="1.1" fill="#2a1416" opacity="0.9"/></g><text x="577.8" y="1177" font-size="19.5" font-weight="normal" font-style="normal" fill="#000" text-anchor="start" textLength="90.7" lengthAdjust="spacingAndGlyphs" >808nm<tspan fill="#556" font-size="12">·</tspan>laser</text><g transform="rotate(0 719.9 1170.7)"><path d="M706.8,1161.9 L706.8,1179.4 A13.1,3.1 0 0 0 733,1179.4 L733,1161.9 Z" fill="url(#gCylSide)"/><ellipse cx="719.9" cy="1161.9" rx="13.1" ry="3.1" fill="#f4a35f"/></g><text x="745.2" y="1180.8" font-size="19.5" font-weight="normal" font-style="normal" fill="#000" text-anchor="start" textLength="88.9" lengthAdjust="spacingAndGlyphs" >785nm<tspan fill="#556" font-size="12">·</tspan>laser</text>
<path d="M915,598.4 C919.6,594.1 926.3,593.6 932.6,592.9 C939,592.1 945.9,592.8 953.2,593.9 C960.6,595 969.4,597.7 976.7,599.6 C984.1,601.4 990,603.5 997.3,605 C1004.7,606.5 1013.5,608 1020.8,608.6 C1028.2,609.2 1034.1,609.4 1041.4,608.8 C1048.8,608.2 1057.6,606.1 1064.9,605 C1072.3,603.9 1078.2,602.3 1085.5,602.3 C1092.9,602.3 1101.7,603.6 1109,605 C1116.4,606.3 1124.2,609.8 1129.6,610.4 C1135,611.1 1138.2,609.4 1141.4,608.7 C1144.6,607.9 1148,604.3 1148.7,606 C1149.5,607.7 1147,614.3 1145.8,618.8 C1144.6,623.2 1143.6,627 1141.4,632.8 C1139.2,638.6 1135.5,646.6 1132.6,653.5 C1129.6,660.4 1126.4,668.5 1123.7,674.2 C1121.1,679.9 1118.8,683.3 1116.4,687.8 C1113.9,692.3 1112.2,698.2 1109,701.4 C1105.9,704.6 1101.2,706.1 1097.3,707 C1093.4,707.8 1090.9,708 1085.5,706.6 C1080.1,705.3 1072.3,701.7 1064.9,699.1 C1057.6,696.5 1047.8,692.7 1041.4,691.1 C1035,689.5 1031.6,689.7 1026.7,689.5 C1021.8,689.2 1016.9,689 1012,689.6 C1007.1,690.2 1002.2,692.3 997.3,693.2 C992.4,694.2 987.5,694.9 982.6,695.4 C977.7,695.9 972.8,696.4 967.9,696.1 C963,695.9 959.6,695.6 953.2,693.9 C946.8,692.2 937,688.5 929.7,685.9 C922.3,683.3 915,679.9 909.1,678.4 C903.2,676.9 899.3,677 894.4,677 C889.5,677 880.9,681.4 879.7,678.4 C878.5,675.3 884.6,665.4 887.1,658.9 C889.5,652.4 891.5,646.1 894.4,639.4 C897.3,632.7 901.3,625.7 904.7,618.9 C908.1,612.1 910.3,602.8 915,598.4Z" fill="#f7dfe2"/><path d="M910,587.7 C914.6,583 921.3,582 927.6,580.8 C934,579.5 940.9,579.7 948.2,580.2 C955.6,580.8 964.4,582.8 971.7,584 C979.1,585.3 985,587 992.3,587.9 C999.7,588.9 1008.5,589.6 1015.8,589.7 C1023.2,589.7 1029.1,589.4 1036.4,588.2 C1043.8,587.1 1052.6,584.3 1059.9,582.6 C1067.3,581 1073.2,578.9 1080.5,578.3 C1087.9,577.7 1096.7,578.3 1104,579.1 C1111.4,579.9 1119.2,582.8 1124.6,583 C1130,583.2 1133.2,581.3 1136.4,580.4 C1139.6,579.4 1143,575.5 1143.7,577.1 C1144.5,578.7 1142,585.5 1140.8,590.1 C1139.6,594.7 1138.6,598.5 1136.4,604.5 C1134.2,610.4 1130.5,618.7 1127.6,625.9 C1124.6,633 1121.4,641.3 1118.7,647.3 C1116.1,653.2 1113.8,656.7 1111.4,661.4 C1108.9,666.1 1107.2,672.1 1104,675.6 C1100.9,679 1096.2,680.9 1092.3,682.1 C1088.4,683.2 1085.9,683.5 1080.5,682.7 C1075.1,681.8 1067.3,678.7 1059.9,676.7 C1052.6,674.7 1042.8,671.7 1036.4,670.6 C1030,669.5 1026.6,669.9 1021.7,670.1 C1016.8,670.2 1011.9,670.3 1007,671.3 C1002.1,672.3 997.2,674.8 992.3,676.1 C987.4,677.5 982.5,678.6 977.6,679.4 C972.7,680.3 967.8,681.2 962.9,681.3 C958,681.4 954.6,681.4 948.2,680.2 C941.8,679 932,676.1 924.7,674.1 C917.3,672 910,669.1 904.1,668.1 C898.2,667.1 894.3,667.5 889.4,667.9 C884.5,668.3 875.9,673.3 874.7,670.4 C873.5,667.4 879.6,657 882.1,650.3 C884.5,643.6 886.5,637.2 889.4,630.3 C892.3,623.4 896.3,616.1 899.7,609 C903.1,601.9 905.3,592.4 910,587.7Z" fill="#aaa5a6"/><path d="M907,586.3 C911.6,581.6 918.3,580.5 924.6,579.2 C931,577.9 937.9,578 945.2,578.4 C952.6,578.9 961.4,580.8 968.7,582 C976.1,583.2 982,584.8 989.3,585.6 C996.7,586.5 1005.5,587.1 1012.8,587.1 C1020.2,587.1 1026.1,586.7 1033.4,585.4 C1040.8,584.2 1049.6,581.3 1056.9,579.6 C1064.3,577.8 1070.2,575.7 1077.5,575 C1084.9,574.3 1093.7,574.9 1101,575.6 C1108.4,576.3 1116.2,579.1 1121.6,579.2 C1127,579.4 1130.2,577.5 1133.4,576.5 C1136.6,575.4 1140,571.5 1140.7,573.1 C1141.5,574.7 1139,581.6 1137.8,586.1 C1136.6,590.7 1135.6,594.6 1133.4,600.6 C1131.2,606.5 1127.5,614.9 1124.6,622.1 C1121.6,629.2 1118.4,637.6 1115.7,643.6 C1113.1,649.5 1110.8,653 1108.4,657.8 C1105.9,662.5 1104.2,668.6 1101,672 C1097.9,675.5 1093.2,677.4 1089.3,678.6 C1085.4,679.9 1082.9,680.2 1077.5,679.4 C1072.1,678.5 1064.3,675.6 1056.9,673.7 C1049.6,671.7 1039.8,668.8 1033.4,667.8 C1027,666.7 1023.6,667.3 1018.7,667.4 C1013.8,667.6 1008.9,667.8 1004,668.9 C999.1,669.9 994.2,672.4 989.3,673.8 C984.4,675.2 979.5,676.4 974.6,677.3 C969.7,678.2 964.8,679.1 959.9,679.3 C955,679.5 951.6,679.5 945.2,678.4 C938.8,677.3 929,674.4 921.7,672.5 C914.3,670.6 907,667.8 901.1,666.8 C895.2,665.8 891.3,666.3 886.4,666.8 C881.5,667.2 872.9,672.3 871.7,669.4 C870.5,666.5 876.6,655.9 879.1,649.2 C881.5,642.5 883.5,636 886.4,629.1 C889.3,622.2 893.3,614.8 896.7,607.7 C900.1,600.6 902.3,591.1 907,586.3Z" fill="#bcb6b6" opacity="0.8"/><path d="M900,584.1 C904.6,579.1 911.3,577.6 917.6,575.9 C924,574.2 930.9,573.8 938.2,573.8 C945.6,573.8 954.4,575.1 961.7,575.9 C969.1,576.6 975,577.8 982.3,578.2 C989.7,578.6 998.5,578.7 1005.8,578.2 C1013.2,577.7 1019.1,577 1026.4,575.3 C1033.8,573.6 1042.6,570.1 1049.9,567.9 C1057.3,565.7 1063.2,563.2 1070.5,562.1 C1077.9,560.9 1086.7,560.9 1094,561.2 C1101.4,561.4 1109.2,563.7 1114.6,563.5 C1120,563.3 1123.2,561.2 1126.4,560 C1129.6,558.8 1133,554.6 1133.7,556.2 C1134.5,557.7 1132,564.7 1130.8,569.4 C1129.6,574.1 1128.6,578 1126.4,584.1 C1124.2,590.2 1120.5,598.8 1117.6,606.2 C1114.6,613.5 1111.4,622.1 1108.7,628.2 C1106.1,634.3 1103.8,638 1101.4,642.9 C1098.9,647.8 1097.2,653.9 1094,657.6 C1090.9,661.3 1086.2,663.5 1082.3,665 C1078.4,666.4 1075.9,666.9 1070.5,666.4 C1065.1,665.9 1057.3,663.5 1049.9,662 C1042.6,660.6 1032.8,658.2 1026.4,657.6 C1020,657 1016.6,657.7 1011.7,658.2 C1006.8,658.7 1001.9,659.2 997,660.6 C992.1,661.9 987.2,664.7 982.3,666.4 C977.4,668.1 972.5,669.6 967.6,670.8 C962.7,672.1 957.8,673.3 952.9,673.8 C948,674.3 944.6,674.5 938.2,673.8 C931.8,673 922,670.8 914.7,669.4 C907.3,667.9 900,665.6 894.1,665 C888.2,664.4 884.3,665.1 879.4,665.8 C874.5,666.6 865.9,672.2 864.7,669.4 C863.5,666.5 869.6,655.7 872.1,648.8 C874.5,641.9 876.5,635.3 879.4,628.2 C882.3,621.1 886.3,613.5 889.7,606.2 C893.1,598.8 895.3,589.2 900,584.1Z" fill="#f9e88e"/><path d="M906.9,589.7 C911.3,585.3 917.6,584.1 923.6,582.6 C929.6,581.1 936.1,580.8 943,580.8 C950,580.8 958.3,581.9 965.3,582.6 C972.2,583.2 977.8,584.3 984.7,584.6 C991.7,585 1000,585 1006.9,584.6 C1013.9,584.2 1019.4,583.5 1026.4,582.1 C1033.3,580.6 1041.7,577.6 1048.6,575.7 C1055.6,573.7 1061.1,571.5 1068.1,570.5 C1075,569.6 1083.3,569.6 1090.3,569.8 C1097.2,570 1104.6,572 1109.7,571.8 C1114.8,571.7 1117.8,569.8 1120.9,568.8 C1123.9,567.7 1127.1,564.1 1127.8,565.4 C1128.5,566.8 1126.2,572.9 1125,576.9 C1123.9,581 1122.9,584.4 1120.9,589.7 C1118.8,595.1 1115.3,602.5 1112.5,608.9 C1109.7,615.3 1106.7,622.8 1104.2,628.1 C1101.6,633.4 1099.6,636.6 1097.2,640.9 C1094.9,645.2 1093.3,650.5 1090.3,653.7 C1087.3,656.9 1082.9,658.8 1079.2,660.1 C1075.5,661.4 1073.2,661.8 1068.1,661.4 C1063,660.9 1055.6,658.8 1048.6,657.5 C1041.7,656.2 1032.4,654.2 1026.4,653.7 C1020.4,653.1 1017.1,653.8 1012.5,654.2 C1007.9,654.6 1003.2,655 998.6,656.2 C994,657.4 989.3,659.9 984.7,661.4 C980.1,662.8 975.4,664.1 970.8,665.2 C966.2,666.3 961.5,667.3 956.9,667.7 C952.3,668.2 949,668.4 943,667.7 C937,667.1 927.7,665.2 920.8,663.9 C913.9,662.6 906.9,660.6 901.3,660.1 C895.8,659.6 892.1,660.2 887.5,660.8 C882.8,661.5 874.7,666.4 873.6,663.9 C872.4,661.4 878.2,652 880.5,646 C882.8,640 884.7,634.3 887.5,628.1 C890.2,621.9 893.9,615.3 897.2,608.9 C900.4,602.5 902.5,594.1 906.9,589.7Z" fill="#efdd7c"/><line x1="1071" y1="650" x2="1084" y2="698" stroke="#0a0a0a" stroke-width="8.5" stroke-linecap="butt"/><line x1="1070" y1="647" x2="1072.5" y2="656" stroke="#c9c9c9" stroke-width="8.5"/><circle cx="1063.2" cy="620.9" r="25.5" fill="#a9a9ab"/><clipPath id="cpLens"><circle cx="1063.2" cy="620.9" r="24"/></clipPath><g clip-path="url(#cpLens)"><path d="M1052,599.5 L1040.5,618.7 L1052,622.9 Z" fill="#dcc944"/><path d="M1052,599.5 L1063.5,618.7 L1052,622.9 Z" fill="#a9962b"/><path d="M1075.5,599.5 L1064,618.7 L1075.5,622.9 Z" fill="#dcc944"/><path d="M1075.5,599.5 L1087,618.7 L1075.5,622.9 Z" fill="#a9962b"/><path d="M1052,622.5 L1040.5,641.7 L1052,645.9 Z" fill="#dcc944"/><path d="M1052,622.5 L1063.5,641.7 L1052,645.9 Z" fill="#a9962b"/><path d="M1075.5,622.5 L1064,641.7 L1075.5,645.9 Z" fill="#dcc944"/><path d="M1075.5,622.5 L1087,641.7 L1075.5,645.9 Z" fill="#a9962b"/><path d="M1063.5,618 L1068.5,623 L1063.5,628 L1058.5,623 Z" fill="#e9e9ec"/><path d="M1040,618 L1045,623 L1040,628 L1035,623 Z" fill="#e9e9ec"/><path d="M1087,618 L1092,623 L1087,628 L1082,623 Z" fill="#e9e9ec"/><path d="M1063.5,595 L1068.5,600 L1063.5,605 L1058.5,600 Z" fill="#e9e9ec"/><path d="M1063.5,641 L1068.5,646 L1063.5,651 L1058.5,646 Z" fill="#e9e9ec"/></g><circle cx="1063.2" cy="620.9" r="25" fill="none" stroke="#d9d9dc" stroke-width="2.2"/><circle cx="1063.2" cy="620.9" r="26.8" fill="none" stroke="#101010" stroke-width="2"/><rect x="879.5" y="715" width="35" height="39.5" fill="#fff"/><rect x="881.2" y="716.6" width="31.8" height="36.4" fill="#f8c9aa"/><rect x="985" y="712.5" width="38.6" height="41.5" fill="#fff"/><rect x="986.8" y="714.3" width="35" height="37.8" fill="#fee698"/><rect x="1095.5" y="715" width="36.8" height="38" fill="#969091"/><text x="878.5" y="790" font-size="17.5" font-weight="normal" font-style="normal" fill="#000" text-anchor="start" textLength="44.4" lengthAdjust="spacingAndGlyphs" >PDMS</text><text x="945.6" y="788.5" font-size="17.5" font-weight="normal" font-style="normal" fill="#000" text-anchor="start" textLength="82.4" lengthAdjust="spacingAndGlyphs" >2D@AuNO</text><polyline points="982,791.4 984,793.6 986,791.4 988,793.6 990,791.4 992,793.6 994,791.4 996,793.6 998,791.4 1000,793.6 1002,791.4 1004,793.6 1006,791.4 1008,793.6 1010,791.4 1012,793.6 1014,791.4 1016,793.6 1018,791.4 1020,793.6 1022,791.4 1024,793.6 1026,791.4 1028,793.6 1030,791.4" fill="none" stroke="#e8413c" stroke-width="0.9"/><text x="1052.4" y="787" font-size="17.5" font-weight="normal" font-style="normal" fill="#000" text-anchor="start" textLength="104.1" lengthAdjust="spacingAndGlyphs" >2D@AuNR@Pd</text><polyline points="1084,789.9 1086,792.1 1088,789.9 1090,792.1 1092,789.9 1094,792.1 1096,789.9 1098,792.1 1100,789.9 1102,792.1 1104,789.9 1106,792.1 1108,789.9 1110,792.1 1112,789.9 1114,792.1 1116,789.9 1118,792.1 1120,789.9 1122,792.1" fill="none" stroke="#e8413c" stroke-width="0.9"/><path d="M881.4,1025.7 L1158.6,1025.7 L1150,1160 L882.9,1160 Z" fill="url(#gGlass)" opacity="0.9"/><path d="M911.4,1111.4 L1125.7,1111.4 L1150,1160 L882.9,1160 Z" fill="#c1ba78"/><path d="M885.7,1150 L1147.1,1150 L1150,1160 L882.9,1160 Z" fill="#d2c981" opacity="0.85"/><rect x="882.9" y="1160" width="267.1" height="14.9" fill="#996a7c"/><path d="M888.6,1147.1 C895.7,1146.9 918.1,1146.9 931.4,1145.7 C944.8,1144.5 957.6,1141.9 968.6,1140 C979.5,1138.1 986.7,1133.8 997.1,1134.3 C1007.6,1134.8 1020,1142.1 1031.4,1142.9 C1042.9,1143.6 1053.8,1139.5 1065.7,1138.6 C1077.6,1137.6 1090.2,1138.1 1102.9,1137.1 C1115.5,1136.2 1135,1133.6 1141.4,1132.9" fill="none" stroke="#7f95c9" stroke-width="4.2" stroke-linecap="round"/><path d="M912.9,1114.3 C915.5,1116.7 921.7,1125.7 928.6,1128.6 C935.5,1131.4 947.6,1130.7 954.3,1131.4 C961,1132.1 966.2,1132.6 968.6,1132.9" fill="none" stroke="#7f95c9" stroke-width="3.6" stroke-linecap="round"/><path d="M952.9,1111.4 C954,1113.6 957.4,1120.7 960,1124.3 C962.6,1127.9 967.1,1131.4 968.6,1132.9" fill="none" stroke="#7f95c9" stroke-width="3.4" stroke-linecap="round"/><path d="M1042.9,1097.1 C1045.7,1099 1056.2,1103.8 1060,1108.6 C1063.8,1113.3 1064.8,1120.7 1065.7,1125.7 C1066.7,1130.7 1065.7,1136.4 1065.7,1138.6" fill="none" stroke="#7f95c9" stroke-width="3.6" stroke-linecap="round"/><path d="M1065.7,1114.3 C1069.5,1116 1081,1121.4 1088.6,1124.3 C1096.2,1127.1 1102.6,1130 1111.4,1131.4 C1120.2,1132.9 1136.4,1132.6 1141.4,1132.9" fill="none" stroke="#7f95c9" stroke-width="3.4" stroke-linecap="round"/><path d="M945.7,1074.3 C943.8,1077.6 937.6,1087.6 934.3,1094.3 C931,1101 929,1107.1 925.7,1114.3 C922.4,1121.4 916.2,1133.3 914.3,1137.1" fill="none" stroke="#8fa3c9" stroke-width="3.4" stroke-linecap="round"/><path d="M892.9,1140.6 C899.3,1140.2 920.2,1139.9 931.4,1138.6 C942.6,1137.3 951,1135.2 960,1132.9 C969,1130.5 977.6,1126.7 985.7,1124.3 C993.8,1121.9 1001.9,1120.2 1008.6,1118.6 C1015.2,1116.9 1022.9,1115 1025.7,1114.3" fill="none" stroke="#e85a5a" stroke-width="3.2" stroke-linecap="round"/><path d="M974.3,1127.1 C980,1126.7 997.1,1124 1008.6,1124.3 C1020,1124.5 1031.4,1128.6 1042.9,1128.6 C1054.3,1128.6 1071.4,1125 1077.1,1124.3" fill="none" stroke="#e85a5a" stroke-width="2.8" stroke-linecap="round"/><path d="M1060,1080 C1062.1,1082.9 1070,1091.4 1072.9,1097.1 C1075.7,1102.9 1076.4,1109.8 1077.1,1114.3 C1077.9,1118.8 1077.1,1122.6 1077.1,1124.3" fill="none" stroke="#e8685a" stroke-width="3" stroke-linecap="round"/><path d="M1031.4,1131.4 C1036.2,1133.3 1050.5,1140 1060,1142.9 C1069.5,1145.7 1079,1147.1 1088.6,1148.6 C1098.1,1150 1107.6,1151.7 1117.1,1151.4 C1126.7,1151.2 1141,1147.9 1145.7,1147.1" fill="none" stroke="#e85a5a" stroke-width="3" stroke-linecap="round"/><path d="M1042.9,1145.7 C1046.7,1146.7 1059.5,1149.8 1065.7,1151.4 C1071.9,1153.1 1077.6,1155 1080,1155.7" fill="none" stroke="#e85a5a" stroke-width="2.2" stroke-linecap="round"/><path d="M891.4,1045.7 C895.7,1047.6 909,1052.4 917.1,1057.1 C925.2,1061.9 935.2,1069.5 940,1074.3 C944.8,1079 944.8,1083.8 945.7,1085.7" fill="none" stroke="#7f95c9" stroke-width="1.2" stroke-linecap="round"/><path d="M900,1048.6 C904.8,1051 921,1058.6 928.6,1062.9 C936.2,1067.1 942.9,1072.4 945.7,1074.3" fill="none" stroke="#e8806a" stroke-width="1.2" stroke-linecap="round"/><path d="M1065.7,1074.3 C1070.5,1073.3 1086.7,1071.4 1094.3,1068.6 C1101.9,1065.7 1108.6,1059 1111.4,1057.1" fill="none" stroke="#e8806a" stroke-width="1.2" stroke-linecap="round"/><path d="M1071.4,1071.4 C1077.1,1071.9 1095.2,1076.7 1105.7,1074.3 C1116.2,1071.9 1129.5,1060 1134.3,1057.1" fill="none" stroke="#7f95c9" stroke-width="1.2" stroke-linecap="round"/><path d="M1060,1080 C1064.8,1080.5 1079,1083.8 1088.6,1082.9 C1098.1,1081.9 1109.5,1079 1117.1,1074.3 C1124.8,1069.5 1131.4,1057.6 1134.3,1054.3" fill="none" stroke="#8fa3d0" stroke-width="1.2" stroke-linecap="round"/><path d="M880.6,1024.3 C891.4,1019.8 911,1026.7 945.7,1027.1 C980.4,1027.6 1052.4,1027.6 1088.6,1027.1 C1124.8,1026.7 1150.4,1021.2 1162.9,1024.3 C1175.3,1027.4 1164.4,1038.6 1163.4,1045.7 C1162.5,1052.9 1161,1065.7 1157.1,1067.1 C1153.2,1068.6 1146.7,1056.9 1140,1054.3 C1133.3,1051.7 1125.7,1051.4 1117.1,1051.4 C1108.6,1051.4 1098.1,1055.2 1088.6,1054.3 C1079,1053.3 1079,1047.1 1060,1045.7 C1041,1044.3 991.9,1041.9 974.3,1045.7 C956.7,1049.5 961.4,1067.1 954.3,1068.6 C947.1,1070 940,1058.1 931.4,1054.3 C922.9,1050.5 911.3,1045.7 902.9,1045.7 C894.4,1045.7 884.3,1057.9 880.6,1054.3 C876.9,1050.7 869.7,1028.8 880.6,1024.3Z" fill="#d3aadb"/><path d="M880.6,1011.4 L908.6,1002.3 L1134.3,1000 L1162.9,1010 Z" fill="#c9a3a3"/><rect x="880.6" y="1010.9" width="282.3" height="15.7" fill="#cfa1a6"/><ellipse cx="950" cy="1035" rx="46" ry="28" fill="#f2634c" opacity="0.8" filter="url(#b6)"/><ellipse cx="1088" cy="1033" rx="50" ry="24" fill="#f2634c" opacity="0.75" filter="url(#b6)"/><ellipse cx="1015" cy="1024" rx="105" ry="16" fill="#f0604a" opacity="0.7" filter="url(#b6)"/><ellipse cx="1015" cy="1088" rx="105" ry="26" fill="#f5e68a" opacity="0.4" filter="url(#b10)"/><g stroke="#f7ea7a" stroke-width="2.2" opacity="0.4" filter="url(#b1)"><line x1="949.6" y1="1045" x2="967.1" y2="1099.5"/><line x1="1015.6" y1="1045" x2="1020.4" y2="1107.6"/><line x1="1084.6" y1="1045" x2="1064.6" y2="1093.7"/><line x1="964.6" y1="1045" x2="984.1" y2="1088.8"/><line x1="1037.9" y1="1045" x2="1037.5" y2="1107.8"/><line x1="963.8" y1="1045" x2="976.6" y2="1079.2"/><line x1="1124.5" y1="1045" x2="1083.5" y2="1096.2"/><line x1="1044.3" y1="1045" x2="1042.8" y2="1091.5"/><line x1="1019.5" y1="1045" x2="1025.1" y2="1113.1"/><line x1="992.4" y1="1045" x2="1006.4" y2="1107.1"/><line x1="941.2" y1="1045" x2="955.8" y2="1093.7"/><line x1="1030.9" y1="1045" x2="1028.6" y2="1096.9"/><line x1="954.3" y1="1045" x2="983.6" y2="1103.3"/><line x1="964.3" y1="1045" x2="972.9" y2="1086.4"/><line x1="1118.4" y1="1045" x2="1079.6" y2="1092.6"/><line x1="1075.2" y1="1045" x2="1054" y2="1101.7"/><line x1="940.7" y1="1045" x2="966.7" y2="1103.4"/><line x1="957.2" y1="1045" x2="970.5" y2="1109.7"/><line x1="1001" y1="1045" x2="1006.9" y2="1095.5"/><line x1="996" y1="1045" x2="994.4" y2="1093.5"/><line x1="920.6" y1="1045" x2="956.4" y2="1093.3"/><line x1="1123.5" y1="1045" x2="1094" y2="1088"/><line x1="1030.6" y1="1045" x2="1024" y2="1087.3"/><line x1="1042.9" y1="1045" x2="1033.2" y2="1101"/><line x1="952.9" y1="1045" x2="972.9" y2="1087.8"/><line x1="1109.7" y1="1045" x2="1083.7" y2="1094.5"/></g><path d="M966.3,1015.7 C971.1,1010.1 983.2,1012.7 991.4,1012 C999.7,1011.3 1007.1,1011.4 1015.7,1011.4 C1024.3,1011.4 1034.4,1011.3 1042.9,1012 C1051.3,1012.7 1061.4,1010.1 1066.3,1015.7 C1071.1,1021.3 1072.8,1036 1072,1045.7 C1071.2,1055.5 1066.8,1065.8 1061.4,1074.3 C1056.1,1082.8 1047.6,1091.6 1040,1096.6 C1032.4,1101.6 1023.6,1104.3 1015.7,1104.3 C1007.9,1104.3 1000.1,1101.6 992.9,1096.6 C985.6,1091.6 977.1,1082.8 972,1074.3 C966.9,1065.8 963.2,1055.5 962.3,1045.7 C961.3,1036 961.4,1021.3 966.3,1015.7Z" fill="#c39a62"/><path d="M966.3,1015.7 C971.1,1010.1 983.2,1012.7 991.4,1012 C999.7,1011.3 1007.1,1011.4 1015.7,1011.4 C1024.3,1011.4 1034.4,1011.3 1042.9,1012 C1051.3,1012.7 1061.4,1010.1 1066.3,1015.7 C1071.1,1021.3 1072.8,1036 1072,1045.7 C1071.2,1055.5 1066.8,1065.8 1061.4,1074.3 C1056.1,1082.8 1047.6,1091.6 1040,1096.6 C1032.4,1101.6 1023.6,1104.3 1015.7,1104.3 C1007.9,1104.3 1000.1,1101.6 992.9,1096.6 C985.6,1091.6 977.1,1082.8 972,1074.3 C966.9,1065.8 963.2,1055.5 962.3,1045.7 C961.3,1036 961.4,1021.3 966.3,1015.7Z" fill="url(#gTumor)" transform="translate(1015.7,1040) scale(0.95,0.965) translate(-1015.7,-1040)"/><clipPath id="cpTum"><path d="M966.3,1015.7 C971.1,1010.1 983.2,1012.7 991.4,1012 C999.7,1011.3 1007.1,1011.4 1015.7,1011.4 C1024.3,1011.4 1034.4,1011.3 1042.9,1012 C1051.3,1012.7 1061.4,1010.1 1066.3,1015.7 C1071.1,1021.3 1072.8,1036 1072,1045.7 C1071.2,1055.5 1066.8,1065.8 1061.4,1074.3 C1056.1,1082.8 1047.6,1091.6 1040,1096.6 C1032.4,1101.6 1023.6,1104.3 1015.7,1104.3 C1007.9,1104.3 1000.1,1101.6 992.9,1096.6 C985.6,1091.6 977.1,1082.8 972,1074.3 C966.9,1065.8 963.2,1055.5 962.3,1045.7 C961.3,1036 961.4,1021.3 966.3,1015.7Z"/></clipPath><g clip-path="url(#cpTum)"><g stroke="#e2a24a" stroke-width="0.9" opacity="0.55"><line x1="1004.9" y1="1012.8" x2="1038.9" y2="1082.5"/><line x1="1031.2" y1="1015" x2="996.9" y2="1078.3"/><line x1="1038" y1="1019.7" x2="990.9" y2="1089.9"/><line x1="1041.5" y1="1016.7" x2="992.8" y2="1059.1"/><line x1="1008.7" y1="1014" x2="1012" y2="1065.4"/><line x1="991.6" y1="1018.4" x2="1026.7" y2="1072.3"/><line x1="1034.6" y1="1012.4" x2="1010.3" y2="1063.6"/><line x1="1011.2" y1="1013.4" x2="1027.1" y2="1069.7"/><line x1="1038.1" y1="1019.9" x2="996.2" y2="1068.5"/><line x1="1001.8" y1="1019.7" x2="1029.2" y2="1088.6"/><line x1="989.3" y1="1013.7" x2="1033.9" y2="1076.2"/><line x1="1037.1" y1="1016.8" x2="1000.2" y2="1074.2"/><line x1="1035.3" y1="1014.5" x2="1005.6" y2="1062"/><line x1="1030.7" y1="1012.1" x2="992" y2="1085.7"/><line x1="989" y1="1016.7" x2="1039.6" y2="1077.5"/><line x1="1020.4" y1="1014.1" x2="1012.2" y2="1097"/><line x1="1038.4" y1="1013.1" x2="1015.3" y2="1056"/><line x1="989.1" y1="1015.6" x2="1049.9" y2="1067.1"/><line x1="1024.4" y1="1013" x2="1009.7" y2="1069.1"/><line x1="1015.4" y1="1013.8" x2="1021.9" y2="1065.7"/><line x1="1008.9" y1="1017.7" x2="1017" y2="1063.8"/><line x1="1027.5" y1="1019" x2="995.9" y2="1088.8"/><line x1="988.1" y1="1015.7" x2="1048.3" y2="1061.4"/><line x1="997.5" y1="1017.7" x2="1038.3" y2="1078.1"/><line x1="1005.3" y1="1012.3" x2="1023.9" y2="1066.6"/><line x1="1038.1" y1="1014.4" x2="998.8" y2="1068.6"/><line x1="1040.8" y1="1012.8" x2="996.9" y2="1061.2"/><line x1="1028.8" y1="1019.7" x2="1007.2" y2="1089.4"/><line x1="1017.1" y1="1016.5" x2="1025.8" y2="1093.6"/><line x1="1042.4" y1="1014.8" x2="989" y2="1080.6"/><line x1="993.7" y1="1012.6" x2="1047.3" y2="1068.7"/><line x1="1030.3" y1="1015.6" x2="1010.4" y2="1056.8"/><line x1="1023.8" y1="1015.5" x2="1009.9" y2="1074.5"/><line x1="1010.2" y1="1013.8" x2="1029.3" y2="1073.2"/></g><ellipse cx="1000" cy="1020" rx="40" ry="20" fill="#ef5a40" opacity="0.55" filter="url(#b6)"/><ellipse cx="1040" cy="1030" rx="14" ry="22" fill="#5e2a14" opacity="0.4" filter="url(#b3)"/></g><ellipse cx="1013" cy="1024" rx="72" ry="17" fill="#f06a4a" opacity="0.6" filter="url(#b6)"/><circle cx="1008.6" cy="1021.4" r="5.1" fill="#f1cbb2" opacity="0.5"/><circle cx="1028.6" cy="1037.1" r="4" fill="#f1cbb2" opacity="0.5"/><circle cx="1042.9" cy="1042.9" r="7.4" fill="#f1cbb2" opacity="0.5"/><circle cx="1008.6" cy="1051.4" r="3.7" fill="#f1cbb2" opacity="0.5"/><circle cx="1028.6" cy="1064.3" r="6.3" fill="#f1cbb2" opacity="0.5"/><circle cx="1000" cy="1072" r="6.3" fill="#f1cbb2" opacity="0.5"/><circle cx="1029.1" cy="1079.4" r="3.7" fill="#f1cbb2" opacity="0.5"/><circle cx="1050" cy="1030" r="4" fill="#f1cbb2" opacity="0.5"/><path d="M919.4,1010.9 C928.6,1010.9 958.2,1010.3 974.3,1010.9 C990.3,1011.4 1001.4,1014.3 1015.7,1014.3 C1030,1014.3 1044.3,1012 1060,1010.9 C1075.7,1009.7 1101.7,1007.8 1110,1007.1" fill="none" stroke="#d9a3bf" stroke-width="3.5"/><path d="M920,1007.4 C929,1007.4 958.3,1007.1 974.3,1007.4 C990.2,1007.7 1001.4,1009.2 1015.7,1009.1 C1030,1009 1044.1,1007.8 1060,1006.9 C1075.9,1005.9 1102.4,1004 1110.9,1003.4" fill="none" stroke="#86864e" stroke-width="4"/><path d="M924.9,984.3 L928.3,995.9 L922.4,1005.5 L918.6,993.9 Z" fill="#f09a55"/><path d="M924.9,984.3 L928.3,995.9 L922.4,1005.5 Z" fill="#a8962a" opacity="0.6"/><path d="M932.9,986.1 L936.2,997.7 L930.4,1007.3 L926.5,995.7 Z" fill="#f2aa50"/><path d="M932.9,986.1 L936.2,997.7 L930.4,1007.3 Z" fill="#a8962a" opacity="0.6"/><path d="M940.8,984 L944.2,995.5 L938.3,1005.1 L934.5,993.5 Z" fill="#efc048"/><path d="M940.8,984 L944.2,995.5 L938.3,1005.1 Z" fill="#a8962a" opacity="0.6"/><path d="M948.8,985.8 L952.1,997.4 L946.3,1006.9 L942.4,995.4 Z" fill="#ecd83c"/><path d="M948.8,985.8 L952.1,997.4 L946.3,1006.9 Z" fill="#a8962a" opacity="0.6"/><path d="M956.7,983.7 L960.1,995.2 L954.2,1004.8 L950.4,993.2 Z" fill="#ecd83c"/><path d="M956.7,983.7 L960.1,995.2 L954.2,1004.8 Z" fill="#a8962a" opacity="0.6"/><path d="M964.7,985.5 L968,997.1 L962.2,1006.7 L958.3,995.1 Z" fill="#ecd83c"/><path d="M964.7,985.5 L968,997.1 L962.2,1006.7 Z" fill="#a8962a" opacity="0.6"/><path d="M972.6,983.4 L976,995 L970.1,1004.6 L966.3,993 Z" fill="#ecd83c"/><path d="M972.6,983.4 L976,995 L970.1,1004.6 Z" fill="#a8962a" opacity="0.6"/><path d="M980.6,985.3 L983.9,996.9 L978.1,1006.5 L974.2,994.9 Z" fill="#ecd83c"/><path d="M980.6,985.3 L983.9,996.9 L978.1,1006.5 Z" fill="#a8962a" opacity="0.6"/><path d="M988.5,983.3 L991.9,994.8 L986,1004.4 L982.2,992.8 Z" fill="#ecd83c"/><path d="M988.5,983.3 L991.9,994.8 L986,1004.4 Z" fill="#a8962a" opacity="0.6"/><path d="M996.5,985.2 L999.8,996.8 L994,1006.3 L990.1,994.8 Z" fill="#ecd83c"/><path d="M996.5,985.2 L999.8,996.8 L994,1006.3 Z" fill="#a8962a" opacity="0.6"/><path d="M1004.4,983.2 L1007.8,994.7 L1001.9,1004.3 L998.1,992.7 Z" fill="#ecd83c"/><path d="M1004.4,983.2 L1007.8,994.7 L1001.9,1004.3 Z" fill="#a8962a" opacity="0.6"/><path d="M1012.4,985.1 L1015.7,996.7 L1009.9,1006.3 L1006,994.7 Z" fill="#ecd83c"/><path d="M1012.4,985.1 L1015.7,996.7 L1009.9,1006.3 Z" fill="#a8962a" opacity="0.6"/><path d="M1020.3,983.1 L1023.7,994.7 L1017.8,1004.3 L1014,992.7 Z" fill="#ecd83c"/><path d="M1020.3,983.1 L1023.7,994.7 L1017.8,1004.3 Z" fill="#a8962a" opacity="0.6"/><path d="M1028.3,985.2 L1031.6,996.7 L1025.8,1006.3 L1021.9,994.7 Z" fill="#ecd83c"/><path d="M1028.3,985.2 L1031.6,996.7 L1025.8,1006.3 Z" fill="#a8962a" opacity="0.6"/><path d="M1036.2,983.2 L1039.6,994.8 L1033.7,1004.3 L1029.9,992.8 Z" fill="#ecd83c"/><path d="M1036.2,983.2 L1039.6,994.8 L1033.7,1004.3 Z" fill="#a8962a" opacity="0.6"/><path d="M1044.2,985.2 L1047.5,996.8 L1041.7,1006.4 L1037.8,994.8 Z" fill="#ecd83c"/><path d="M1044.2,985.2 L1047.5,996.8 L1041.7,1006.4 Z" fill="#a8962a" opacity="0.6"/><path d="M1052.1,983.3 L1055.5,994.9 L1049.6,1004.5 L1045.8,992.9 Z" fill="#ecd83c"/><path d="M1052.1,983.3 L1055.5,994.9 L1049.6,1004.5 Z" fill="#a8962a" opacity="0.6"/><path d="M1060.1,985.4 L1063.4,997 L1057.6,1006.5 L1053.7,995 Z" fill="#ecd83c"/><path d="M1060.1,985.4 L1063.4,997 L1057.6,1006.5 Z" fill="#a8962a" opacity="0.6"/><path d="M1068,983.5 L1071.4,995.1 L1065.5,1004.6 L1061.7,993.1 Z" fill="#ecd83c"/><path d="M1068,983.5 L1071.4,995.1 L1065.5,1004.6 Z" fill="#a8962a" opacity="0.6"/><path d="M1076,985.6 L1079.3,997.2 L1073.5,1006.8 L1069.6,995.2 Z" fill="#ecd83c"/><path d="M1076,985.6 L1079.3,997.2 L1073.5,1006.8 Z" fill="#a8962a" opacity="0.6"/><path d="M1083.9,983.8 L1087.3,995.3 L1081.4,1004.9 L1077.6,993.3 Z" fill="#ecd83c"/><path d="M1083.9,983.8 L1087.3,995.3 L1081.4,1004.9 Z" fill="#a8962a" opacity="0.6"/><path d="M1091.9,985.9 L1095.2,997.5 L1089.4,1007.1 L1085.5,995.5 Z" fill="#ecd83c"/><path d="M1091.9,985.9 L1095.2,997.5 L1089.4,1007.1 Z" fill="#a8962a" opacity="0.6"/><path d="M1099.8,984.1 L1103.2,995.7 L1097.3,1005.2 L1093.5,993.7 Z" fill="#ecd83c"/><path d="M1099.8,984.1 L1103.2,995.7 L1097.3,1005.2 Z" fill="#a8962a" opacity="0.6"/><path d="M1107.8,986.3 L1111.1,997.9 L1105.3,1007.4 L1101.4,995.9 Z" fill="#ecd83c"/><path d="M1107.8,986.3 L1111.1,997.9 L1105.3,1007.4 Z" fill="#a8962a" opacity="0.6"/><path d="M1042.9,910 C1046.7,912.4 1058.1,921 1065.7,924.3 C1073.3,927.6 1081,929.5 1088.6,930 C1096.2,930.5 1105.2,927.4 1111.4,927.1 C1117.6,926.9 1121.7,926.7 1125.7,928.6 C1129.8,930.5 1133.6,934.5 1135.7,938.6 C1137.9,942.6 1138.9,948.2 1138.6,952.9 C1138.2,957.5 1134.5,964.3 1133.7,966.6" fill="none" stroke="#e9bfb2" stroke-width="3.2" stroke-linecap="round"/><path d="M898.6,831.4 C899.8,829.6 903.6,828 908.6,827.7 C913.6,827.4 922.4,829 928.6,829.4 C934.8,829.9 940,829.3 945.7,830.6 C951.4,831.9 958.1,834.9 962.9,837.1 C967.6,839.4 969,843.2 974.3,844.3 C979.5,845.4 987.6,842.8 994.3,843.7 C1001,844.7 1008.1,846.6 1014.3,850 C1020.5,853.4 1026.7,859 1031.4,864.3 C1036.2,869.5 1040,875.2 1042.9,881.4 C1045.7,887.6 1048.6,896.2 1048.6,901.4 C1048.6,906.7 1046.7,910.4 1042.9,912.9 C1039,915.3 1032.4,916.3 1025.7,916.3 C1019,916.3 1009.5,914.1 1002.9,912.9 C996.2,911.6 990.5,910 985.7,908.6 C981,907.1 978.6,906.4 974.3,904.3 C970,902.1 963.8,899 960,895.7 C956.2,892.4 954.3,888.1 951.4,884.3 C948.6,880.5 946.7,877.1 942.9,872.9 C939,868.6 933.8,862.9 928.6,858.6 C923.3,854.3 916,850.5 911.4,847.1 C906.9,843.8 903.6,841.2 901.4,838.6 C899.3,836 897.4,833.2 898.6,831.4Z" fill="#e7bcad"/><path d="M954.3,882.9 C956.4,882.9 960,892.4 960,895.7 C960,899 957.1,901.2 954.3,902.9 C951.4,904.5 946.4,905.2 942.9,905.7 C939.3,906.2 934.9,906.4 932.9,905.7 C930.9,905 929.7,902.5 930.9,901.4 C932,900.3 937.3,900.1 940,899.1 C942.7,898.2 944.8,898.4 947.1,895.7 C949.5,893 952.1,882.9 954.3,882.9Z" fill="#e7bcad"/><path d="M962.9,895.7 C966.2,895 974.3,901 974.3,904.3 C974.3,907.6 966.7,913.1 962.9,915.7 C959,918.3 955.5,919 951.4,920 C947.4,921 941.3,922.3 938.6,922 C935.8,921.7 933.7,919.1 934.9,918 C936,916.9 942.5,916.7 945.7,915.1 C949,913.6 951.4,911.8 954.3,908.6 C957.1,905.3 959.5,896.4 962.9,895.7Z" fill="#e7bcad"/><path d="M994.3,907.1 C998.6,907 1008.6,912.1 1008.6,914.3 C1008.6,916.4 999,918.7 994.3,920 C989.5,921.3 984,921.9 980,922 C976,922.1 971.7,921.7 970,920.9 C968.3,920 967.9,917.8 970,916.9 C972.1,915.9 978.8,916.8 982.9,915.1 C986.9,913.5 990,907.3 994.3,907.1Z" fill="#e7bcad"/><path d="M945.7,832.3 C946.5,829.8 950.4,827.9 952.9,827.1 C955.3,826.4 958.8,826.3 960.6,827.7 C962.3,829.1 963.5,832.7 963.4,835.7 C963.3,838.7 961.8,843.6 960,845.7 C958.2,847.9 954.9,849.2 952.9,848.6 C950.9,848 949.2,844.7 948,842 C946.8,839.3 944.9,834.8 945.7,832.3Z" fill="#edc6b8" stroke="#d9a898" stroke-width="0.6"/><path d="M950.9,837.1 C951.4,835.2 955,834 956.6,834.3 C958.1,834.5 959.9,836.8 960,838.6 C960.1,840.3 958.3,843.7 957.1,844.9 C956,846 954.2,847 953.1,845.7 C952.1,844.4 950.3,839 950.9,837.1Z" fill="#e0a898"/><ellipse cx="926.3" cy="837.7" rx="3.2" ry="2.4" fill="#8c3a38"/><path d="M1111.4,850 L1114.3,862.9 L1042.9,904.3 L1028.6,864.3 Z" fill="url(#gBeamR)" filter="url(#b3)"/><ellipse cx="1006" cy="872" rx="43" ry="35" fill="url(#gRedGlow)"/><ellipse cx="1014" cy="888" rx="30" ry="26" fill="url(#gRedGlow)" opacity="0.85"/><g transform="translate(1126,850) rotate(62)"><path d="M-9.5,-14.6 Q0,-18.7 9.5,-14.6 L10,-2.7 L-10,-2.7 Z" fill="url(#gBlk)"/><rect x="-10.8" y="-4.1" width="21.5" height="5.4" rx="1.4" fill="#b8404e"/><rect x="-10.5" y="-3.2" width="21" height="1.2" fill="#d86873" opacity="0.8"/><path d="M-11.5,1 L11.5,1 L12.5,15 Q0,19.4 -12.5,15 Z" fill="url(#gBlk)"/><ellipse cx="0" cy="15.5" rx="9" ry="1.2" fill="#2a1416" opacity="0.9"/></g><path d="M1015.7,897.1 L940,970 Q1018.6,988.3 1097.1,974.3 Z" fill="url(#gTri)" stroke="#ffffff" stroke-width="1"/><path d="M1015.7,877.7 l9.5,10.5 l-9.5,9.5 l-9.5,-9.5 Z" fill="#eab5a6" stroke="#d9d3d3" stroke-width="1.6"/><path d="M892,916.3 L902.9,911.4 L945.7,992.9 L921.4,992.9 Z" fill="url(#gBeamL)" filter="url(#b2)"/><g transform="rotate(-32 885 903.5)"><path d="M871.5,893.9 L871.5,913.1 A13.5,3.4 0 0 0 898.5,913.1 L898.5,893.9 Z" fill="url(#gCylSide)"/><ellipse cx="885" cy="893.9" rx="13.5" ry="3.4" fill="#f4a35f"/></g>
</svg>
</body></html>
